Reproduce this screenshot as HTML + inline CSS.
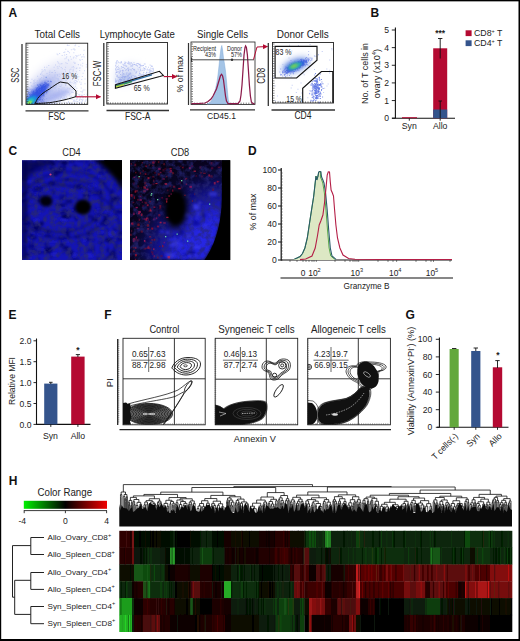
<!DOCTYPE html><html><head><meta charset="utf-8"><style>html,body{margin:0;padding:0;background:#fff;}svg{display:block;}</style></head><body>
<svg width="520" height="641" viewBox="0 0 520 641" font-family="Liberation Sans, sans-serif">
<defs>
<linearGradient id="cr" x1="0" x2="1" y1="0" y2="0"><stop offset="0" stop-color="#00f000"/><stop offset="0.5" stop-color="#000"/><stop offset="1" stop-color="#f00000"/></linearGradient>
<clipPath id="pa0"><rect x="26" y="43.5" width="62" height="61"/></clipPath>
<clipPath id="pa1"><rect x="107" y="42" width="61" height="63.5"/></clipPath>
<clipPath id="pa2"><rect x="191" y="42" width="64" height="62.5"/></clipPath>
<clipPath id="pa3"><rect x="272" y="42.5" width="62" height="62"/></clipPath>
<marker id="arr" viewBox="0 0 10 10" refX="9" refY="5" markerWidth="5" markerHeight="5" orient="auto"><path d="M0 0 L10 5 L0 10 z" fill="#b40a32"/></marker>
<filter id="b0_5" x="-50%" y="-50%" width="200%" height="200%"><feGaussianBlur stdDeviation="0.5"/></filter>
<filter id="b0_8" x="-50%" y="-50%" width="200%" height="200%"><feGaussianBlur stdDeviation="0.8"/></filter>
<filter id="b1" x="-50%" y="-50%" width="200%" height="200%"><feGaussianBlur stdDeviation="1"/></filter>
<filter id="b1_2" x="-50%" y="-50%" width="200%" height="200%"><feGaussianBlur stdDeviation="1.2"/></filter>
<filter id="b1_3" x="-50%" y="-50%" width="200%" height="200%"><feGaussianBlur stdDeviation="1.3"/></filter>
<filter id="b1_5" x="-50%" y="-50%" width="200%" height="200%"><feGaussianBlur stdDeviation="1.5"/></filter>
<filter id="b2" x="-50%" y="-50%" width="200%" height="200%"><feGaussianBlur stdDeviation="2"/></filter>
<filter id="b2_5" x="-50%" y="-50%" width="200%" height="200%"><feGaussianBlur stdDeviation="2.5"/></filter>
<filter id="b3" x="-50%" y="-50%" width="200%" height="200%"><feGaussianBlur stdDeviation="3"/></filter>
<filter id="b4" x="-50%" y="-50%" width="200%" height="200%"><feGaussianBlur stdDeviation="4"/></filter>
<filter id="b5" x="-50%" y="-50%" width="200%" height="200%"><feGaussianBlur stdDeviation="5"/></filter>
<filter id="b6" x="-50%" y="-50%" width="200%" height="200%"><feGaussianBlur stdDeviation="6"/></filter>
<filter id="b8" x="-50%" y="-50%" width="200%" height="200%"><feGaussianBlur stdDeviation="8"/></filter>
<filter id="nz" x="0" y="0" width="100%" height="100%"><feTurbulence type="fractalNoise" baseFrequency="0.18" numOctaves="3" seed="4"/><feColorMatrix type="matrix" values="0 0 0 0 0.02  0 0 0 0 0.02  0 0 0 0 0.18  3 0 0 0 -1.2"/></filter>
<filter id="nz2" x="0" y="0" width="100%" height="100%"><feTurbulence type="fractalNoise" baseFrequency="0.5" numOctaves="2" seed="9"/><feColorMatrix type="matrix" values="0 0 0 0 0.2  0 0 0 0 0.2  0 0 0 0 0.95  0 2.2 0 0 -1.15"/></filter>
</defs>
<rect x="0" y="0" width="520" height="641" fill="#fff"/>
<text x="8.5" y="17" font-size="12" text-anchor="start" font-weight="bold" fill="#111" >A</text>
<text x="57.3" y="37.5" font-size="10.2" text-anchor="middle" fill="#222" textLength="45.5" lengthAdjust="spacingAndGlyphs" >Total Cells</text>
<g clip-path="url(#pa0)"><ellipse cx="52" cy="82" rx="32" ry="16" fill="#e6e8f8" opacity="1" transform="rotate(-38 52 82)" filter="url(#b5)"/></g>
<g clip-path="url(#pa0)"><ellipse cx="44" cy="88" rx="20" ry="9" fill="#b8c0f0" opacity="1" transform="rotate(-40 44 88)" filter="url(#b4)"/></g>
<g clip-path="url(#pa0)"><ellipse cx="38" cy="93" rx="15" ry="5.5" fill="#3c5ae0" opacity="0.9" transform="rotate(-45 38 93)" filter="url(#b2)"/></g>
<g clip-path="url(#pa0)"><ellipse cx="56" cy="96" rx="17" ry="4" fill="#7888e8" opacity="0.6" transform="rotate(-22 56 96)" filter="url(#b2_5)"/></g>
<g clip-path="url(#pa0)" opacity="0.6">
<path fill="#b1bef1" d="M46.22 103.52h1v1h-1zM72.76 101.17h1v1h-1zM62.37 91.32h1v1h-1zM26.81 88.8h1v1h-1zM33.58 87.16h1v1h-1zM57.41 79.66h1v1h-1zM54.49 99.75h1v1h-1zM46.62 97.33h1v1h-1zM46.09 80.95h1v1h-1zM60.29 86.04h1v1h-1zM63.5 101.65h1v1h-1zM75.56 100.46h1v1h-1zM71.35 91.97h1v1h-1zM53.59 66.66h1v1h-1zM47.39 81.95h1v1h-1zM57.88 62.39h1v1h-1zM36.26 84.65h1v1h-1zM48.97 103.43h1v1h-1zM78.36 76.24h1v1h-1zM73.35 52.36h1v1h-1zM41.57 69.19h1v1h-1zM47.65 103.99h1v1h-1zM41.64 89.33h1v1h-1zM58.7 73.38h1v1h-1zM77.14 55.59h1v1h-1zM67.88 101.91h1v1h-1zM74.43 95.34h1v1h-1zM81.11 102.05h1v1h-1zM54.3 103.8h1v1h-1zM86.41 93.82h1v1h-1zM29.16 87.82h1v1h-1zM67.9 59.14h1v1h-1zM76.01 55.68h1v1h-1zM66.73 91.59h1v1h-1zM66.12 53.92h1v1h-1zM80.75 87.59h1v1h-1zM75.18 82.13h1v1h-1zM74.17 49.45h1v1h-1zM69.15 84.4h1v1h-1zM66.96 44.52h1v1h-1zM49.38 70.55h1v1h-1zM33.99 83.35h1v1h-1zM32.99 86.77h1v1h-1zM58.38 101.5h1v1h-1zM85.87 64.34h1v1h-1zM74.48 49.28h1v1h-1zM55.8 101.72h1v1h-1zM45.15 93.6h1v1h-1zM72 78.9h1v1h-1zM55.21 103.89h1v1h-1zM65.33 80.13h1v1h-1zM46.75 102.5h1v1h-1zM46.34 66.64h1v1h-1zM55.75 86.13h1v1h-1zM59.45 85.75h1v1h-1zM64.52 58.3h1v1h-1zM30.36 82.14h1v1h-1zM40.1 84.97h1v1h-1zM74.38 79.83h1v1h-1zM39.73 88.09h1v1h-1zM33.9 85.14h1v1h-1zM39.75 78.8h1v1h-1zM54.57 103.35h1v1h-1zM59.5 63.43h1v1h-1zM73.68 83.36h1v1h-1zM55.98 101.87h1v1h-1zM53.99 100.24h1v1h-1zM84.48 83.27h1v1h-1zM76.29 87.87h1v1h-1zM65.38 62.33h1v1h-1zM58.9 90.79h1v1h-1zM74.27 95.88h1v1h-1zM45.05 92.43h1v1h-1zM80.51 91.03h1v1h-1zM52.37 77.2h1v1h-1zM72.74 69.36h1v1h-1zM73.6 81.15h1v1h-1zM73.53 56.49h1v1h-1zM75.16 96.31h1v1h-1zM69 71.53h1v1h-1zM48.39 103.99h1v1h-1zM63.07 72.33h1v1h-1zM65.92 96.61h1v1h-1zM37.08 85.73h1v1h-1zM48.17 94.07h1v1h-1zM62.82 75.86h1v1h-1zM61.4 73.02h1v1h-1zM76.77 97.79h1v1h-1zM83.55 49.75h1v1h-1zM47.87 98.54h1v1h-1zM81.9 100.06h1v1h-1zM85.3 100.41h1v1h-1zM54.64 99.22h1v1h-1zM46.66 103.84h1v1h-1zM47.63 101.79h1v1h-1zM40.75 79.8h1v1h-1zM67.76 51.1h1v1h-1zM76.4 93.01h1v1h-1zM48.22 96.24h1v1h-1zM71.3 95.85h1v1h-1zM58.08 100.44h1v1h-1zM85.81 66.62h1v1h-1zM76.92 74.12h1v1h-1zM83.7 93.89h1v1h-1zM33.47 81.76h1v1h-1zM69.19 88.29h1v1h-1zM50.1 103.32h1v1h-1zM84.48 100.63h1v1h-1zM60.15 96.82h1v1h-1zM74.3 103.62h1v1h-1zM76.81 81.21h1v1h-1zM81.73 58.95h1v1h-1zM64.27 103.53h1v1h-1zM36.72 80.17h1v1h-1zM40.91 88.39h1v1h-1zM54.13 81.75h1v1h-1zM62.31 98.1h1v1h-1zM79.78 59.67h1v1h-1zM36.98 88.59h1v1h-1zM34.65 85.99h1v1h-1zM53.06 96.57h1v1h-1zM44.56 83.79h1v1h-1zM30.14 81.95h1v1h-1zM76.64 90.26h1v1h-1zM80.19 64.44h1v1h-1zM26.51 87.16h1v1h-1zM85.06 96.89h1v1h-1zM73.32 103.3h1v1h-1zM40.21 73.46h1v1h-1zM67.61 103.5h1v1h-1zM57.59 95.09h1v1h-1zM59.7 98.21h1v1h-1zM43.83 91.72h1v1h-1zM36.55 86.32h1v1h-1zM72.59 91.88h1v1h-1zM38.41 80.47h1v1h-1zM51.57 95.49h1v1h-1zM78.72 102.32h1v1h-1zM50.28 78.72h1v1h-1zM75.82 68.07h1v1h-1zM72.25 88.99h1v1h-1zM81.81 76.03h1v1h-1zM65.74 101.92h1v1h-1zM64.19 54.46h1v1h-1zM57.23 61.15h1v1h-1zM72.91 57.51h1v1h-1zM58.03 78.31h1v1h-1zM54.82 92.7h1v1h-1zM59.95 102.58h1v1h-1zM61.1 94.55h1v1h-1zM41.09 90.69h1v1h-1zM52.23 95.84h1v1h-1zM57.77 98.7h1v1h-1zM72.76 85.76h1v1h-1zM50.75 101.38h1v1h-1zM49.59 102.79h1v1h-1zM39.06 79.64h1v1h-1zM33.42 86.77h1v1h-1zM73.81 99.47h1v1h-1zM73.33 87.56h1v1h-1zM65.87 79.76h1v1h-1zM52.82 95.72h1v1h-1zM54.43 90.74h1v1h-1zM46.75 84.99h1v1h-1zM36.09 85.89h1v1h-1zM49.49 102.61h1v1h-1zM49.47 102.94h1v1h-1zM55.31 102.99h1v1h-1zM69.91 81.59h1v1h-1zM74.4 81.93h1v1h-1zM86.71 99.2h1v1h-1zM82.38 56.23h1v1h-1zM78.44 93.9h1v1h-1zM28.53 86.95h1v1h-1zM78.86 99.15h1v1h-1zM53.17 83.71h1v1h-1zM37.12 75.75h1v1h-1zM62.97 90.88h1v1h-1zM51.89 90.29h1v1h-1zM69.26 96.8h1v1h-1zM55.27 99.93h1v1h-1zM50.38 82h1v1h-1zM71.56 66.69h1v1h-1zM73.45 61.73h1v1h-1zM77.91 64.24h1v1h-1zM49.03 86.65h1v1h-1zM61.67 54.96h1v1h-1zM78.44 96.1h1v1h-1zM81.09 56.48h1v1h-1zM75.08 44.49h1v1h-1zM64.95 74.03h1v1h-1zM51.18 71.88h1v1h-1zM61.23 79.24h1v1h-1zM33.85 81.41h1v1h-1zM59.63 74.22h1v1h-1zM75.4 102.82h1v1h-1zM79.97 97.34h1v1h-1zM61.01 96.11h1v1h-1zM64.84 91.31h1v1h-1zM76.44 67.44h1v1h-1zM45.23 93.33h1v1h-1zM34.83 88.02h1v1h-1zM71.57 91.18h1v1h-1zM40.31 77.92h1v1h-1zM64.26 92.22h1v1h-1zM40.21 73.83h1v1h-1zM78.75 94.62h1v1h-1zM50.95 94.09h1v1h-1zM32.17 86.27h1v1h-1zM60.78 93.3h1v1h-1zM34.59 89.09h1v1h-1zM43.19 77.77h1v1h-1zM74.49 95.86h1v1h-1zM53.37 101.17h1v1h-1zM69.7 98.57h1v1h-1zM53.73 82.68h1v1h-1zM44.51 87.46h1v1h-1zM46.49 73.04h1v1h-1zM68.24 60.13h1v1h-1zM57.08 78.26h1v1h-1zM46.5 78.12h1v1h-1zM58.78 88.37h1v1h-1zM48.31 83.59h1v1h-1zM78.8 103.43h1v1h-1zM48.23 85.22h1v1h-1zM47.69 87.74h1v1h-1zM76.78 96.88h1v1h-1zM44.32 69.04h1v1h-1zM69.73 97.99h1v1h-1zM70.31 84.34h1v1h-1zM31.43 78.75h1v1h-1zM61.7 87.5h1v1h-1zM48.54 101.99h1v1h-1zM64.52 94.5h1v1h-1zM48.48 84.7h1v1h-1zM47.81 103.54h1v1h-1zM75.45 54.88h1v1h-1zM72.27 103.92h1v1h-1zM60.14 97.41h1v1h-1zM83.04 54.25h1v1h-1zM72.86 65.93h1v1h-1zM66.26 56.35h1v1h-1zM58.15 87.96h1v1h-1zM53.03 97.75h1v1h-1zM50.07 89.29h1v1h-1zM80.63 82.38h1v1h-1zM61.39 62.91h1v1h-1zM46.86 85.01h1v1h-1zM75.78 77.47h1v1h-1zM84.82 103.56h1v1h-1zM55.35 92.79h1v1h-1zM57.2 74.24h1v1h-1zM43.3 75.18h1v1h-1zM74.15 87.34h1v1h-1zM52.5 103.62h1v1h-1zM72.59 76.11h1v1h-1zM41.09 76.97h1v1h-1zM60.74 66.98h1v1h-1zM54.49 75.13h1v1h-1zM59.38 98.67h1v1h-1zM48.12 100.93h1v1h-1zM67.23 50.65h1v1h-1zM45.18 89.5h1v1h-1zM65.14 85.01h1v1h-1zM40.83 87.84h1v1h-1zM80.5 101.51h1v1h-1zM26.44 86.85h1v1h-1zM73.96 100.85h1v1h-1zM65.03 99.37h1v1h-1zM73.45 67.23h1v1h-1zM69.15 69.46h1v1h-1zM82.08 94.68h1v1h-1zM65.17 74.11h1v1h-1zM52.59 90.28h1v1h-1zM81.72 92.34h1v1h-1zM79.25 59.19h1v1h-1zM34.33 79.51h1v1h-1zM41.68 74.43h1v1h-1zM41.2 72.59h1v1h-1zM69.89 56.22h1v1h-1zM54.18 69.91h1v1h-1zM84.37 89.42h1v1h-1zM54.48 74.23h1v1h-1zM49.07 77.83h1v1h-1zM50.33 102.97h1v1h-1zM68.87 52.29h1v1h-1zM55.83 89.6h1v1h-1zM56.35 92.12h1v1h-1zM61.83 68.3h1v1h-1zM54.64 103.86h1v1h-1zM47.59 75.45h1v1h-1zM80.04 54.36h1v1h-1zM82.24 97.23h1v1h-1zM68.42 44.88h1v1h-1zM58.62 91.79h1v1h-1zM81.78 65.62h1v1h-1zM65.31 90.78h1v1h-1zM78.4 54.72h1v1h-1zM59.12 53.09h1v1h-1zM49.2 72.12h1v1h-1zM33.19 80.16h1v1h-1zM78.84 101.9h1v1h-1zM75.91 71.13h1v1h-1zM42.77 87.7h1v1h-1zM57.6 97.7h1v1h-1zM33.49 83.12h1v1h-1zM76.2 80.92h1v1h-1zM38.49 78.57h1v1h-1zM63.04 103.88h1v1h-1zM49.33 102.28h1v1h-1zM70.79 85.26h1v1h-1zM49.97 83.83h1v1h-1zM73.23 75.63h1v1h-1zM68.09 91.64h1v1h-1zM74.47 45.25h1v1h-1zM75.56 94.63h1v1h-1zM71.44 89.25h1v1h-1zM54.96 72.01h1v1h-1zM43.51 84.99h1v1h-1zM72.64 48.67h1v1h-1zM53.66 87.3h1v1h-1zM36.16 83.38h1v1h-1zM53.47 86.11h1v1h-1zM46.68 89.13h1v1h-1zM66.94 78.92h1v1h-1zM81.07 95.34h1v1h-1zM44 66.71h1v1h-1zM80.82 103.12h1v1h-1zM65.12 66.78h1v1h-1zM80.65 94.52h1v1h-1zM58.22 89.63h1v1h-1zM55.63 84.48h1v1h-1zM50.98 96.14h1v1h-1zM58.72 65.65h1v1h-1zM54.29 88.15h1v1h-1zM82.6 99.14h1v1h-1zM80.44 84.11h1v1h-1zM83.75 56.49h1v1h-1zM38.4 88.23h1v1h-1zM75.5 79.99h1v1h-1zM66.65 63.11h1v1h-1zM75.25 100.76h1v1h-1zM51.09 91.3h1v1h-1zM73.31 83.23h1v1h-1zM63.22 94.91h1v1h-1zM52.02 71.93h1v1h-1zM52.28 91.47h1v1h-1zM41.74 90.36h1v1h-1zM82.16 90.76h1v1h-1zM75.07 85.71h1v1h-1zM54.93 87.32h1v1h-1zM49.15 87.82h1v1h-1zM65.04 83.41h1v1h-1zM40.04 88.89h1v1h-1zM84.58 78.45h1v1h-1zM61.21 84.49h1v1h-1zM70.79 49.18h1v1h-1zM75.17 93.16h1v1h-1zM51.69 100.52h1v1h-1zM56.58 53.56h1v1h-1zM55.72 77.81h1v1h-1zM48.2 82.03h1v1h-1zM84.01 70.14h1v1h-1zM58.07 103.93h1v1h-1zM39.33 84.76h1v1h-1zM32.63 83.4h1v1h-1zM31.39 85.79h1v1h-1zM55.65 97.74h1v1h-1zM69.46 93.28h1v1h-1zM74.67 95.03h1v1h-1zM64.94 98.06h1v1h-1zM70.48 95.78h1v1h-1zM70.89 98.58h1v1h-1zM76.78 101.01h1v1h-1zM73.57 90.26h1v1h-1zM41.65 71.28h1v1h-1zM79.18 81.4h1v1h-1zM63.85 96.52h1v1h-1zM54.53 81.21h1v1h-1zM77.23 101.06h1v1h-1zM52.54 93.23h1v1h-1zM59.9 95.9h1v1h-1zM50.26 96.64h1v1h-1zM49.17 73.78h1v1h-1zM60.66 89.61h1v1h-1zM61.04 97.11h1v1h-1zM64.43 69.03h1v1h-1zM35.3 89.17h1v1h-1zM43.35 82.3h1v1h-1zM69.77 72.34h1v1h-1zM70.29 102.5h1v1h-1zM75.35 83.61h1v1h-1zM62.51 76.55h1v1h-1zM63.95 97.77h1v1h-1zM44.89 94.97h1v1h-1zM78.84 100.3h1v1h-1zM42.43 82.51h1v1h-1zM57.76 79.26h1v1h-1zM68.75 94.59h1v1h-1zM45.53 95.16h1v1h-1zM65.28 48.74h1v1h-1zM27.34 88.02h1v1h-1zM62.67 97.6h1v1h-1zM72.66 70.46h1v1h-1zM81.38 99h1v1h-1zM72.42 98.84h1v1h-1zM56.76 66.31h1v1h-1zM81.25 79.03h1v1h-1zM64.34 51.57h1v1h-1zM70.79 58.63h1v1h-1zM49.05 91.42h1v1h-1zM73.54 48.3h1v1h-1zM78.88 67.38h1v1h-1zM77.79 79.22h1v1h-1zM67.24 87.77h1v1h-1zM58.08 89.76h1v1h-1zM57.45 92.38h1v1h-1zM54.34 76.44h1v1h-1zM54.74 72.25h1v1h-1zM57.07 75.14h1v1h-1zM79.21 69.99h1v1h-1zM59.75 100.8h1v1h-1zM38.34 82.09h1v1h-1zM74.29 63h1v1h-1zM66.98 103.48h1v1h-1zM77.8 63.92h1v1h-1zM30.85 85.29h1v1h-1zM65.39 103.91h1v1h-1zM75.87 98.68h1v1h-1zM61.33 90.64h1v1h-1zM33.97 84.86h1v1h-1zM76.38 99.11h1v1h-1zM48.12 86.32h1v1h-1zM45.96 97.53h1v1h-1zM48.25 64.98h1v1h-1zM82.57 72.66h1v1h-1zM75.53 57.5h1v1h-1zM57.53 67.67h1v1h-1zM82.27 62.8h1v1h-1zM67.59 73.5h1v1h-1zM50.14 92.2h1v1h-1zM55.12 96.22h1v1h-1zM82.77 89.46h1v1h-1zM57.43 82.87h1v1h-1zM43.11 81.02h1v1h-1zM78.42 46.08h1v1h-1zM55.02 64.58h1v1h-1zM63.4 51.91h1v1h-1zM32.77 85.56h1v1h-1zM82.7 96.96h1v1h-1zM65.04 70.86h1v1h-1zM71.26 103.04h1v1h-1zM61.64 93.15h1v1h-1zM49.97 89.13h1v1h-1zM51.74 95.26h1v1h-1zM33.56 87.02h1v1h-1zM66.83 44.91h1v1h-1zM42.7 70.49h1v1h-1zM67.96 101.06h1v1h-1zM51.05 86.42h1v1h-1zM79.37 98.52h1v1h-1zM80.42 99.31h1v1h-1zM69.25 82.4h1v1h-1zM50.01 80.36h1v1h-1zM41.57 83.99h1v1h-1zM59.01 90.76h1v1h-1zM79.67 67.38h1v1h-1zM70.73 73.12h1v1h-1zM85.38 99.19h1v1h-1zM79.15 94.6h1v1h-1zM71.47 82.16h1v1h-1zM39.42 80.64h1v1h-1zM45.39 76.89h1v1h-1zM69.53 81.65h1v1h-1zM45.62 102.71h1v1h-1zM81.81 100.77h1v1h-1zM65.43 84.61h1v1h-1zM45.95 92.28h1v1h-1zM43.49 76.37h1v1h-1zM56.69 73.9h1v1h-1zM74.66 62.43h1v1h-1zM49.12 102.01h1v1h-1zM53.27 92.52h1v1h-1zM38.39 86.42h1v1h-1zM57.39 54.19h1v1h-1zM65.85 57.47h1v1h-1zM58.55 79.84h1v1h-1zM43.35 82.97h1v1h-1zM48.75 95.95h1v1h-1zM50.29 99.24h1v1h-1zM40.17 86.43h1v1h-1zM47.29 99.74h1v1h-1zM75.99 76.27h1v1h-1zM44.58 70.29h1v1h-1zM73.31 100.06h1v1h-1zM50.64 93.12h1v1h-1zM63.52 87.32h1v1h-1zM70.37 68.79h1v1h-1zM50.12 98.94h1v1h-1zM36.81 81.77h1v1h-1zM61.21 63.15h1v1h-1zM47.05 95.48h1v1h-1zM35.25 81.89h1v1h-1zM46.16 88.43h1v1h-1zM39.98 74.03h1v1h-1zM49.92 90.96h1v1h-1zM44.31 90.7h1v1h-1zM69.78 87.53h1v1h-1zM57.8 81.61h1v1h-1zM69.84 102.7h1v1h-1zM58.84 76.1h1v1h-1z"/>
<path fill="#8496e9" d="M42.93 103.38h1v1h-1zM39.71 94.94h1v1h-1zM36.1 90.83h1v1h-1zM34.09 89.89h1v1h-1zM39.25 91.71h1v1h-1zM44.85 103.26h1v1h-1zM41.08 93.39h1v1h-1zM43.91 103.94h1v1h-1zM45.96 101.51h1v1h-1zM43.49 96.04h1v1h-1zM43.02 93.22h1v1h-1zM43.25 101.19h1v1h-1zM42.21 101.55h1v1h-1zM42.38 97.37h1v1h-1zM43.2 95.01h1v1h-1zM32.17 89.01h1v1h-1zM43.77 101.14h1v1h-1zM37.88 91.63h1v1h-1zM45.61 102.48h1v1h-1zM27.31 89.53h1v1h-1zM45.5 101.86h1v1h-1zM27.84 90.6h1v1h-1zM41.99 103.72h1v1h-1zM26.28 89.4h1v1h-1zM27.24 89.36h1v1h-1zM26.05 90.21h1v1h-1zM29.15 89.5h1v1h-1zM43.47 99.43h1v1h-1zM42.81 100.51h1v1h-1zM43.48 96.25h1v1h-1zM44.22 100.97h1v1h-1zM29.52 88.63h1v1h-1zM42 103.51h1v1h-1zM42.93 95.06h1v1h-1zM33.86 91.2h1v1h-1zM34.33 89.39h1v1h-1zM41.75 98.73h1v1h-1zM31.92 91.27h1v1h-1zM40.33 93.36h1v1h-1zM38.67 92.37h1v1h-1zM30.73 88.76h1v1h-1zM43.12 93.96h1v1h-1zM37.27 92.29h1v1h-1zM44.25 103.39h1v1h-1zM43.96 103.07h1v1h-1zM31.99 90.61h1v1h-1zM44.17 98.65h1v1h-1zM29.54 89.5h1v1h-1zM46.07 102.14h1v1h-1zM38.21 91.03h1v1h-1zM43.97 103.71h1v1h-1zM37.91 90.48h1v1h-1zM46.2 98.31h1v1h-1zM43.88 101.47h1v1h-1zM31.14 89.93h1v1h-1zM35.07 91.76h1v1h-1zM44.27 100.86h1v1h-1zM42.81 92.88h1v1h-1zM35.06 90.68h1v1h-1zM31.83 90.5h1v1h-1zM45.39 101.83h1v1h-1zM43.47 103.96h1v1h-1zM43.08 95.37h1v1h-1z"/>
<path fill="#5c73e3" d="M37.9 101.29h1v1h-1zM41.48 102.53h1v1h-1zM42.14 99.52h1v1h-1zM39.11 99.56h1v1h-1zM38.76 102.24h1v1h-1zM39.28 102.36h1v1h-1zM29.1 91.65h1v1h-1zM36.51 94.87h1v1h-1zM39.84 103.76h1v1h-1zM40.97 100.54h1v1h-1zM39.63 97.37h1v1h-1zM38.92 103.54h1v1h-1zM35.31 94.43h1v1h-1zM37.81 103.69h1v1h-1zM27.8 91.46h1v1h-1zM37.84 93.5h1v1h-1zM40.59 94.42h1v1h-1zM38.09 96.71h1v1h-1zM30.61 91.32h1v1h-1zM40.1 99.35h1v1h-1zM31.79 92.15h1v1h-1zM37.85 100.88h1v1h-1zM37.12 93.72h1v1h-1zM42.68 101.48h1v1h-1zM31.22 91.41h1v1h-1zM35.35 92.14h1v1h-1zM39.59 99.89h1v1h-1zM40.59 100.66h1v1h-1zM38.45 103.19h1v1h-1zM33.81 95.18h1v1h-1zM40.44 98.24h1v1h-1zM32.54 92.16h1v1h-1zM41.42 101.54h1v1h-1zM42.69 98.18h1v1h-1zM34.7 92.64h1v1h-1zM28.35 91.9h1v1h-1zM32.72 94.04h1v1h-1zM32.46 91.41h1v1h-1zM42.11 98.96h1v1h-1zM39.63 100.41h1v1h-1zM32.98 94.29h1v1h-1zM39.39 102.72h1v1h-1zM41.5 96.59h1v1h-1zM39.38 98.81h1v1h-1zM37.04 94.93h1v1h-1zM42.8 101.28h1v1h-1zM37.74 103.82h1v1h-1zM35.5 95h1v1h-1zM40.62 102.69h1v1h-1zM40.36 101.34h1v1h-1zM39.4 102.27h1v1h-1zM27.48 92.79h1v1h-1zM37.53 96.92h1v1h-1zM35.63 103.86h1v1h-1zM28.43 92.88h1v1h-1zM37.14 93.11h1v1h-1zM37.38 97.15h1v1h-1zM27.89 91.76h1v1h-1zM38.37 103.9h1v1h-1zM36.88 96.72h1v1h-1zM33.23 92.24h1v1h-1zM34.99 95.09h1v1h-1zM34.57 92.16h1v1h-1zM42.26 100.21h1v1h-1zM39.73 100.01h1v1h-1zM28.59 92.55h1v1h-1zM32.02 92.89h1v1h-1zM40.86 101.05h1v1h-1zM38.43 98.32h1v1h-1zM39.85 103.39h1v1h-1zM29.87 92.87h1v1h-1z"/>
<path fill="#3955de" d="M26.77 103.49h1v1h-1zM30.46 103.66h1v1h-1zM31.93 104h1v1h-1zM34.7 99.95h1v1h-1zM28.12 97.57h1v1h-1zM37.45 101.66h1v1h-1zM36.67 99.47h1v1h-1zM36.85 103.77h1v1h-1zM34.94 103.01h1v1h-1zM33.33 103.42h1v1h-1zM31.21 103.79h1v1h-1zM35.14 103.68h1v1h-1zM36.36 101.91h1v1h-1zM28.21 103.32h1v1h-1zM29.73 95.12h1v1h-1zM32.02 103.6h1v1h-1zM29.53 103.72h1v1h-1zM34.07 103.58h1v1h-1zM35.01 99.67h1v1h-1zM30.86 94.23h1v1h-1zM33.87 101.58h1v1h-1zM31.48 102.94h1v1h-1zM33.17 104h1v1h-1zM29.52 95.53h1v1h-1zM30.22 103.36h1v1h-1zM33.86 102.41h1v1h-1zM32.08 103.74h1v1h-1zM32.03 103.09h1v1h-1zM26.69 103.35h1v1h-1zM27.07 97.79h1v1h-1zM33.75 103.05h1v1h-1zM35.24 99.86h1v1h-1zM26.98 102h1v1h-1zM30.43 96.78h1v1h-1zM27.28 95.15h1v1h-1zM34.5 95.6h1v1h-1zM35.21 102.46h1v1h-1zM34.84 103.65h1v1h-1zM34.48 95.3h1v1h-1zM34.52 104h1v1h-1zM30.14 103.77h1v1h-1zM34.88 98.11h1v1h-1zM37.54 102.52h1v1h-1zM26.79 103.88h1v1h-1zM32.12 103.64h1v1h-1zM36.96 100.7h1v1h-1zM35.16 101.44h1v1h-1zM33.85 101.87h1v1h-1zM28.38 97.23h1v1h-1zM29.47 102.57h1v1h-1zM29.15 103.95h1v1h-1zM33.27 103.8h1v1h-1zM29.42 94.03h1v1h-1zM35.79 98.25h1v1h-1zM33.3 94.81h1v1h-1zM26.64 103.81h1v1h-1zM33.54 103.24h1v1h-1zM34.27 103.6h1v1h-1zM33.17 103.62h1v1h-1zM33.04 103.04h1v1h-1zM27.05 102.23h1v1h-1zM29.72 103.9h1v1h-1zM35.28 97.77h1v1h-1zM36.18 103.08h1v1h-1zM34.33 103.18h1v1h-1zM30.66 96.09h1v1h-1zM35.26 103.3h1v1h-1zM34.31 97.81h1v1h-1zM29.26 103.33h1v1h-1zM26.14 97.37h1v1h-1zM35.39 103.37h1v1h-1zM36.42 100.88h1v1h-1zM36.96 97.7h1v1h-1zM33.05 96.4h1v1h-1zM35.35 102.05h1v1h-1zM26.93 95.55h1v1h-1zM31.4 103.45h1v1h-1zM38.18 86.34h1v1h-1zM33.9 100.75h1v1h-1zM40.71 90.09h1v1h-1zM28.64 100.92h1v1h-1zM36.99 87.47h1v1h-1zM37.05 95.04h1v1h-1zM32.49 101.3h1v1h-1zM43.34 95.13h1v1h-1zM41.36 90.6h1v1h-1zM30.54 102.91h1v1h-1zM37.07 100.11h1v1h-1zM30.73 94.16h1v1h-1zM42.55 89.77h1v1h-1zM48.3 84.81h1v1h-1zM27.04 104.01h1v1h-1zM46.83 90.38h1v1h-1zM38.56 93.37h1v1h-1zM41.44 88.45h1v1h-1zM38.64 99.96h1v1h-1zM37.58 94.41h1v1h-1zM47.76 84.97h1v1h-1zM38.83 96.76h1v1h-1zM33.38 103.61h1v1h-1zM37.13 84.54h1v1h-1zM42.04 89.66h1v1h-1zM39.11 96.22h1v1h-1zM28.78 104.47h1v1h-1zM50.12 80.68h1v1h-1zM35.94 98.19h1v1h-1zM28.81 99.68h1v1h-1zM34.53 95.53h1v1h-1zM32.05 99.77h1v1h-1zM42.95 93.61h1v1h-1zM43.77 89.12h1v1h-1zM29.55 99.25h1v1h-1zM33.24 97.63h1v1h-1zM42.78 91.61h1v1h-1zM31.32 103.34h1v1h-1zM46.04 92.26h1v1h-1zM40.13 84.91h1v1h-1zM42.39 91.36h1v1h-1zM42.12 91.53h1v1h-1zM28.65 101.43h1v1h-1zM39.41 94.96h1v1h-1zM50.65 81.14h1v1h-1zM36.1 90.5h1v1h-1zM39.77 97h1v1h-1zM36.24 95.63h1v1h-1zM43.8 89.52h1v1h-1zM34.95 94.83h1v1h-1zM44.58 87.66h1v1h-1zM50.45 81.11h1v1h-1zM34.21 97.62h1v1h-1zM32.83 92.92h1v1h-1zM34.84 97.76h1v1h-1zM46.58 84.32h1v1h-1zM43.02 84.79h1v1h-1zM35.96 93.54h1v1h-1zM29.17 96.71h1v1h-1zM35.64 88.44h1v1h-1zM50.4 86.72h1v1h-1zM38.72 98.96h1v1h-1zM39.7 94.97h1v1h-1zM30.1 95.84h1v1h-1zM35.64 89.28h1v1h-1zM45.47 83.19h1v1h-1zM36.01 94.67h1v1h-1zM29.87 103.46h1v1h-1zM34.77 98.32h1v1h-1zM38.94 88.03h1v1h-1zM40.69 91.77h1v1h-1zM44.17 90.48h1v1h-1zM36.84 92.16h1v1h-1zM41.12 89.01h1v1h-1zM42.82 94.3h1v1h-1zM35.84 95.15h1v1h-1zM37.37 96.89h1v1h-1zM41.61 86.18h1v1h-1zM31.98 102.95h1v1h-1zM32.1 101.89h1v1h-1zM40.91 87.83h1v1h-1zM31.14 95.77h1v1h-1zM32.93 90.7h1v1h-1zM35.6 94.47h1v1h-1zM42.49 92.19h1v1h-1zM42.16 89.84h1v1h-1zM31.98 96.81h1v1h-1zM35.89 99.35h1v1h-1zM31.47 94.34h1v1h-1zM36.17 91.72h1v1h-1zM43.24 92.64h1v1h-1zM35.7 96.37h1v1h-1zM39.53 90.94h1v1h-1zM39.39 90.81h1v1h-1zM33.61 98.02h1v1h-1zM27.24 99.15h1v1h-1zM43.89 91.92h1v1h-1zM26.85 102.26h1v1h-1zM30.91 99.56h1v1h-1zM37.94 99.06h1v1h-1zM37.87 89.12h1v1h-1zM39.95 90.04h1v1h-1zM43.65 89.22h1v1h-1zM40.76 92.17h1v1h-1zM43.89 86.09h1v1h-1zM34.37 93.43h1v1h-1zM36.6 91.35h1v1h-1zM39.78 88.11h1v1h-1zM26.91 97.5h1v1h-1zM35.3 96.8h1v1h-1zM30.4 96.61h1v1h-1zM35.96 88.55h1v1h-1zM29.03 96.8h1v1h-1zM44.4 82.14h1v1h-1zM44.07 90.94h1v1h-1zM31.56 97.62h1v1h-1zM36.43 96.97h1v1h-1zM36.48 91.39h1v1h-1zM47.56 86.37h1v1h-1zM44.5 86.61h1v1h-1zM36.19 96.02h1v1h-1zM47.59 85.02h1v1h-1zM39.44 96.43h1v1h-1zM33.91 101.06h1v1h-1zM36.95 90h1v1h-1zM35.9 94.27h1v1h-1zM34.33 97.25h1v1h-1zM32.77 93.65h1v1h-1zM27.87 102.77h1v1h-1zM42.91 89.82h1v1h-1zM32.7 94.58h1v1h-1zM39.66 94.64h1v1h-1zM41.66 94.7h1v1h-1zM32.68 99.19h1v1h-1zM38.66 94.94h1v1h-1zM27.29 94.74h1v1h-1zM47.7 80.79h1v1h-1zM35.06 94.7h1v1h-1zM48.18 83.39h1v1h-1zM31.93 97.07h1v1h-1zM35.8 96.18h1v1h-1zM36.66 90.7h1v1h-1zM39.26 93h1v1h-1zM43.67 84.05h1v1h-1zM36.67 92.68h1v1h-1zM28.72 100.66h1v1h-1zM37.07 92.35h1v1h-1zM39.72 95.8h1v1h-1zM47.44 83.93h1v1h-1zM33.63 97.09h1v1h-1zM27.68 103.81h1v1h-1zM39.8 98.8h1v1h-1zM43.59 90.25h1v1h-1zM39.63 95.05h1v1h-1zM28.07 98.79h1v1h-1zM45.77 87.54h1v1h-1zM30.31 101.33h1v1h-1zM33.91 94.56h1v1h-1zM32 95.3h1v1h-1zM41.73 86.71h1v1h-1zM41.67 99.61h1v1h-1zM37.9 88.66h1v1h-1zM36.15 93.93h1v1h-1zM40.29 98.78h1v1h-1zM26.42 97.46h1v1h-1zM39.53 90.14h1v1h-1zM46.32 85.36h1v1h-1zM44.91 85.17h1v1h-1zM36.42 92.63h1v1h-1z"/>
<path fill="#215bdc" d="M32.36 101.26h1v1h-1zM30.79 99.38h1v1h-1zM31.14 101.26h1v1h-1zM28.97 100.76h1v1h-1zM27.01 99.16h1v1h-1zM27.68 101.06h1v1h-1zM28.27 100.41h1v1h-1zM27.48 102.44h1v1h-1zM31.36 97.19h1v1h-1zM26.3 99.34h1v1h-1zM34.31 98.75h1v1h-1zM29.04 101.58h1v1h-1zM31.93 102.73h1v1h-1zM29.22 98.98h1v1h-1zM30.44 98.04h1v1h-1zM26.86 101.21h1v1h-1zM32.15 99.36h1v1h-1zM29.2 100.49h1v1h-1zM32.78 97.87h1v1h-1zM30.8 98.34h1v1h-1zM32.99 100.34h1v1h-1zM27.44 97.66h1v1h-1zM32.76 99.69h1v1h-1zM26.26 98.99h1v1h-1zM31.98 100.28h1v1h-1zM28.37 100.75h1v1h-1zM28.93 100.84h1v1h-1zM29.56 100.72h1v1h-1zM29.63 101.24h1v1h-1zM30.66 98.49h1v1h-1zM30.71 100.24h1v1h-1zM26.66 100.84h1v1h-1zM32.84 100.98h1v1h-1zM28.2 98.1h1v1h-1zM26.55 100.2h1v1h-1zM30.61 100.73h1v1h-1zM32.24 98.82h1v1h-1zM28.61 99.5h1v1h-1zM28.81 102.53h1v1h-1zM35.29 98.19h1v1h-1zM41.26 90.69h1v1h-1zM30.33 98.99h1v1h-1zM32.35 97.39h1v1h-1zM35.84 97.47h1v1h-1zM32.46 97.79h1v1h-1zM36.78 92.65h1v1h-1zM42.72 90.51h1v1h-1zM39.97 93.18h1v1h-1zM37.54 91.38h1v1h-1zM44.35 87.61h1v1h-1zM38.12 94.14h1v1h-1zM39.9 92.96h1v1h-1zM30.9 99.76h1v1h-1zM36.91 91.15h1v1h-1zM38.34 95.74h1v1h-1zM40.64 95.01h1v1h-1zM34.64 98.05h1v1h-1zM39.57 84.18h1v1h-1zM32.81 91.58h1v1h-1zM29.73 99.26h1v1h-1zM42.72 87.23h1v1h-1zM44.58 89.06h1v1h-1zM33.4 101.58h1v1h-1zM38.96 92.21h1v1h-1zM28.54 104.29h1v1h-1zM41.03 86.91h1v1h-1zM31.53 102.01h1v1h-1zM41.66 88.04h1v1h-1zM30.06 100.64h1v1h-1zM30.23 98.1h1v1h-1zM37.96 92.87h1v1h-1zM48.48 89.08h1v1h-1zM44.3 86.01h1v1h-1zM32.07 95.86h1v1h-1zM41.8 93.1h1v1h-1zM32.26 100.88h1v1h-1zM36.58 96.77h1v1h-1zM36.5 97.78h1v1h-1zM31.9 95.85h1v1h-1zM35.44 92.09h1v1h-1zM31.17 98.58h1v1h-1zM37.79 88.65h1v1h-1zM44.74 89.18h1v1h-1zM36.12 92.57h1v1h-1zM45.68 76.78h1v1h-1zM40.88 89.36h1v1h-1zM42.2 93.04h1v1h-1zM36.3 95.43h1v1h-1zM28.92 93.91h1v1h-1zM34.36 96.87h1v1h-1zM38.74 92.63h1v1h-1z"/>
</g>
<g clip-path="url(#pa0)"><ellipse cx="38" cy="93" rx="12" ry="3.5" fill="#3050e0" opacity="0.8" transform="rotate(-45 38 93)" filter="url(#b1_5)"/></g>
<g clip-path="url(#pa0)"><ellipse cx="31.5" cy="100.5" rx="6.5" ry="3.8" fill="#1890e0" opacity="1" transform="rotate(-35 31.5 100.5)" filter="url(#b1_2)"/></g>
<g clip-path="url(#pa0)"><ellipse cx="30" cy="101.5" rx="4.5" ry="2.6" fill="#30c8b0" opacity="1" transform="rotate(-30 30 101.5)" filter="url(#b0_8)"/></g>
<g clip-path="url(#pa0)"><ellipse cx="29.5" cy="102.5" rx="2.5" ry="1.6" fill="#90e050" opacity="1" transform="rotate(-30 29.5 102.5)" filter="url(#b0_5)"/></g>
<rect x="26" y="43.2" width="61.7" height="61.2" fill="none" stroke="#222" stroke-width="0.9" />
<line x1="22" y1="44" x2="22" y2="105.5" stroke="#333" stroke-width="1.3" />
<line x1="26.4" y1="45" x2="28.4" y2="45" stroke="#333" stroke-width="0.6" />
<line x1="26.4" y1="47.46" x2="28.4" y2="47.46" stroke="#333" stroke-width="0.6" />
<line x1="26.4" y1="49.92" x2="28.4" y2="49.92" stroke="#333" stroke-width="0.6" />
<line x1="26.4" y1="52.38" x2="28.4" y2="52.38" stroke="#333" stroke-width="0.6" />
<line x1="26.4" y1="54.83" x2="28.4" y2="54.83" stroke="#333" stroke-width="0.6" />
<line x1="26.4" y1="57.29" x2="28.4" y2="57.29" stroke="#333" stroke-width="0.6" />
<line x1="26.4" y1="59.75" x2="28.4" y2="59.75" stroke="#333" stroke-width="0.6" />
<line x1="26.4" y1="62.21" x2="28.4" y2="62.21" stroke="#333" stroke-width="0.6" />
<line x1="26.4" y1="64.67" x2="28.4" y2="64.67" stroke="#333" stroke-width="0.6" />
<line x1="26.4" y1="67.12" x2="28.4" y2="67.12" stroke="#333" stroke-width="0.6" />
<line x1="26.4" y1="69.58" x2="28.4" y2="69.58" stroke="#333" stroke-width="0.6" />
<line x1="26.4" y1="72.04" x2="28.4" y2="72.04" stroke="#333" stroke-width="0.6" />
<line x1="26.4" y1="74.5" x2="28.4" y2="74.5" stroke="#333" stroke-width="0.6" />
<line x1="26.4" y1="76.96" x2="28.4" y2="76.96" stroke="#333" stroke-width="0.6" />
<line x1="26.4" y1="79.42" x2="28.4" y2="79.42" stroke="#333" stroke-width="0.6" />
<line x1="26.4" y1="81.88" x2="28.4" y2="81.88" stroke="#333" stroke-width="0.6" />
<line x1="26.4" y1="84.33" x2="28.4" y2="84.33" stroke="#333" stroke-width="0.6" />
<line x1="26.4" y1="86.79" x2="28.4" y2="86.79" stroke="#333" stroke-width="0.6" />
<line x1="26.4" y1="89.25" x2="28.4" y2="89.25" stroke="#333" stroke-width="0.6" />
<line x1="26.4" y1="91.71" x2="28.4" y2="91.71" stroke="#333" stroke-width="0.6" />
<line x1="26.4" y1="94.17" x2="28.4" y2="94.17" stroke="#333" stroke-width="0.6" />
<line x1="26.4" y1="96.62" x2="28.4" y2="96.62" stroke="#333" stroke-width="0.6" />
<line x1="26.4" y1="99.08" x2="28.4" y2="99.08" stroke="#333" stroke-width="0.6" />
<line x1="26.4" y1="101.54" x2="28.4" y2="101.54" stroke="#333" stroke-width="0.6" />
<line x1="26.4" y1="104" x2="28.4" y2="104" stroke="#333" stroke-width="0.6" />
<line x1="25.5" y1="110.8" x2="88.5" y2="110.8" stroke="#333" stroke-width="1.3" />
<line x1="27" y1="104.3" x2="27" y2="102.7" stroke="#333" stroke-width="0.6" />
<line x1="29.5" y1="104.3" x2="29.5" y2="102.7" stroke="#333" stroke-width="0.6" />
<line x1="32" y1="104.3" x2="32" y2="102.7" stroke="#333" stroke-width="0.6" />
<line x1="34.5" y1="104.3" x2="34.5" y2="102.7" stroke="#333" stroke-width="0.6" />
<line x1="37" y1="104.3" x2="37" y2="102.7" stroke="#333" stroke-width="0.6" />
<line x1="39.5" y1="104.3" x2="39.5" y2="102.7" stroke="#333" stroke-width="0.6" />
<line x1="42" y1="104.3" x2="42" y2="102.7" stroke="#333" stroke-width="0.6" />
<line x1="44.5" y1="104.3" x2="44.5" y2="102.7" stroke="#333" stroke-width="0.6" />
<line x1="47" y1="104.3" x2="47" y2="102.7" stroke="#333" stroke-width="0.6" />
<line x1="49.5" y1="104.3" x2="49.5" y2="102.7" stroke="#333" stroke-width="0.6" />
<line x1="52" y1="104.3" x2="52" y2="102.7" stroke="#333" stroke-width="0.6" />
<line x1="54.5" y1="104.3" x2="54.5" y2="102.7" stroke="#333" stroke-width="0.6" />
<line x1="57" y1="104.3" x2="57" y2="102.7" stroke="#333" stroke-width="0.6" />
<line x1="59.5" y1="104.3" x2="59.5" y2="102.7" stroke="#333" stroke-width="0.6" />
<line x1="62" y1="104.3" x2="62" y2="102.7" stroke="#333" stroke-width="0.6" />
<line x1="64.5" y1="104.3" x2="64.5" y2="102.7" stroke="#333" stroke-width="0.6" />
<line x1="67" y1="104.3" x2="67" y2="102.7" stroke="#333" stroke-width="0.6" />
<line x1="69.5" y1="104.3" x2="69.5" y2="102.7" stroke="#333" stroke-width="0.6" />
<line x1="72" y1="104.3" x2="72" y2="102.7" stroke="#333" stroke-width="0.6" />
<line x1="74.5" y1="104.3" x2="74.5" y2="102.7" stroke="#333" stroke-width="0.6" />
<line x1="77" y1="104.3" x2="77" y2="102.7" stroke="#333" stroke-width="0.6" />
<line x1="79.5" y1="104.3" x2="79.5" y2="102.7" stroke="#333" stroke-width="0.6" />
<line x1="82" y1="104.3" x2="82" y2="102.7" stroke="#333" stroke-width="0.6" />
<line x1="84.5" y1="104.3" x2="84.5" y2="102.7" stroke="#333" stroke-width="0.6" />
<line x1="87" y1="104.3" x2="87" y2="102.7" stroke="#333" stroke-width="0.6" />
<text x="15.5" y="75.2" font-size="10" text-anchor="middle" fill="#222" textLength="15" lengthAdjust="spacingAndGlyphs" transform="rotate(-90 15.5 75.2)" dy="3.6">SSC</text>
<text x="56.7" y="120" font-size="10.2" text-anchor="middle" fill="#222" textLength="17" lengthAdjust="spacingAndGlyphs" >FSC</text>
<path d="M35.2 103.5 C37 99 38.5 97 40.5 95.3 C44 92 47 90.5 49.4 89 C53 86.5 57 83.5 60.2 82 L67.8 83.2 L76 90.9 L76 96.6 C70 98.5 66 99.5 62 100.4 C57 101.5 53 102.2 49.4 102.7 C44 103.2 39 103.4 35.2 103.5 Z" fill="none" stroke="#111" stroke-width="1" />
<text x="69.5" y="78.8" font-size="8.6" text-anchor="middle" fill="#222" textLength="15.3" lengthAdjust="spacingAndGlyphs" >16 %</text>
<line x1="76" y1="96.8" x2="100.5" y2="96.8" stroke="#b40a32" stroke-width="1.1" marker-end="url(#arr)"/>
<text x="137.3" y="37.5" font-size="10.2" text-anchor="middle" fill="#222" textLength="75" lengthAdjust="spacingAndGlyphs" >Lymphocyte Gate</text>
<g clip-path="url(#pa1)"><ellipse cx="128" cy="74" rx="13" ry="9" fill="#dae0f6" opacity="1" transform="rotate(-20 128 74)" filter="url(#b4)"/></g>
<g clip-path="url(#pa1)"><ellipse cx="125" cy="79" rx="9" ry="4.5" fill="#b8c6ee" opacity="1" transform="rotate(-20 125 79)" filter="url(#b2_5)"/></g>
<g clip-path="url(#pa1)" opacity="0.45">
<path fill="#b1bef1" d="M121.75 76.07h1v1h-1zM144.63 67.9h1v1h-1zM119.66 82.92h1v1h-1zM128.66 78.77h1v1h-1zM135.92 71.73h1v1h-1zM125.61 68.98h1v1h-1zM117.97 64.81h1v1h-1zM136.79 66.35h1v1h-1zM121.15 82.42h1v1h-1zM118.26 68.71h1v1h-1zM149.02 73.41h1v1h-1zM115.67 83.09h1v1h-1z"/>
<path fill="#8496e9" d="M148.63 74.91h1v1h-1zM131.7 65.68h1v1h-1zM134.45 70.39h1v1h-1zM116.06 84.1h1v1h-1zM140.17 77.33h1v1h-1zM143.37 71.69h1v1h-1zM135.79 76.61h1v1h-1zM116.74 60.03h1v1h-1zM123.83 81.33h1v1h-1zM145.25 65.92h1v1h-1zM124.36 77.58h1v1h-1zM141.3 77.09h1v1h-1zM116.81 68.84h1v1h-1zM130.22 73.54h1v1h-1zM137.19 65.38h1v1h-1zM127.11 68.29h1v1h-1zM122.06 77.08h1v1h-1zM135.97 63.59h1v1h-1zM144.61 63.54h1v1h-1zM121.21 79.31h1v1h-1zM148.86 72.31h1v1h-1zM141.59 64.96h1v1h-1zM130.71 79.28h1v1h-1zM122.5 70.42h1v1h-1zM130.92 62.23h1v1h-1zM130.66 69.48h1v1h-1zM137.59 63.06h1v1h-1zM115.09 80.46h1v1h-1zM152.45 72.81h1v1h-1zM137.46 68.44h1v1h-1zM140.55 74.96h1v1h-1zM115.25 68.91h1v1h-1zM120.75 60.94h1v1h-1zM133.2 69.24h1v1h-1zM137.83 74.81h1v1h-1zM115.86 84.64h1v1h-1zM117.48 82.8h1v1h-1zM151.39 68.17h1v1h-1zM141.33 75.6h1v1h-1zM122.15 75.73h1v1h-1zM127.23 67.76h1v1h-1zM149.45 72.06h1v1h-1zM115.29 64.65h1v1h-1zM145.52 66.62h1v1h-1zM121.32 83.05h1v1h-1zM148.04 74.08h1v1h-1zM133.02 69.14h1v1h-1zM124.91 69.67h1v1h-1zM124.22 67.91h1v1h-1zM142.22 74.55h1v1h-1zM130.34 79.3h1v1h-1zM142.61 74.06h1v1h-1zM141.11 75.13h1v1h-1zM119.53 76.73h1v1h-1zM115.58 69.72h1v1h-1zM120 83.26h1v1h-1zM116.86 75.27h1v1h-1zM116.38 83.01h1v1h-1zM118.28 80.37h1v1h-1zM116.91 83.66h1v1h-1zM128.17 62.61h1v1h-1zM115.95 81.09h1v1h-1zM130.41 77.4h1v1h-1zM146 74.09h1v1h-1zM120.93 62.17h1v1h-1zM139.52 77.13h1v1h-1zM122.64 79.83h1v1h-1zM128.22 67.47h1v1h-1zM119.98 73.88h1v1h-1zM135.84 77.4h1v1h-1zM150.14 67.57h1v1h-1zM124.37 63.12h1v1h-1zM116.15 81.16h1v1h-1zM127 79.79h1v1h-1zM150.28 72.89h1v1h-1zM129.87 62.52h1v1h-1zM152.57 68.83h1v1h-1zM122.77 75.68h1v1h-1zM136.63 78.39h1v1h-1zM133.91 76.32h1v1h-1zM131.95 68.11h1v1h-1zM117.65 82.33h1v1h-1zM132.79 64.28h1v1h-1zM119.98 81.18h1v1h-1zM121.04 61.65h1v1h-1zM115.6 61.9h1v1h-1zM115.13 79.78h1v1h-1zM151.25 66.04h1v1h-1zM130.6 64.98h1v1h-1zM135.94 71.76h1v1h-1zM120.27 69.7h1v1h-1zM132.31 77.83h1v1h-1zM120.63 79.71h1v1h-1zM130.37 68.89h1v1h-1zM139.99 69.51h1v1h-1zM128.42 68.93h1v1h-1zM142.11 74.79h1v1h-1zM150.78 72.99h1v1h-1zM150.97 65.65h1v1h-1zM139.71 73.65h1v1h-1zM141.21 76.16h1v1h-1zM119.42 79.38h1v1h-1zM117.33 76.57h1v1h-1zM132.59 75h1v1h-1zM126.93 79.27h1v1h-1zM115.13 69.37h1v1h-1zM124.44 61.47h1v1h-1zM144.55 68.99h1v1h-1zM138.29 63.17h1v1h-1zM141.17 74.16h1v1h-1zM143.86 69.63h1v1h-1zM146.53 69.61h1v1h-1zM115.11 73.46h1v1h-1zM119.85 79.3h1v1h-1zM152.32 73.75h1v1h-1zM149.57 64.59h1v1h-1zM123.23 72.95h1v1h-1zM126.18 73.6h1v1h-1zM115.65 83.78h1v1h-1zM116.33 70.84h1v1h-1zM120.86 66h1v1h-1zM123.45 73.64h1v1h-1zM149.28 69.74h1v1h-1zM117.77 68.81h1v1h-1zM138.85 75.59h1v1h-1zM142.9 76.01h1v1h-1zM118.75 68.36h1v1h-1zM142.38 74.75h1v1h-1zM136.4 70.79h1v1h-1zM118.79 71.83h1v1h-1zM135.08 76.31h1v1h-1zM126.41 72.37h1v1h-1zM115.29 67.9h1v1h-1zM121.74 70.13h1v1h-1zM134.23 64.06h1v1h-1zM122.41 69.51h1v1h-1zM117.85 80.56h1v1h-1zM142.53 73.78h1v1h-1zM139.05 77.43h1v1h-1zM116.29 84.11h1v1h-1zM127.88 78.68h1v1h-1zM129.67 72.28h1v1h-1zM138.82 71.17h1v1h-1zM116.65 83.71h1v1h-1zM128.74 77.57h1v1h-1zM119.62 78.22h1v1h-1zM138.63 66.97h1v1h-1zM134.4 78.26h1v1h-1zM135.2 75.73h1v1h-1zM152 65.63h1v1h-1zM128.04 70.29h1v1h-1zM115.89 67.1h1v1h-1zM126.94 80.57h1v1h-1zM116.39 60.4h1v1h-1zM121.65 66.68h1v1h-1zM116.65 83.7h1v1h-1zM130.7 65.36h1v1h-1zM118.28 66.7h1v1h-1zM123.32 81.04h1v1h-1zM151.51 73.46h1v1h-1zM128.31 62.12h1v1h-1zM121.67 74.49h1v1h-1zM139.65 76.56h1v1h-1zM150.8 73.72h1v1h-1zM123.35 78.87h1v1h-1zM128.17 61.22h1v1h-1zM145.49 73.05h1v1h-1zM140.15 73.82h1v1h-1zM126.22 65.4h1v1h-1zM132.51 79.7h1v1h-1zM122.95 64.5h1v1h-1zM120.95 76.9h1v1h-1zM123.84 76.13h1v1h-1zM119.77 62.48h1v1h-1zM135.16 64.46h1v1h-1zM120.29 62.23h1v1h-1zM152.5 67.71h1v1h-1zM143.44 74.25h1v1h-1zM124.83 64.86h1v1h-1zM131 75.64h1v1h-1zM123.57 64.67h1v1h-1zM140.13 68.61h1v1h-1zM115.54 63.34h1v1h-1zM127.65 76.22h1v1h-1zM141.94 65.34h1v1h-1zM123.41 78.83h1v1h-1zM122.95 82.42h1v1h-1zM119.77 82.81h1v1h-1zM139.98 75.7h1v1h-1zM128.22 63.56h1v1h-1zM122.42 63.75h1v1h-1zM116.64 71.86h1v1h-1zM130.15 72.99h1v1h-1zM146.8 68.57h1v1h-1zM115.35 71.86h1v1h-1zM138.87 72.76h1v1h-1zM130.36 65.64h1v1h-1zM123.97 79.2h1v1h-1zM152.6 70.66h1v1h-1zM138.52 63.92h1v1h-1zM122.1 77.49h1v1h-1zM118.63 72.79h1v1h-1zM153 69.4h1v1h-1zM118.53 62.34h1v1h-1zM140.85 65.28h1v1h-1zM131.87 78.46h1v1h-1zM142.97 72.21h1v1h-1zM120.74 78.89h1v1h-1zM129.94 73.33h1v1h-1zM115.03 78.59h1v1h-1zM140.32 75.15h1v1h-1zM130.08 78.48h1v1h-1zM148 73.71h1v1h-1zM139.03 67.36h1v1h-1zM138.55 75.09h1v1h-1zM127.14 80.51h1v1h-1zM142.65 68.53h1v1h-1zM123.26 66.75h1v1h-1zM118.96 81.55h1v1h-1zM134.38 75.52h1v1h-1zM119.52 82.67h1v1h-1zM122.57 73.44h1v1h-1zM128.85 62.48h1v1h-1zM118.94 71.56h1v1h-1zM118.16 83.23h1v1h-1zM151.26 71.15h1v1h-1zM126.48 76.2h1v1h-1zM125.24 80.08h1v1h-1zM132.41 79.75h1v1h-1zM139.39 73.78h1v1h-1zM148.82 71.56h1v1h-1zM121.98 72.29h1v1h-1zM139.7 63.68h1v1h-1zM124.3 64.51h1v1h-1zM133.16 68.81h1v1h-1zM150.1 69.79h1v1h-1zM142.83 76.53h1v1h-1zM128.58 72.94h1v1h-1zM147.54 72.34h1v1h-1zM149.3 68.81h1v1h-1zM123.14 76.05h1v1h-1zM142.12 74.46h1v1h-1zM130.99 76.68h1v1h-1zM143.85 75.14h1v1h-1zM115.18 81.89h1v1h-1zM143.08 75.47h1v1h-1zM115.7 80.25h1v1h-1zM131.49 63.34h1v1h-1zM149.08 71.17h1v1h-1zM140.31 65.42h1v1h-1zM116.37 63.32h1v1h-1zM133.46 62.3h1v1h-1zM138.45 69.49h1v1h-1zM117.97 81.44h1v1h-1zM136.8 62.91h1v1h-1zM151.89 70.75h1v1h-1zM152.73 67.94h1v1h-1zM118.44 81.85h1v1h-1zM139.8 77.19h1v1h-1zM137.18 78.15h1v1h-1zM142.36 70.11h1v1h-1zM146.84 69.43h1v1h-1zM125.39 62.11h1v1h-1zM148.55 69.79h1v1h-1zM118.31 76.96h1v1h-1zM115.02 65.48h1v1h-1zM130 80.48h1v1h-1zM126.06 69.21h1v1h-1zM150.65 65.26h1v1h-1zM122.59 76.38h1v1h-1zM147.98 66.86h1v1h-1zM143.84 63.48h1v1h-1zM122.65 66.98h1v1h-1zM134.06 77.69h1v1h-1zM116.16 61.46h1v1h-1zM117.65 66.81h1v1h-1zM148.16 69.52h1v1h-1zM149.5 74.21h1v1h-1zM116.57 79.77h1v1h-1zM146.33 71.49h1v1h-1zM120.66 67.71h1v1h-1zM116.46 74.43h1v1h-1zM119.4 69.84h1v1h-1zM152.89 70.67h1v1h-1zM143.22 67.25h1v1h-1zM128.31 79.75h1v1h-1zM117.54 69.19h1v1h-1z"/>
<path fill="#5c73e3" d="M116.64 66.01h1v1h-1zM117.61 71.26h1v1h-1zM134.07 69.36h1v1h-1zM139.59 66.51h1v1h-1zM146.68 74.23h1v1h-1zM116.4 75.78h1v1h-1zM115.17 81.1h1v1h-1zM149.74 71.35h1v1h-1zM119.34 78.94h1v1h-1zM117.51 83.05h1v1h-1zM145.39 75.01h1v1h-1zM135.41 72.54h1v1h-1zM132 64.58h1v1h-1zM145.66 75.11h1v1h-1zM124.13 80.87h1v1h-1zM119.76 71.35h1v1h-1zM140.35 70.15h1v1h-1zM144.47 74.57h1v1h-1zM127.68 78.26h1v1h-1zM120.17 81.94h1v1h-1zM127.52 74.88h1v1h-1zM136.32 65.11h1v1h-1zM142.86 64.92h1v1h-1zM118.79 83.01h1v1h-1zM135.68 77h1v1h-1zM116.06 72.04h1v1h-1zM144.13 67.91h1v1h-1zM117.7 61.58h1v1h-1zM127.3 62.75h1v1h-1zM139.96 64.79h1v1h-1zM133.87 64.08h1v1h-1zM146.71 74.58h1v1h-1zM125.6 65.87h1v1h-1zM122.37 70.29h1v1h-1zM124.17 76.38h1v1h-1zM137.87 77.09h1v1h-1zM142.89 74.77h1v1h-1zM136.62 77.21h1v1h-1zM129.5 63.7h1v1h-1zM150.63 70.15h1v1h-1zM149.08 74.55h1v1h-1zM127.81 69.86h1v1h-1zM128.59 74.09h1v1h-1zM118.51 82.47h1v1h-1zM125.09 76.23h1v1h-1zM139 64.35h1v1h-1zM120.56 79.8h1v1h-1zM139.38 72.99h1v1h-1zM128.95 77.13h1v1h-1zM124.46 62.65h1v1h-1zM145.95 72.03h1v1h-1z"/>
</g>
<path d="M115.4 85 L152 74.2 L152 75.4 L115.4 86.6 Z" fill="#2a6ea8" stroke="none" stroke-width="1" />
<path d="M115.4 85.8 L132 80.9 L132 82.3 L115.4 87.4 Z" fill="#3a9a50" stroke="none" stroke-width="1" />
<path d="M115.4 86.4 L124 83.9 L124 85.2 L115.4 87.8 Z" fill="#c8dc3c" stroke="none" stroke-width="1" />
<rect x="106.8" y="42.5" width="60.7" height="61.5" fill="none" stroke="#222" stroke-width="0.9" />
<line x1="103.8" y1="43" x2="103.8" y2="106" stroke="#333" stroke-width="1.3" />
<line x1="107.2" y1="44" x2="108.8" y2="44" stroke="#333" stroke-width="0.6" />
<line x1="107.2" y1="46.46" x2="108.8" y2="46.46" stroke="#333" stroke-width="0.6" />
<line x1="107.2" y1="48.92" x2="108.8" y2="48.92" stroke="#333" stroke-width="0.6" />
<line x1="107.2" y1="51.38" x2="108.8" y2="51.38" stroke="#333" stroke-width="0.6" />
<line x1="107.2" y1="53.83" x2="108.8" y2="53.83" stroke="#333" stroke-width="0.6" />
<line x1="107.2" y1="56.29" x2="108.8" y2="56.29" stroke="#333" stroke-width="0.6" />
<line x1="107.2" y1="58.75" x2="108.8" y2="58.75" stroke="#333" stroke-width="0.6" />
<line x1="107.2" y1="61.21" x2="108.8" y2="61.21" stroke="#333" stroke-width="0.6" />
<line x1="107.2" y1="63.67" x2="108.8" y2="63.67" stroke="#333" stroke-width="0.6" />
<line x1="107.2" y1="66.12" x2="108.8" y2="66.12" stroke="#333" stroke-width="0.6" />
<line x1="107.2" y1="68.58" x2="108.8" y2="68.58" stroke="#333" stroke-width="0.6" />
<line x1="107.2" y1="71.04" x2="108.8" y2="71.04" stroke="#333" stroke-width="0.6" />
<line x1="107.2" y1="73.5" x2="108.8" y2="73.5" stroke="#333" stroke-width="0.6" />
<line x1="107.2" y1="75.96" x2="108.8" y2="75.96" stroke="#333" stroke-width="0.6" />
<line x1="107.2" y1="78.42" x2="108.8" y2="78.42" stroke="#333" stroke-width="0.6" />
<line x1="107.2" y1="80.88" x2="108.8" y2="80.88" stroke="#333" stroke-width="0.6" />
<line x1="107.2" y1="83.33" x2="108.8" y2="83.33" stroke="#333" stroke-width="0.6" />
<line x1="107.2" y1="85.79" x2="108.8" y2="85.79" stroke="#333" stroke-width="0.6" />
<line x1="107.2" y1="88.25" x2="108.8" y2="88.25" stroke="#333" stroke-width="0.6" />
<line x1="107.2" y1="90.71" x2="108.8" y2="90.71" stroke="#333" stroke-width="0.6" />
<line x1="107.2" y1="93.17" x2="108.8" y2="93.17" stroke="#333" stroke-width="0.6" />
<line x1="107.2" y1="95.62" x2="108.8" y2="95.62" stroke="#333" stroke-width="0.6" />
<line x1="107.2" y1="98.08" x2="108.8" y2="98.08" stroke="#333" stroke-width="0.6" />
<line x1="107.2" y1="100.54" x2="108.8" y2="100.54" stroke="#333" stroke-width="0.6" />
<line x1="107.2" y1="103" x2="108.8" y2="103" stroke="#333" stroke-width="0.6" />
<line x1="106.5" y1="110.5" x2="169" y2="110.5" stroke="#333" stroke-width="1.3" />
<line x1="108" y1="104" x2="108" y2="102.4" stroke="#333" stroke-width="0.6" />
<line x1="110.46" y1="104" x2="110.46" y2="102.4" stroke="#333" stroke-width="0.6" />
<line x1="112.92" y1="104" x2="112.92" y2="102.4" stroke="#333" stroke-width="0.6" />
<line x1="115.38" y1="104" x2="115.38" y2="102.4" stroke="#333" stroke-width="0.6" />
<line x1="117.83" y1="104" x2="117.83" y2="102.4" stroke="#333" stroke-width="0.6" />
<line x1="120.29" y1="104" x2="120.29" y2="102.4" stroke="#333" stroke-width="0.6" />
<line x1="122.75" y1="104" x2="122.75" y2="102.4" stroke="#333" stroke-width="0.6" />
<line x1="125.21" y1="104" x2="125.21" y2="102.4" stroke="#333" stroke-width="0.6" />
<line x1="127.67" y1="104" x2="127.67" y2="102.4" stroke="#333" stroke-width="0.6" />
<line x1="130.12" y1="104" x2="130.12" y2="102.4" stroke="#333" stroke-width="0.6" />
<line x1="132.58" y1="104" x2="132.58" y2="102.4" stroke="#333" stroke-width="0.6" />
<line x1="135.04" y1="104" x2="135.04" y2="102.4" stroke="#333" stroke-width="0.6" />
<line x1="137.5" y1="104" x2="137.5" y2="102.4" stroke="#333" stroke-width="0.6" />
<line x1="139.96" y1="104" x2="139.96" y2="102.4" stroke="#333" stroke-width="0.6" />
<line x1="142.42" y1="104" x2="142.42" y2="102.4" stroke="#333" stroke-width="0.6" />
<line x1="144.88" y1="104" x2="144.88" y2="102.4" stroke="#333" stroke-width="0.6" />
<line x1="147.33" y1="104" x2="147.33" y2="102.4" stroke="#333" stroke-width="0.6" />
<line x1="149.79" y1="104" x2="149.79" y2="102.4" stroke="#333" stroke-width="0.6" />
<line x1="152.25" y1="104" x2="152.25" y2="102.4" stroke="#333" stroke-width="0.6" />
<line x1="154.71" y1="104" x2="154.71" y2="102.4" stroke="#333" stroke-width="0.6" />
<line x1="157.17" y1="104" x2="157.17" y2="102.4" stroke="#333" stroke-width="0.6" />
<line x1="159.62" y1="104" x2="159.62" y2="102.4" stroke="#333" stroke-width="0.6" />
<line x1="162.08" y1="104" x2="162.08" y2="102.4" stroke="#333" stroke-width="0.6" />
<line x1="164.54" y1="104" x2="164.54" y2="102.4" stroke="#333" stroke-width="0.6" />
<line x1="167" y1="104" x2="167" y2="102.4" stroke="#333" stroke-width="0.6" />
<text x="97.3" y="73.5" font-size="10" text-anchor="middle" fill="#222" textLength="25.5" lengthAdjust="spacingAndGlyphs" transform="rotate(-90 97.3 73.5)" dy="3.6">FSC-W</text>
<text x="137.7" y="119.5" font-size="10.2" text-anchor="middle" fill="#222" textLength="25.5" lengthAdjust="spacingAndGlyphs" >FSC-A</text>
<path d="M115.4 84.8 L159.4 71.3 L163.4 75.5 L159.8 76.6 L115.4 88.3 Z" fill="none" stroke="#111" stroke-width="1.05" />
<text x="141.7" y="91.1" font-size="8.6" text-anchor="middle" fill="#222" textLength="16" lengthAdjust="spacingAndGlyphs" >65 %</text>
<line x1="163.6" y1="76.6" x2="176.5" y2="76.6" stroke="#b40a32" stroke-width="1.1" marker-end="url(#arr)"/>
<text x="222.6" y="37.5" font-size="10" text-anchor="middle" fill="#222" textLength="51" lengthAdjust="spacingAndGlyphs" >Single Cells</text>
<rect x="191" y="42" width="64" height="62.5" fill="none" stroke="#222" stroke-width="0.8" />
<line x1="188.5" y1="43" x2="188.5" y2="105" stroke="#333" stroke-width="1.2" />
<line x1="191.4" y1="44" x2="193" y2="44" stroke="#333" stroke-width="0.6" />
<line x1="191.4" y1="46.5" x2="193" y2="46.5" stroke="#333" stroke-width="0.6" />
<line x1="191.4" y1="49" x2="193" y2="49" stroke="#333" stroke-width="0.6" />
<line x1="191.4" y1="51.5" x2="193" y2="51.5" stroke="#333" stroke-width="0.6" />
<line x1="191.4" y1="54" x2="193" y2="54" stroke="#333" stroke-width="0.6" />
<line x1="191.4" y1="56.5" x2="193" y2="56.5" stroke="#333" stroke-width="0.6" />
<line x1="191.4" y1="59" x2="193" y2="59" stroke="#333" stroke-width="0.6" />
<line x1="191.4" y1="61.5" x2="193" y2="61.5" stroke="#333" stroke-width="0.6" />
<line x1="191.4" y1="64" x2="193" y2="64" stroke="#333" stroke-width="0.6" />
<line x1="191.4" y1="66.5" x2="193" y2="66.5" stroke="#333" stroke-width="0.6" />
<line x1="191.4" y1="69" x2="193" y2="69" stroke="#333" stroke-width="0.6" />
<line x1="191.4" y1="71.5" x2="193" y2="71.5" stroke="#333" stroke-width="0.6" />
<line x1="191.4" y1="74" x2="193" y2="74" stroke="#333" stroke-width="0.6" />
<line x1="191.4" y1="76.5" x2="193" y2="76.5" stroke="#333" stroke-width="0.6" />
<line x1="191.4" y1="79" x2="193" y2="79" stroke="#333" stroke-width="0.6" />
<line x1="191.4" y1="81.5" x2="193" y2="81.5" stroke="#333" stroke-width="0.6" />
<line x1="191.4" y1="84" x2="193" y2="84" stroke="#333" stroke-width="0.6" />
<line x1="191.4" y1="86.5" x2="193" y2="86.5" stroke="#333" stroke-width="0.6" />
<line x1="191.4" y1="89" x2="193" y2="89" stroke="#333" stroke-width="0.6" />
<line x1="191.4" y1="91.5" x2="193" y2="91.5" stroke="#333" stroke-width="0.6" />
<line x1="191.4" y1="94" x2="193" y2="94" stroke="#333" stroke-width="0.6" />
<line x1="191.4" y1="96.5" x2="193" y2="96.5" stroke="#333" stroke-width="0.6" />
<line x1="191.4" y1="99" x2="193" y2="99" stroke="#333" stroke-width="0.6" />
<line x1="191.4" y1="101.5" x2="193" y2="101.5" stroke="#333" stroke-width="0.6" />
<line x1="191.4" y1="104" x2="193" y2="104" stroke="#333" stroke-width="0.6" />
<line x1="190" y1="109.8" x2="255" y2="109.8" stroke="#333" stroke-width="1.2" />
<line x1="192" y1="104.2" x2="192" y2="102.6" stroke="#333" stroke-width="0.6" />
<line x1="194.58" y1="104.2" x2="194.58" y2="102.6" stroke="#333" stroke-width="0.6" />
<line x1="197.17" y1="104.2" x2="197.17" y2="102.6" stroke="#333" stroke-width="0.6" />
<line x1="199.75" y1="104.2" x2="199.75" y2="102.6" stroke="#333" stroke-width="0.6" />
<line x1="202.33" y1="104.2" x2="202.33" y2="102.6" stroke="#333" stroke-width="0.6" />
<line x1="204.92" y1="104.2" x2="204.92" y2="102.6" stroke="#333" stroke-width="0.6" />
<line x1="207.5" y1="104.2" x2="207.5" y2="102.6" stroke="#333" stroke-width="0.6" />
<line x1="210.08" y1="104.2" x2="210.08" y2="102.6" stroke="#333" stroke-width="0.6" />
<line x1="212.67" y1="104.2" x2="212.67" y2="102.6" stroke="#333" stroke-width="0.6" />
<line x1="215.25" y1="104.2" x2="215.25" y2="102.6" stroke="#333" stroke-width="0.6" />
<line x1="217.83" y1="104.2" x2="217.83" y2="102.6" stroke="#333" stroke-width="0.6" />
<line x1="220.42" y1="104.2" x2="220.42" y2="102.6" stroke="#333" stroke-width="0.6" />
<line x1="223" y1="104.2" x2="223" y2="102.6" stroke="#333" stroke-width="0.6" />
<line x1="225.58" y1="104.2" x2="225.58" y2="102.6" stroke="#333" stroke-width="0.6" />
<line x1="228.17" y1="104.2" x2="228.17" y2="102.6" stroke="#333" stroke-width="0.6" />
<line x1="230.75" y1="104.2" x2="230.75" y2="102.6" stroke="#333" stroke-width="0.6" />
<line x1="233.33" y1="104.2" x2="233.33" y2="102.6" stroke="#333" stroke-width="0.6" />
<line x1="235.92" y1="104.2" x2="235.92" y2="102.6" stroke="#333" stroke-width="0.6" />
<line x1="238.5" y1="104.2" x2="238.5" y2="102.6" stroke="#333" stroke-width="0.6" />
<line x1="241.08" y1="104.2" x2="241.08" y2="102.6" stroke="#333" stroke-width="0.6" />
<line x1="243.67" y1="104.2" x2="243.67" y2="102.6" stroke="#333" stroke-width="0.6" />
<line x1="246.25" y1="104.2" x2="246.25" y2="102.6" stroke="#333" stroke-width="0.6" />
<line x1="248.83" y1="104.2" x2="248.83" y2="102.6" stroke="#333" stroke-width="0.6" />
<line x1="251.42" y1="104.2" x2="251.42" y2="102.6" stroke="#333" stroke-width="0.6" />
<line x1="254" y1="104.2" x2="254" y2="102.6" stroke="#333" stroke-width="0.6" />
<text x="179.3" y="74" font-size="9.8" text-anchor="middle" fill="#222" textLength="37" lengthAdjust="spacingAndGlyphs" transform="rotate(-90 179.3 74)" dy="3.3">% of max</text>
<text x="221.5" y="118.8" font-size="9.8" text-anchor="middle" fill="#222" textLength="29" lengthAdjust="spacingAndGlyphs" >CD45.1</text>
<path d="M207 104 L210 102.5 L212 100 L214 95 L215.5 89 L217 82 L218 75 L219 66 L220 56 L221 48.5 L221.8 45.5 L222.6 50 L223.5 58 L224.5 64 L225.5 71 L226.5 81 L227.5 92 L228.3 100 L229.5 104 Z" fill="#a4c4e6" stroke="#80aad8" stroke-width="0.5" />
<path d="M191.5 103.6 L200 103.4 L205 103 L208 101.5 L211 99 L213 96 L215 92 L216.5 89 L218 84 L219.5 79 L220.5 75.5 L221.6 74.3 L222.6 76 L223.5 80 L224.5 88 L225.5 96 L226.5 101 L228 103.5 L238 103.5 L240 101 L241 95 L242 85 L243 70 L244 55 L245 47.5 L245.6 46 L246.4 47.5 L247.4 55 L248.4 70 L249.4 85 L250.4 96 L251.4 102 L253 103.6 L254.5 103.6" fill="none" stroke="#8c1a4a" stroke-width="1.25" />
<line x1="191" y1="59.8" x2="254" y2="59.8" stroke="#333" stroke-width="0.9" />
<line x1="191.5" y1="57.5" x2="191.5" y2="62" stroke="#333" stroke-width="0.9" />
<circle cx="232" cy="59.8" r="1.2" fill="#333"/>
<text x="204.5" y="50.5" font-size="6.8" text-anchor="middle" fill="#222" textLength="23" lengthAdjust="spacingAndGlyphs" >Recipient</text>
<text x="210.5" y="57" font-size="6.8" text-anchor="middle" fill="#222" textLength="11" lengthAdjust="spacingAndGlyphs" >43%</text>
<text x="234.5" y="50.5" font-size="6.8" text-anchor="middle" fill="#222" textLength="15" lengthAdjust="spacingAndGlyphs" >Donor</text>
<text x="236.5" y="57" font-size="6.8" text-anchor="middle" fill="#222" textLength="11" lengthAdjust="spacingAndGlyphs" >57%</text>
<path d="M253.5 59.5 L257 47 L267.5 46.5" fill="none" stroke="#b40a32" stroke-width="1" marker-end="url(#arr)"/>
<text x="302.8" y="37.5" font-size="10.2" text-anchor="middle" fill="#222" textLength="52" lengthAdjust="spacingAndGlyphs" >Donor Cells</text>
<g clip-path="url(#pa3)"><ellipse cx="295.5" cy="65" rx="16" ry="8" fill="#c8d4f4" opacity="1" transform="rotate(-22 295.5 65)" filter="url(#b3)"/></g>
<g clip-path="url(#pa3)"><ellipse cx="295" cy="65.5" rx="12" ry="5" fill="#4a78dc" opacity="0.9" transform="rotate(-22 295 65.5)" filter="url(#b2)"/></g>
<g clip-path="url(#pa3)" opacity="0.8">
<path fill="#b1bef1" d="M331.42 49.24h1v1h-1zM320.58 87.12h1v1h-1zM291.68 84.76h1v1h-1zM297.46 88.8h1v1h-1zM274.69 99.94h1v1h-1zM295.84 92h1v1h-1zM301.24 92.55h1v1h-1zM290.67 76.25h1v1h-1zM273.56 72.84h1v1h-1zM276.91 95.41h1v1h-1zM313.99 68.93h1v1h-1zM332.41 100.75h1v1h-1zM331.32 48.03h1v1h-1zM315.65 87.38h1v1h-1zM309.57 43.96h1v1h-1zM329.28 69.75h1v1h-1zM308.89 92.7h1v1h-1zM289.06 44.78h1v1h-1zM329.25 59.5h1v1h-1zM274.55 51.34h1v1h-1zM333.68 88.13h1v1h-1zM285.01 51.94h1v1h-1zM327.66 83.55h1v1h-1zM308.15 51h1v1h-1zM297.63 100.74h1v1h-1zM272.2 68.57h1v1h-1zM275.54 103.86h1v1h-1zM278.47 101.18h1v1h-1zM324.15 87.63h1v1h-1zM274.62 85.42h1v1h-1zM302.56 72.97h1v1h-1zM281 74.25h1v1h-1zM321.73 51.02h1v1h-1zM326.32 68.62h1v1h-1zM288.5 57.59h1v1h-1zM300.51 82.5h1v1h-1zM307.33 97.29h1v1h-1zM303.71 74.27h1v1h-1zM333.31 56.13h1v1h-1zM273.03 63.04h1v1h-1zM291.42 50.56h1v1h-1zM297.93 45.11h1v1h-1zM329.09 72.55h1v1h-1zM326.49 85.55h1v1h-1zM317.25 89.27h1v1h-1zM290.7 87.48h1v1h-1zM284.78 76.85h1v1h-1zM308.91 90.31h1v1h-1zM282.4 63.99h1v1h-1zM323.1 92.08h1v1h-1z"/>
<path fill="#8496e9" d="M284.18 74.91h1v1h-1zM306.59 64.29h1v1h-1zM311.55 57.73h1v1h-1zM315.51 55.71h1v1h-1zM282.18 75.51h1v1h-1zM286.75 75.32h1v1h-1zM292.96 73.28h1v1h-1zM291.59 61.79h1v1h-1zM281.15 73.98h1v1h-1zM306.87 64.43h1v1h-1zM291.46 72.28h1v1h-1zM308.01 54.28h1v1h-1zM318.03 54.17h1v1h-1zM284 74.29h1v1h-1zM279.32 71.52h1v1h-1zM290.48 60.08h1v1h-1zM311.36 58.82h1v1h-1zM280.16 68.39h1v1h-1zM288.97 74.98h1v1h-1zM301.44 67.36h1v1h-1zM284.91 73.82h1v1h-1zM292.87 72.3h1v1h-1zM289.47 62.15h1v1h-1zM294.47 60.71h1v1h-1zM285.1 75.93h1v1h-1zM289.79 73.37h1v1h-1zM306.31 56.92h1v1h-1zM304.79 65.49h1v1h-1zM283.68 74.34h1v1h-1zM308.46 65.23h1v1h-1zM274.58 74.84h1v1h-1zM273.6 77.16h1v1h-1zM296.73 70.01h1v1h-1zM313.93 55.41h1v1h-1zM309.89 60.27h1v1h-1zM290.02 73.27h1v1h-1zM308.57 57.42h1v1h-1zM307.39 63.86h1v1h-1zM298.42 70.29h1v1h-1zM297.51 59.55h1v1h-1zM311.26 59.8h1v1h-1zM280.27 74.66h1v1h-1zM309.49 62.61h1v1h-1zM283.88 73.96h1v1h-1zM309.27 62.45h1v1h-1zM310.3 57.55h1v1h-1zM279.96 73.64h1v1h-1z"/>
<path fill="#5c73e3" d="M293.37 70.98h1v1h-1zM305.97 63.87h1v1h-1zM295.19 61.63h1v1h-1zM307.7 59.84h1v1h-1zM282.31 71.85h1v1h-1zM285 68.28h1v1h-1zM285.65 66.93h1v1h-1zM299.14 68.34h1v1h-1zM303.14 65.12h1v1h-1zM285.96 66.93h1v1h-1zM291.1 63.07h1v1h-1zM305.75 59.28h1v1h-1zM296.88 60.95h1v1h-1zM308.15 58.57h1v1h-1zM305.62 62.57h1v1h-1zM286.73 67h1v1h-1zM286.7 71.98h1v1h-1zM303.91 64.34h1v1h-1zM306.97 58.51h1v1h-1zM298.73 60.31h1v1h-1zM294.32 61.47h1v1h-1zM284.01 70.54h1v1h-1zM286.5 72.37h1v1h-1zM294.65 70.23h1v1h-1zM300.62 59.5h1v1h-1zM305.65 57.32h1v1h-1zM285.83 72.44h1v1h-1zM297.49 69.42h1v1h-1zM293.97 71.07h1v1h-1zM301.27 58.79h1v1h-1zM291.98 71.24h1v1h-1zM300.12 58.88h1v1h-1zM292.76 70.8h1v1h-1zM284.14 73.65h1v1h-1zM287.06 73.16h1v1h-1zM294.73 70.23h1v1h-1zM282.15 72.1h1v1h-1zM286.07 72.17h1v1h-1zM287.85 65.63h1v1h-1zM282.37 72.43h1v1h-1zM285.62 67.74h1v1h-1zM308.7 59.34h1v1h-1zM282.41 72.48h1v1h-1zM307.91 58.49h1v1h-1zM291.3 71.26h1v1h-1zM306.72 61.71h1v1h-1zM287.38 72.1h1v1h-1zM283.29 70.19h1v1h-1zM297.29 68.61h1v1h-1zM286.01 72.97h1v1h-1zM308.01 60.55h1v1h-1zM292.91 71.28h1v1h-1zM305.1 58.3h1v1h-1zM291.87 62.78h1v1h-1zM295.66 70.41h1v1h-1zM282.23 70.7h1v1h-1zM285.31 68.3h1v1h-1zM304.91 64.59h1v1h-1zM285.44 72.73h1v1h-1zM293.5 62.15h1v1h-1zM306.5 62.07h1v1h-1zM283.66 71.9h1v1h-1zM294.76 61.84h1v1h-1zM283.92 68.83h1v1h-1zM302.69 65.34h1v1h-1zM306.29 61.82h1v1h-1zM289.27 64.2h1v1h-1zM285.05 72.31h1v1h-1zM283.7 71.78h1v1h-1zM290.16 71.43h1v1h-1zM285.46 66.62h1v1h-1zM315.47 94.69h1v1h-1zM314.05 89.82h1v1h-1zM320.01 93.34h1v1h-1zM316.17 90.84h1v1h-1zM311.86 87.77h1v1h-1zM311.32 94.42h1v1h-1zM313.16 79.54h1v1h-1zM320.55 93.54h1v1h-1zM315.79 96.01h1v1h-1zM312 90.14h1v1h-1zM315.35 85.69h1v1h-1zM313.66 80.86h1v1h-1zM318.39 101.73h1v1h-1zM315.77 79.61h1v1h-1zM313.16 85.05h1v1h-1zM315.49 98.14h1v1h-1zM316.73 90.96h1v1h-1zM316.56 93.11h1v1h-1zM318.33 95.62h1v1h-1zM315.33 92.33h1v1h-1zM318.77 88.47h1v1h-1zM321.15 88.91h1v1h-1zM322.61 88.04h1v1h-1zM315.99 89.29h1v1h-1zM315.14 80.58h1v1h-1zM319.58 95.94h1v1h-1zM311.47 84.73h1v1h-1zM314.02 86.87h1v1h-1zM317.47 96.49h1v1h-1zM316.67 79.98h1v1h-1zM320.2 83h1v1h-1zM313.26 99.81h1v1h-1zM320.16 84.14h1v1h-1zM311.74 90.33h1v1h-1zM316.98 90.25h1v1h-1zM319.21 101.74h1v1h-1zM318.53 90.93h1v1h-1zM314.36 85.79h1v1h-1zM313.7 87.83h1v1h-1zM317.75 87.92h1v1h-1zM317.15 88.19h1v1h-1zM320.84 85.66h1v1h-1zM315.64 87.55h1v1h-1zM315.74 96.05h1v1h-1zM313.57 86.52h1v1h-1zM317.09 80.56h1v1h-1zM318.54 77.06h1v1h-1zM313.75 85.37h1v1h-1zM316.25 79.99h1v1h-1zM310.25 84.44h1v1h-1zM318.84 89.17h1v1h-1zM315.01 72.89h1v1h-1zM312.35 89.13h1v1h-1zM314.24 74.5h1v1h-1zM313.72 98.72h1v1h-1zM316.6 83.93h1v1h-1zM316.6 96.96h1v1h-1zM314.18 84.83h1v1h-1zM316.06 94.99h1v1h-1zM313.34 96.61h1v1h-1zM318.05 88.54h1v1h-1zM318.14 90.04h1v1h-1zM316.69 84.11h1v1h-1zM319.27 79.97h1v1h-1zM319.73 73.42h1v1h-1zM318.95 76.71h1v1h-1zM314.09 86.1h1v1h-1zM316.23 83.07h1v1h-1zM315.11 97.77h1v1h-1zM316.61 84.86h1v1h-1zM312.88 97.7h1v1h-1zM319.89 92.32h1v1h-1zM315.46 85.89h1v1h-1zM313.27 77.9h1v1h-1zM315.38 88.45h1v1h-1zM317.79 92.1h1v1h-1zM315.14 97.32h1v1h-1zM314.08 82.92h1v1h-1zM321.42 81.51h1v1h-1zM311.27 83.29h1v1h-1zM315.93 90.7h1v1h-1zM316.18 84.64h1v1h-1zM318.97 87.61h1v1h-1zM318.92 77.64h1v1h-1zM319.38 84.05h1v1h-1zM313.87 87.55h1v1h-1zM312.56 95.74h1v1h-1zM316.05 81.48h1v1h-1zM322.09 96.5h1v1h-1zM314.09 92.24h1v1h-1zM315.18 90.07h1v1h-1zM312.58 87.09h1v1h-1zM318.67 87.34h1v1h-1zM313.26 84.07h1v1h-1zM316 93.05h1v1h-1zM309.17 93.35h1v1h-1zM316.23 89.86h1v1h-1zM316.39 98.06h1v1h-1zM312.88 86.33h1v1h-1zM315.69 90.05h1v1h-1zM314.95 84.59h1v1h-1zM314.52 84.67h1v1h-1zM316.18 91.7h1v1h-1zM313.29 96.6h1v1h-1zM314.53 83.23h1v1h-1zM312.37 86.32h1v1h-1zM316.84 78.95h1v1h-1zM316.45 97h1v1h-1zM310.48 99.76h1v1h-1zM316.46 87.01h1v1h-1zM312.6 94.42h1v1h-1zM317.18 97.81h1v1h-1zM316.11 81.28h1v1h-1zM316.24 83.97h1v1h-1zM316.33 79.78h1v1h-1zM315.58 79.43h1v1h-1zM316.72 92.74h1v1h-1zM319.22 94.48h1v1h-1zM317.63 90.52h1v1h-1zM316.41 87.75h1v1h-1zM315.25 91.48h1v1h-1zM315.75 91.97h1v1h-1zM315.12 90.17h1v1h-1zM316 95.62h1v1h-1zM316.86 80.8h1v1h-1zM317.29 95.61h1v1h-1zM318.01 89.19h1v1h-1zM317.89 93.72h1v1h-1zM316.32 85.49h1v1h-1zM316.87 85.69h1v1h-1zM315.99 80.14h1v1h-1z"/>
<path fill="#3955de" d="M304.32 61.74h1v1h-1zM303.02 63.09h1v1h-1zM287.52 69.32h1v1h-1zM297.43 67.46h1v1h-1zM303.26 61.18h1v1h-1zM304.44 60h1v1h-1zM290.7 65.14h1v1h-1zM300.83 59.78h1v1h-1zM299.62 67.09h1v1h-1zM287.22 69.36h1v1h-1zM300.16 66.21h1v1h-1zM290.43 65.17h1v1h-1zM306.17 60.01h1v1h-1zM290.79 65.03h1v1h-1zM303.63 59.4h1v1h-1zM288.15 71.08h1v1h-1zM302.43 59.53h1v1h-1zM306.12 61.07h1v1h-1zM287.39 71.54h1v1h-1zM305.34 61.42h1v1h-1zM295.67 62.28h1v1h-1zM298.73 66.72h1v1h-1zM288.18 66.97h1v1h-1zM287.24 70.45h1v1h-1zM301.41 64.71h1v1h-1zM287.17 69.71h1v1h-1zM304.71 60.23h1v1h-1zM303.17 64.36h1v1h-1zM302.74 59.63h1v1h-1zM299.53 66.83h1v1h-1zM302.76 63.67h1v1h-1zM285.75 71.65h1v1h-1zM302.77 63.94h1v1h-1zM301.36 64.9h1v1h-1zM292.78 64.01h1v1h-1zM292.95 62.94h1v1h-1zM287.76 71.77h1v1h-1zM303.36 59.66h1v1h-1zM286.64 71.61h1v1h-1zM302.87 60.04h1v1h-1zM305.71 60.72h1v1h-1zM304.56 60.83h1v1h-1zM296.92 67.81h1v1h-1zM288.61 70.4h1v1h-1zM292.68 69.56h1v1h-1zM298.56 61.29h1v1h-1zM291.06 64.15h1v1h-1zM289.78 64.88h1v1h-1zM304.14 61.32h1v1h-1zM293.12 69.34h1v1h-1zM288.67 71.53h1v1h-1zM305.67 61.91h1v1h-1zM288.46 66.62h1v1h-1zM289.38 71.18h1v1h-1zM289.65 66.04h1v1h-1zM294.28 69.34h1v1h-1zM295.2 69.12h1v1h-1zM301.33 64.68h1v1h-1zM294.37 63.05h1v1h-1zM287.44 68.53h1v1h-1zM289.75 65.66h1v1h-1zM302.05 65.31h1v1h-1zM291.6 63.88h1v1h-1zM306.22 60.28h1v1h-1zM293.06 63.84h1v1h-1zM298.66 67.45h1v1h-1zM285.69 69.79h1v1h-1zM293.04 63.63h1v1h-1zM300.77 60.69h1v1h-1zM293.62 63.37h1v1h-1zM286.91 67.82h1v1h-1zM294.33 63.3h1v1h-1zM298.53 61.58h1v1h-1zM287.35 68.58h1v1h-1zM303.06 61.08h1v1h-1zM291.25 65.02h1v1h-1zM287.81 70.89h1v1h-1zM287.03 67.79h1v1h-1zM285.15 71.1h1v1h-1zM297.82 67.59h1v1h-1zM297.16 67.5h1v1h-1zM298.05 61.23h1v1h-1zM287.19 67.21h1v1h-1zM288.97 70.19h1v1h-1zM304.03 63.53h1v1h-1zM291.82 69.64h1v1h-1zM300.56 60.97h1v1h-1zM292.04 64.15h1v1h-1zM286.24 70h1v1h-1zM294.24 69.22h1v1h-1zM289.81 65.23h1v1h-1zM300.98 60.94h1v1h-1zM296.68 68.5h1v1h-1zM291.3 64.11h1v1h-1zM289.77 70.82h1v1h-1zM288.11 70.28h1v1h-1zM294.64 69.07h1v1h-1zM290.97 70.48h1v1h-1zM300.08 65.71h1v1h-1zM314.8 80.76h1v1h-1zM315.37 92.43h1v1h-1zM321.45 86.55h1v1h-1zM317.88 86.44h1v1h-1zM314.66 85.47h1v1h-1zM313.76 90.56h1v1h-1zM322.39 83.31h1v1h-1zM318.91 87.7h1v1h-1zM316.25 97.54h1v1h-1zM320.56 83.87h1v1h-1zM315.05 93.14h1v1h-1zM318.76 78.65h1v1h-1zM317.34 83.77h1v1h-1zM316.05 92.77h1v1h-1zM310.55 100.59h1v1h-1zM314.85 77.75h1v1h-1zM317.88 91.13h1v1h-1zM319.4 84.5h1v1h-1zM318.79 93.13h1v1h-1zM316.04 96.8h1v1h-1zM312.79 100.23h1v1h-1zM311.65 91.45h1v1h-1zM313.34 88.72h1v1h-1zM311.66 93.83h1v1h-1zM313.4 88.31h1v1h-1zM311.62 93.14h1v1h-1zM315 89.52h1v1h-1zM311.73 81.15h1v1h-1zM316.04 86.23h1v1h-1zM314.94 83.98h1v1h-1zM318.88 84.12h1v1h-1zM316.16 86.59h1v1h-1zM320.34 85.15h1v1h-1zM311.82 84.4h1v1h-1zM317.43 86.65h1v1h-1zM313.38 92.4h1v1h-1zM317.48 91.68h1v1h-1zM314.84 86.57h1v1h-1zM314.56 87.85h1v1h-1zM316.78 84.34h1v1h-1zM316.46 78.06h1v1h-1zM314.4 79.95h1v1h-1zM314.65 87.17h1v1h-1zM317.49 85.23h1v1h-1zM315.38 85.38h1v1h-1zM316.23 98.21h1v1h-1zM316.69 81.02h1v1h-1zM315.03 92.21h1v1h-1zM318.64 93.78h1v1h-1zM310.38 90.54h1v1h-1zM318.65 85.05h1v1h-1zM319.76 98.02h1v1h-1zM317.87 83.7h1v1h-1zM320.98 89.76h1v1h-1zM317.54 97.83h1v1h-1zM320.83 79.11h1v1h-1zM314.61 89.75h1v1h-1zM313.43 96.35h1v1h-1zM319.53 91.48h1v1h-1zM311.74 96.88h1v1h-1zM315.32 88.12h1v1h-1zM317.15 82.16h1v1h-1zM318.56 102.57h1v1h-1zM315.05 91.62h1v1h-1zM318.81 88.51h1v1h-1zM315.59 82.69h1v1h-1zM311.71 83.28h1v1h-1zM318.01 88.02h1v1h-1zM312.58 86.29h1v1h-1zM317.98 91.04h1v1h-1zM314.58 86.33h1v1h-1zM315.32 99.95h1v1h-1zM315.1 97.44h1v1h-1zM314.15 86.33h1v1h-1zM316.46 87.24h1v1h-1zM315.84 88.89h1v1h-1zM314.92 94.67h1v1h-1zM315.61 82.75h1v1h-1zM315.33 90.73h1v1h-1zM315.08 86.34h1v1h-1zM316.52 87.01h1v1h-1zM316.24 95.16h1v1h-1zM314.2 93.5h1v1h-1zM317.67 87.59h1v1h-1zM316.27 81.49h1v1h-1zM314.63 92.97h1v1h-1zM312.23 100.55h1v1h-1zM317 94.93h1v1h-1zM319.74 95.58h1v1h-1z"/>
<path fill="#215bdc" d="M291.94 65.07h1v1h-1zM297.57 62.81h1v1h-1zM300.16 62.7h1v1h-1zM301.17 61.08h1v1h-1zM296.2 63.39h1v1h-1zM289.18 67.17h1v1h-1zM293.61 68.65h1v1h-1zM301.31 61.59h1v1h-1zM302.5 62.19h1v1h-1zM290 67.06h1v1h-1zM300.01 64h1v1h-1zM298.88 65.59h1v1h-1zM291.28 66.63h1v1h-1zM302.15 63.65h1v1h-1zM301.65 62.62h1v1h-1zM300.13 63.79h1v1h-1zM289.44 67.7h1v1h-1zM302.73 62.07h1v1h-1zM290.54 68.35h1v1h-1zM296.62 63.18h1v1h-1zM298.63 62.57h1v1h-1zM289.98 69.19h1v1h-1zM296.82 63.19h1v1h-1zM300.43 64.64h1v1h-1zM289.69 68.82h1v1h-1zM292.39 68.84h1v1h-1zM293.01 64.15h1v1h-1zM295.51 68h1v1h-1zM291.88 68.65h1v1h-1zM293.87 64.58h1v1h-1zM290.86 67.48h1v1h-1zM298.53 62.34h1v1h-1zM301.65 62.99h1v1h-1zM289.07 68.32h1v1h-1zM291.72 66.07h1v1h-1zM288.24 68.34h1v1h-1zM290.18 67.23h1v1h-1zM288.81 68.01h1v1h-1zM292.54 69.16h1v1h-1zM295.99 67.99h1v1h-1zM290.94 69h1v1h-1zM295.82 63.66h1v1h-1zM298.01 62.78h1v1h-1zM288.71 68.4h1v1h-1zM288.24 69.39h1v1h-1zM300.14 61.84h1v1h-1zM291.05 68.01h1v1h-1zM297.62 62.24h1v1h-1zM288.51 69.24h1v1h-1zM291.58 65.98h1v1h-1zM302.25 63.12h1v1h-1zM292.84 65.42h1v1h-1zM291.67 65.68h1v1h-1zM300.27 62.6h1v1h-1zM298.4 65.55h1v1h-1zM291.62 69.48h1v1h-1zM301.56 63.9h1v1h-1zM289.24 67.26h1v1h-1zM289.5 69.87h1v1h-1zM289.77 67.69h1v1h-1zM290.69 69.2h1v1h-1zM302.28 62.12h1v1h-1zM289.6 67.41h1v1h-1zM290.6 69.69h1v1h-1zM302.19 62.19h1v1h-1zM288.35 69.21h1v1h-1zM300.2 63.94h1v1h-1zM290.79 67.67h1v1h-1zM294.5 64.07h1v1h-1zM289.5 67.77h1v1h-1zM298.71 65.84h1v1h-1zM291.4 66.36h1v1h-1zM289.5 69.97h1v1h-1zM295.68 63.46h1v1h-1zM299.18 62.74h1v1h-1zM301.27 61.83h1v1h-1zM301.58 63.44h1v1h-1zM297.79 66.35h1v1h-1zM303.11 62.28h1v1h-1zM298.05 62.52h1v1h-1zM295.79 63.58h1v1h-1zM298.87 62.49h1v1h-1zM294.25 63.62h1v1h-1zM295.47 67.25h1v1h-1zM302.26 62.11h1v1h-1zM291.87 68.31h1v1h-1zM292.62 64.5h1v1h-1zM299.63 64.98h1v1h-1zM295.75 68.05h1v1h-1zM297.47 62.65h1v1h-1zM300.06 63.2h1v1h-1zM300.58 65h1v1h-1zM288.48 67.67h1v1h-1zM290.93 66.91h1v1h-1zM297.67 62.52h1v1h-1zM295.63 63.65h1v1h-1zM290.14 67.77h1v1h-1zM300.31 63.53h1v1h-1zM290.12 69.02h1v1h-1zM288.07 68.26h1v1h-1zM297.52 67.01h1v1h-1zM301.83 61.34h1v1h-1zM298.78 65.75h1v1h-1zM302.81 62.95h1v1h-1zM293.6 64.44h1v1h-1zM298 62.42h1v1h-1zM289.79 67.48h1v1h-1zM302.48 62.2h1v1h-1zM290.53 68.2h1v1h-1zM301.76 62.56h1v1h-1zM302.53 63.41h1v1h-1zM299.39 62.74h1v1h-1zM288.34 68.04h1v1h-1zM302.1 63.16h1v1h-1zM298.95 65.01h1v1h-1zM299.77 61.43h1v1h-1zM294.55 67.75h1v1h-1zM302.66 61.76h1v1h-1z"/>
<path fill="#1587dc" d="M295.91 64h1v1h-1zM297.15 64.43h1v1h-1zM296.4 66.39h1v1h-1zM297.46 63.55h1v1h-1zM292.72 67.9h1v1h-1zM296.81 66.17h1v1h-1zM292.36 65.96h1v1h-1zM292.02 66.83h1v1h-1zM295.08 64.78h1v1h-1zM294.32 67.39h1v1h-1zM293.72 64.99h1v1h-1zM294.71 67.21h1v1h-1zM297.1 66.06h1v1h-1zM297.87 64.63h1v1h-1zM296.2 66.09h1v1h-1zM294.95 67.18h1v1h-1zM291.38 67.8h1v1h-1zM298.76 64.56h1v1h-1zM293.36 67.36h1v1h-1zM291.31 67.07h1v1h-1zM294.32 65.03h1v1h-1zM295.97 66.34h1v1h-1zM291.51 67.71h1v1h-1zM291.58 67.3h1v1h-1zM291.81 67.11h1v1h-1zM297.13 63.68h1v1h-1zM294.12 66.8h1v1h-1zM295.36 64.33h1v1h-1zM297.55 64.7h1v1h-1zM293.86 64.77h1v1h-1zM294.72 66.69h1v1h-1zM294.11 66.55h1v1h-1zM293.27 67.43h1v1h-1zM296.53 66.44h1v1h-1zM294.37 66.57h1v1h-1zM293.87 66.64h1v1h-1zM297.05 63.75h1v1h-1zM297.75 65.21h1v1h-1zM299.82 63.6h1v1h-1zM294.38 66.98h1v1h-1zM291.69 67.89h1v1h-1zM293.68 65.15h1v1h-1zM292.72 65.6h1v1h-1zM292.13 66.42h1v1h-1zM294.06 65.1h1v1h-1zM294.31 65.55h1v1h-1zM298.59 62.97h1v1h-1zM297.79 64.98h1v1h-1zM293.4 65.44h1v1h-1zM298.53 63.22h1v1h-1zM291.61 66.83h1v1h-1zM293.4 65.41h1v1h-1zM291.57 66.99h1v1h-1zM292.03 67.81h1v1h-1zM295.8 66.05h1v1h-1zM294.69 64.47h1v1h-1zM297.33 64.18h1v1h-1zM295.03 66.75h1v1h-1zM294.94 66.79h1v1h-1zM295.49 64.28h1v1h-1zM293.4 67.4h1v1h-1zM297.75 63.83h1v1h-1zM293.06 67.6h1v1h-1zM291.96 68.08h1v1h-1zM292.11 67.51h1v1h-1zM294.33 67.16h1v1h-1zM294.16 67.47h1v1h-1zM293.75 66.53h1v1h-1zM295.3 64.7h1v1h-1zM298.76 63.64h1v1h-1zM299.42 64.08h1v1h-1zM295.51 66.52h1v1h-1zM291.8 66.83h1v1h-1zM296.97 64.25h1v1h-1zM295.89 64.2h1v1h-1zM297.3 65.32h1v1h-1z"/>
<path fill="#23b990" d="M296.34 65.3h1v1h-1zM295.47 65.36h1v1h-1zM294.72 65.67h1v1h-1zM296.04 65.16h1v1h-1zM294.91 65.82h1v1h-1zM294.62 66.11h1v1h-1zM295.53 65.65h1v1h-1zM295.5 65.82h1v1h-1zM296.66 64.98h1v1h-1z"/>
</g>
<g clip-path="url(#pa3)"><ellipse cx="294.5" cy="66" rx="7" ry="3" fill="#30b0a8" opacity="1" transform="rotate(-22 294.5 66)" filter="url(#b1_3)"/></g>
<g clip-path="url(#pa3)"><ellipse cx="294" cy="66" rx="3.5" ry="1.6" fill="#80d048" opacity="1" transform="rotate(-22 294 66)" filter="url(#b0_8)"/></g>
<rect x="272.5" y="42.5" width="61" height="60.5" fill="none" stroke="#222" stroke-width="0.9" />
<line x1="268.3" y1="43" x2="268.3" y2="106" stroke="#333" stroke-width="1.3" />
<line x1="272.9" y1="44" x2="274.5" y2="44" stroke="#333" stroke-width="0.6" />
<line x1="272.9" y1="46.46" x2="274.5" y2="46.46" stroke="#333" stroke-width="0.6" />
<line x1="272.9" y1="48.92" x2="274.5" y2="48.92" stroke="#333" stroke-width="0.6" />
<line x1="272.9" y1="51.38" x2="274.5" y2="51.38" stroke="#333" stroke-width="0.6" />
<line x1="272.9" y1="53.83" x2="274.5" y2="53.83" stroke="#333" stroke-width="0.6" />
<line x1="272.9" y1="56.29" x2="274.5" y2="56.29" stroke="#333" stroke-width="0.6" />
<line x1="272.9" y1="58.75" x2="274.5" y2="58.75" stroke="#333" stroke-width="0.6" />
<line x1="272.9" y1="61.21" x2="274.5" y2="61.21" stroke="#333" stroke-width="0.6" />
<line x1="272.9" y1="63.67" x2="274.5" y2="63.67" stroke="#333" stroke-width="0.6" />
<line x1="272.9" y1="66.12" x2="274.5" y2="66.12" stroke="#333" stroke-width="0.6" />
<line x1="272.9" y1="68.58" x2="274.5" y2="68.58" stroke="#333" stroke-width="0.6" />
<line x1="272.9" y1="71.04" x2="274.5" y2="71.04" stroke="#333" stroke-width="0.6" />
<line x1="272.9" y1="73.5" x2="274.5" y2="73.5" stroke="#333" stroke-width="0.6" />
<line x1="272.9" y1="75.96" x2="274.5" y2="75.96" stroke="#333" stroke-width="0.6" />
<line x1="272.9" y1="78.42" x2="274.5" y2="78.42" stroke="#333" stroke-width="0.6" />
<line x1="272.9" y1="80.88" x2="274.5" y2="80.88" stroke="#333" stroke-width="0.6" />
<line x1="272.9" y1="83.33" x2="274.5" y2="83.33" stroke="#333" stroke-width="0.6" />
<line x1="272.9" y1="85.79" x2="274.5" y2="85.79" stroke="#333" stroke-width="0.6" />
<line x1="272.9" y1="88.25" x2="274.5" y2="88.25" stroke="#333" stroke-width="0.6" />
<line x1="272.9" y1="90.71" x2="274.5" y2="90.71" stroke="#333" stroke-width="0.6" />
<line x1="272.9" y1="93.17" x2="274.5" y2="93.17" stroke="#333" stroke-width="0.6" />
<line x1="272.9" y1="95.62" x2="274.5" y2="95.62" stroke="#333" stroke-width="0.6" />
<line x1="272.9" y1="98.08" x2="274.5" y2="98.08" stroke="#333" stroke-width="0.6" />
<line x1="272.9" y1="100.54" x2="274.5" y2="100.54" stroke="#333" stroke-width="0.6" />
<line x1="272.9" y1="103" x2="274.5" y2="103" stroke="#333" stroke-width="0.6" />
<line x1="271.5" y1="110" x2="335" y2="110" stroke="#333" stroke-width="1.3" />
<line x1="273" y1="103" x2="273" y2="101.4" stroke="#333" stroke-width="0.6" />
<line x1="275.5" y1="103" x2="275.5" y2="101.4" stroke="#333" stroke-width="0.6" />
<line x1="278" y1="103" x2="278" y2="101.4" stroke="#333" stroke-width="0.6" />
<line x1="280.5" y1="103" x2="280.5" y2="101.4" stroke="#333" stroke-width="0.6" />
<line x1="283" y1="103" x2="283" y2="101.4" stroke="#333" stroke-width="0.6" />
<line x1="285.5" y1="103" x2="285.5" y2="101.4" stroke="#333" stroke-width="0.6" />
<line x1="288" y1="103" x2="288" y2="101.4" stroke="#333" stroke-width="0.6" />
<line x1="290.5" y1="103" x2="290.5" y2="101.4" stroke="#333" stroke-width="0.6" />
<line x1="293" y1="103" x2="293" y2="101.4" stroke="#333" stroke-width="0.6" />
<line x1="295.5" y1="103" x2="295.5" y2="101.4" stroke="#333" stroke-width="0.6" />
<line x1="298" y1="103" x2="298" y2="101.4" stroke="#333" stroke-width="0.6" />
<line x1="300.5" y1="103" x2="300.5" y2="101.4" stroke="#333" stroke-width="0.6" />
<line x1="303" y1="103" x2="303" y2="101.4" stroke="#333" stroke-width="0.6" />
<line x1="305.5" y1="103" x2="305.5" y2="101.4" stroke="#333" stroke-width="0.6" />
<line x1="308" y1="103" x2="308" y2="101.4" stroke="#333" stroke-width="0.6" />
<line x1="310.5" y1="103" x2="310.5" y2="101.4" stroke="#333" stroke-width="0.6" />
<line x1="313" y1="103" x2="313" y2="101.4" stroke="#333" stroke-width="0.6" />
<line x1="315.5" y1="103" x2="315.5" y2="101.4" stroke="#333" stroke-width="0.6" />
<line x1="318" y1="103" x2="318" y2="101.4" stroke="#333" stroke-width="0.6" />
<line x1="320.5" y1="103" x2="320.5" y2="101.4" stroke="#333" stroke-width="0.6" />
<line x1="323" y1="103" x2="323" y2="101.4" stroke="#333" stroke-width="0.6" />
<line x1="325.5" y1="103" x2="325.5" y2="101.4" stroke="#333" stroke-width="0.6" />
<line x1="328" y1="103" x2="328" y2="101.4" stroke="#333" stroke-width="0.6" />
<line x1="330.5" y1="103" x2="330.5" y2="101.4" stroke="#333" stroke-width="0.6" />
<line x1="333" y1="103" x2="333" y2="101.4" stroke="#333" stroke-width="0.6" />
<text x="261" y="75.8" font-size="10" text-anchor="middle" fill="#222" textLength="16" lengthAdjust="spacingAndGlyphs" transform="rotate(-90 261 75.8)" dy="3.6">CD8</text>
<text x="302.9" y="119.2" font-size="10.2" text-anchor="middle" fill="#222" textLength="17" lengthAdjust="spacingAndGlyphs" >CD4</text>
<path d="M275.1 46.3 L317 46.3 L317 60.3 L296.6 78 L275.1 78 Z" fill="none" stroke="#111" stroke-width="1.15" />
<path d="M302.7 102.8 L302.7 88.2 L321.4 71.5 L332.8 71.5 L332.8 102.8" fill="none" stroke="#111" stroke-width="1.15" />
<text x="283.6" y="54.5" font-size="8.6" text-anchor="middle" fill="#222" textLength="16" lengthAdjust="spacingAndGlyphs" >83 %</text>
<text x="294.1" y="102.2" font-size="8.6" text-anchor="middle" fill="#222" textLength="15.5" lengthAdjust="spacingAndGlyphs" >15 %</text>
<text x="370.5" y="17" font-size="12" text-anchor="start" font-weight="bold" fill="#111" >B</text>
<line x1="395.4" y1="27.5" x2="395.4" y2="118.2" stroke="#111" stroke-width="1.1" />
<line x1="392" y1="118.2" x2="455" y2="118.2" stroke="#111" stroke-width="1.1" />
<line x1="391.8" y1="118.2" x2="395.4" y2="118.2" stroke="#111" stroke-width="0.9" />
<text x="389" y="121.3" font-size="8.6" text-anchor="end" fill="#222" >0</text>
<line x1="391.8" y1="100.56" x2="395.4" y2="100.56" stroke="#111" stroke-width="0.9" />
<text x="389" y="103.66" font-size="8.6" text-anchor="end" fill="#222" >1</text>
<line x1="391.8" y1="82.92" x2="395.4" y2="82.92" stroke="#111" stroke-width="0.9" />
<text x="389" y="86.02" font-size="8.6" text-anchor="end" fill="#222" >2</text>
<line x1="391.8" y1="65.28" x2="395.4" y2="65.28" stroke="#111" stroke-width="0.9" />
<text x="389" y="68.38" font-size="8.6" text-anchor="end" fill="#222" >3</text>
<line x1="391.8" y1="47.64" x2="395.4" y2="47.64" stroke="#111" stroke-width="0.9" />
<text x="389" y="50.74" font-size="8.6" text-anchor="end" fill="#222" >4</text>
<line x1="391.8" y1="30" x2="395.4" y2="30" stroke="#111" stroke-width="0.9" />
<text x="389" y="33.1" font-size="8.6" text-anchor="end" fill="#222" >5</text>
<line x1="409.3" y1="118.2" x2="409.3" y2="120.7" stroke="#111" stroke-width="0.9" />
<line x1="440.2" y1="118.2" x2="440.2" y2="120.7" stroke="#111" stroke-width="0.9" />
<rect x="402" y="117.2" width="15" height="1" fill="#b40a32" />
<rect x="433.2" y="48.3" width="14" height="69.9" fill="#b40a32" />
<rect x="433.2" y="109.5" width="14" height="8.7" fill="#34548c" />
<line x1="440.2" y1="38.5" x2="440.2" y2="58.5" stroke="#111" stroke-width="0.9" />
<line x1="438" y1="38.5" x2="442.4" y2="38.5" stroke="#111" stroke-width="0.9" />
<line x1="440.2" y1="101" x2="440.2" y2="118" stroke="#111" stroke-width="0.9" />
<line x1="438.5" y1="101" x2="442" y2="101" stroke="#111" stroke-width="0.9" />
<text x="440.2" y="35.5" font-size="8.5" text-anchor="middle" font-weight="bold" fill="#222" >***</text>
<text x="409.3" y="129.3" font-size="9" text-anchor="middle" fill="#222" textLength="15" lengthAdjust="spacingAndGlyphs" >Syn</text>
<text x="440.2" y="129.3" font-size="9" text-anchor="middle" fill="#222" textLength="14.5" lengthAdjust="spacingAndGlyphs" >Allo</text>
<text x="364.6" y="73.5" font-size="9.2" text-anchor="middle" fill="#222" textLength="61" lengthAdjust="spacingAndGlyphs" transform="rotate(-90 364.6 73.5)" dy="3.3">No. of T cells in</text>
<text x="376.5" y="73.5" font-size="9.2" text-anchor="middle" fill="#222" transform="rotate(-90 376.5 73.5)" dy="3.3">ovary (x10<tspan font-size="6" dy="-3.5">4</tspan><tspan dy="3.5">)</tspan></text>
<rect x="465.6" y="30.3" width="6" height="5.8" fill="#b40a32" />
<rect x="465.6" y="40.3" width="6" height="5.8" fill="#34548c" />
<text x="474" y="36.2" font-size="8.8" text-anchor="start" fill="#222" >CD8<tspan font-size="5.5" dy="-3">+</tspan><tspan dy="3"> T</tspan></text>
<text x="474" y="46.2" font-size="8.8" text-anchor="start" fill="#222" >CD4<tspan font-size="5.5" dy="-3">+</tspan><tspan dy="3"> T</tspan></text>
<text x="8.5" y="154.5" font-size="12" text-anchor="start" font-weight="bold" fill="#111" >C</text>
<text x="71.5" y="155.8" font-size="10" text-anchor="middle" fill="#222" textLength="18.5" lengthAdjust="spacingAndGlyphs" >CD4</text>
<text x="180" y="155.8" font-size="10" text-anchor="middle" fill="#222" textLength="18.5" lengthAdjust="spacingAndGlyphs" >CD8</text>
<clipPath id="c4"><rect x="22" y="160.2" width="100" height="99.8"/></clipPath>
<clipPath id="c8"><rect x="130" y="160.2" width="100.3" height="99.8"/></clipPath>
<g clip-path="url(#c4)">
<rect x="22" y="160" width="100" height="100" fill="#1414b4" />
<g filter="url(#b1)">
<ellipse cx="67.24" cy="215.98" rx="4.43" ry="1.73" fill="#04043c" opacity="0.65"/>
<ellipse cx="40.99" cy="240.39" rx="2.87" ry="2.03" fill="#0a0a78" opacity="0.38"/>
<ellipse cx="52.34" cy="169.07" rx="4.03" ry="2.19" fill="#06065a" opacity="0.56"/>
<ellipse cx="61.62" cy="205.3" rx="3.79" ry="2.1" fill="#04043c" opacity="0.36"/>
<ellipse cx="74.84" cy="165.96" rx="1.87" ry="1.28" fill="#06065a" opacity="0.62"/>
<ellipse cx="54.63" cy="219.1" rx="1.88" ry="1.27" fill="#2020d0" opacity="0.52"/>
<ellipse cx="88.24" cy="205.73" rx="2.17" ry="2.8" fill="#050548" opacity="0.38"/>
<ellipse cx="47.4" cy="235.8" rx="3" ry="0.86" fill="#04043c" opacity="0.62"/>
<ellipse cx="62.04" cy="244.66" rx="2.55" ry="2.72" fill="#050548" opacity="0.59"/>
<ellipse cx="43.35" cy="252.7" rx="1.38" ry="1.55" fill="#08086a" opacity="0.49"/>
<ellipse cx="29.3" cy="222.95" rx="3.92" ry="1.34" fill="#06065a" opacity="0.46"/>
<ellipse cx="23.51" cy="201.01" rx="4.43" ry="1.07" fill="#08086a" opacity="0.39"/>
<ellipse cx="27.99" cy="239.7" rx="1.82" ry="1.92" fill="#1818c4" opacity="0.53"/>
<ellipse cx="120.53" cy="236.95" rx="2.67" ry="1.57" fill="#1818c4" opacity="0.5"/>
<ellipse cx="43.29" cy="186.98" rx="4.6" ry="2.41" fill="#2020d0" opacity="0.7"/>
<ellipse cx="23.96" cy="178.73" rx="4.69" ry="2" fill="#04043c" opacity="0.39"/>
<ellipse cx="120.93" cy="181.32" rx="2.1" ry="2.35" fill="#2020d0" opacity="0.64"/>
<ellipse cx="60.62" cy="167.43" rx="1.93" ry="2.07" fill="#06065a" opacity="0.56"/>
<ellipse cx="59.17" cy="205.32" rx="4.56" ry="1.77" fill="#04043c" opacity="0.4"/>
<ellipse cx="60.61" cy="222.72" rx="2.29" ry="1.26" fill="#04043c" opacity="0.44"/>
<ellipse cx="40.98" cy="233.94" rx="4.49" ry="1.19" fill="#1818c4" opacity="0.66"/>
<ellipse cx="82.35" cy="202.15" rx="1.56" ry="0.88" fill="#2020d0" opacity="0.43"/>
<ellipse cx="92.46" cy="185.7" rx="4.08" ry="1.99" fill="#2020d0" opacity="0.53"/>
<ellipse cx="114.92" cy="257.72" rx="1.64" ry="1.76" fill="#08086a" opacity="0.65"/>
<ellipse cx="83.43" cy="188.02" rx="4.41" ry="1.21" fill="#06065a" opacity="0.37"/>
<ellipse cx="63.14" cy="184.91" rx="1.36" ry="1.36" fill="#04043c" opacity="0.55"/>
<ellipse cx="35.16" cy="196.21" rx="4.32" ry="2.76" fill="#08086a" opacity="0.61"/>
<ellipse cx="74.19" cy="254.69" rx="3.26" ry="2.65" fill="#1818c4" opacity="0.67"/>
<ellipse cx="92.1" cy="256.28" rx="1.27" ry="2.07" fill="#1818c4" opacity="0.37"/>
<ellipse cx="53.11" cy="173.66" rx="1.45" ry="1.71" fill="#2020d0" opacity="0.61"/>
<ellipse cx="112.02" cy="233.71" rx="3.66" ry="2.39" fill="#2020d0" opacity="0.47"/>
<ellipse cx="90.51" cy="250.08" rx="4.25" ry="1.63" fill="#050548" opacity="0.36"/>
<ellipse cx="71.99" cy="161.45" rx="3.52" ry="1.56" fill="#06065a" opacity="0.56"/>
<ellipse cx="30.02" cy="223.94" rx="4.68" ry="2.56" fill="#08086a" opacity="0.47"/>
<ellipse cx="115.43" cy="229.42" rx="2.8" ry="1.73" fill="#04043c" opacity="0.38"/>
<ellipse cx="97.02" cy="162.98" rx="3.3" ry="1.76" fill="#0a0a78" opacity="0.69"/>
<ellipse cx="33.29" cy="237.99" rx="3.51" ry="1.77" fill="#06065a" opacity="0.48"/>
<ellipse cx="36.32" cy="221.18" rx="3.01" ry="2.31" fill="#2020d0" opacity="0.58"/>
<ellipse cx="66.19" cy="249.17" rx="2.34" ry="2.13" fill="#0a0a78" opacity="0.57"/>
<ellipse cx="102.37" cy="235.46" rx="1.9" ry="1.23" fill="#0a0a78" opacity="0.55"/>
<ellipse cx="53.65" cy="173.62" rx="2.94" ry="2.47" fill="#050548" opacity="0.36"/>
<ellipse cx="28.41" cy="258.04" rx="4.08" ry="1.03" fill="#1818c4" opacity="0.45"/>
<ellipse cx="43.41" cy="201.4" rx="3.39" ry="1.79" fill="#2020d0" opacity="0.6"/>
<ellipse cx="106.19" cy="222.48" rx="2.32" ry="2.46" fill="#2020d0" opacity="0.66"/>
<ellipse cx="26.15" cy="230.86" rx="3.2" ry="1.42" fill="#050548" opacity="0.55"/>
<ellipse cx="86.1" cy="200.52" rx="1.86" ry="2.34" fill="#2020d0" opacity="0.43"/>
<ellipse cx="36.09" cy="164.69" rx="3.4" ry="1.69" fill="#08086a" opacity="0.54"/>
<ellipse cx="85.99" cy="196.87" rx="1.47" ry="1.2" fill="#050548" opacity="0.52"/>
<ellipse cx="39.87" cy="161.08" rx="2.85" ry="2.23" fill="#0a0a78" opacity="0.43"/>
<ellipse cx="99.86" cy="213.97" rx="4.51" ry="1.8" fill="#050548" opacity="0.41"/>
<ellipse cx="106.88" cy="229.98" rx="1.98" ry="1.62" fill="#08086a" opacity="0.49"/>
<ellipse cx="67.05" cy="179.69" rx="4.31" ry="0.81" fill="#04043c" opacity="0.55"/>
<ellipse cx="109.93" cy="239.68" rx="4.5" ry="1.73" fill="#08086a" opacity="0.69"/>
<ellipse cx="31.9" cy="246.62" rx="3.99" ry="2.65" fill="#06065a" opacity="0.42"/>
<ellipse cx="112" cy="258.05" rx="4.62" ry="1.87" fill="#050548" opacity="0.68"/>
<ellipse cx="48.19" cy="231.83" rx="1.25" ry="1.81" fill="#06065a" opacity="0.5"/>
<ellipse cx="77.03" cy="236.82" rx="2.91" ry="0.86" fill="#050548" opacity="0.65"/>
<ellipse cx="64.89" cy="163.51" rx="3.07" ry="2.17" fill="#0a0a78" opacity="0.51"/>
<ellipse cx="121.98" cy="250.06" rx="3.01" ry="2.16" fill="#1818c4" opacity="0.68"/>
<ellipse cx="71.26" cy="254.92" rx="1.5" ry="1.24" fill="#04043c" opacity="0.55"/>
<ellipse cx="105.12" cy="216.15" rx="1.78" ry="1.83" fill="#04043c" opacity="0.44"/>
<ellipse cx="89.13" cy="255.48" rx="4.25" ry="2.02" fill="#2020d0" opacity="0.65"/>
<ellipse cx="118.84" cy="212.42" rx="3.21" ry="1.2" fill="#04043c" opacity="0.39"/>
<ellipse cx="22.49" cy="197.7" rx="3.08" ry="0.89" fill="#1818c4" opacity="0.54"/>
<ellipse cx="120.94" cy="172.19" rx="1.53" ry="1.13" fill="#04043c" opacity="0.51"/>
<ellipse cx="114.08" cy="240.04" rx="2.61" ry="1.29" fill="#1818c4" opacity="0.39"/>
<ellipse cx="65.37" cy="241.57" rx="4.35" ry="1.75" fill="#2020d0" opacity="0.39"/>
<ellipse cx="63.95" cy="162.94" rx="2.11" ry="2.2" fill="#06065a" opacity="0.36"/>
<ellipse cx="37.55" cy="161.18" rx="2.19" ry="2.25" fill="#0a0a78" opacity="0.57"/>
<ellipse cx="32.49" cy="233.09" rx="1.63" ry="1.82" fill="#2020d0" opacity="0.6"/>
<ellipse cx="92.14" cy="247.87" rx="1.28" ry="2.07" fill="#050548" opacity="0.54"/>
<ellipse cx="37.97" cy="180.43" rx="3.41" ry="2.08" fill="#04043c" opacity="0.43"/>
<ellipse cx="76.29" cy="218.66" rx="1.68" ry="2.63" fill="#08086a" opacity="0.63"/>
<ellipse cx="112.27" cy="191.59" rx="2.3" ry="2.65" fill="#0a0a78" opacity="0.62"/>
<ellipse cx="41.45" cy="169.69" rx="4.31" ry="1.07" fill="#06065a" opacity="0.44"/>
<ellipse cx="31.7" cy="243.22" rx="2.68" ry="2.38" fill="#0a0a78" opacity="0.42"/>
<ellipse cx="84.8" cy="239.89" rx="1.54" ry="1.94" fill="#2020d0" opacity="0.67"/>
<ellipse cx="118.84" cy="171.54" rx="2.97" ry="2.32" fill="#04043c" opacity="0.7"/>
<ellipse cx="105.29" cy="240.28" rx="2.89" ry="0.85" fill="#050548" opacity="0.54"/>
<ellipse cx="73.48" cy="216.87" rx="1.71" ry="1.17" fill="#0a0a78" opacity="0.41"/>
<ellipse cx="37.8" cy="188.31" rx="3.56" ry="1.96" fill="#0a0a78" opacity="0.68"/>
<ellipse cx="68.21" cy="236.47" rx="2.34" ry="1.73" fill="#04043c" opacity="0.47"/>
<ellipse cx="43.01" cy="197.32" rx="3.42" ry="0.88" fill="#0a0a78" opacity="0.41"/>
<ellipse cx="67.4" cy="233.93" rx="2.62" ry="1.19" fill="#0a0a78" opacity="0.38"/>
<ellipse cx="101.23" cy="192.37" rx="1.5" ry="2.48" fill="#050548" opacity="0.67"/>
<ellipse cx="115.96" cy="216.97" rx="1.87" ry="1.97" fill="#2020d0" opacity="0.63"/>
<ellipse cx="47.83" cy="251.13" rx="3.81" ry="2.36" fill="#050548" opacity="0.68"/>
<ellipse cx="35.32" cy="192.99" rx="3.09" ry="1.54" fill="#1818c4" opacity="0.62"/>
<ellipse cx="62.57" cy="232.26" rx="1.45" ry="1.48" fill="#1818c4" opacity="0.39"/>
<ellipse cx="110.8" cy="259.06" rx="4.36" ry="0.9" fill="#2020d0" opacity="0.68"/>
<ellipse cx="88.61" cy="193.78" rx="3.51" ry="1.94" fill="#04043c" opacity="0.38"/>
<ellipse cx="73.47" cy="209.76" rx="1.95" ry="1.04" fill="#1818c4" opacity="0.69"/>
<ellipse cx="24.28" cy="221.54" rx="3.79" ry="1.31" fill="#1818c4" opacity="0.53"/>
<ellipse cx="98.13" cy="224.8" rx="1.24" ry="1.32" fill="#2020d0" opacity="0.67"/>
<ellipse cx="77.01" cy="210.78" rx="4.58" ry="1.94" fill="#06065a" opacity="0.57"/>
<ellipse cx="102.95" cy="167.62" rx="3.29" ry="2.32" fill="#06065a" opacity="0.49"/>
<ellipse cx="115.86" cy="198.59" rx="4.6" ry="2.51" fill="#04043c" opacity="0.56"/>
<ellipse cx="27.85" cy="254.53" rx="2.67" ry="1.85" fill="#04043c" opacity="0.46"/>
<ellipse cx="75.04" cy="208.32" rx="2.14" ry="2.66" fill="#08086a" opacity="0.6"/>
<ellipse cx="51.6" cy="161.4" rx="2.06" ry="0.89" fill="#0a0a78" opacity="0.49"/>
<ellipse cx="90.43" cy="165.28" rx="2.3" ry="1.6" fill="#04043c" opacity="0.7"/>
<ellipse cx="116.45" cy="167.35" rx="4.37" ry="1.66" fill="#1818c4" opacity="0.44"/>
<ellipse cx="97.55" cy="164.54" rx="1.54" ry="2.42" fill="#1818c4" opacity="0.4"/>
<ellipse cx="118" cy="184.52" rx="3.67" ry="0.9" fill="#1818c4" opacity="0.51"/>
<ellipse cx="42.37" cy="165.21" rx="3.05" ry="1.05" fill="#1818c4" opacity="0.4"/>
<ellipse cx="63.7" cy="220.11" rx="3.44" ry="2.16" fill="#2020d0" opacity="0.62"/>
<ellipse cx="75.08" cy="259.76" rx="4.53" ry="2.27" fill="#0a0a78" opacity="0.52"/>
<ellipse cx="72.29" cy="190.86" rx="2.98" ry="2.49" fill="#2020d0" opacity="0.45"/>
<ellipse cx="90.5" cy="216.49" rx="3.27" ry="2.07" fill="#050548" opacity="0.43"/>
<ellipse cx="117.19" cy="210.21" rx="3.49" ry="1.19" fill="#08086a" opacity="0.36"/>
<ellipse cx="28.08" cy="187.09" rx="2.69" ry="2.05" fill="#06065a" opacity="0.43"/>
<ellipse cx="49.83" cy="235.58" rx="4.4" ry="1.12" fill="#0a0a78" opacity="0.57"/>
<ellipse cx="59.32" cy="207.86" rx="1.94" ry="1.49" fill="#08086a" opacity="0.4"/>
<ellipse cx="108.96" cy="240.23" rx="2.77" ry="2.44" fill="#050548" opacity="0.62"/>
<ellipse cx="43.32" cy="202.44" rx="2.1" ry="2.42" fill="#2020d0" opacity="0.4"/>
<ellipse cx="105.63" cy="219.67" rx="2.22" ry="2.32" fill="#050548" opacity="0.67"/>
<ellipse cx="64.77" cy="196.93" rx="1.54" ry="2.55" fill="#06065a" opacity="0.54"/>
<ellipse cx="65.2" cy="216.8" rx="4.05" ry="1.73" fill="#050548" opacity="0.62"/>
<ellipse cx="29.61" cy="181.33" rx="3.52" ry="0.96" fill="#2020d0" opacity="0.52"/>
<ellipse cx="98.41" cy="192.79" rx="4.29" ry="1.24" fill="#08086a" opacity="0.6"/>
<ellipse cx="58.64" cy="171.74" rx="3.68" ry="1.94" fill="#08086a" opacity="0.67"/>
<ellipse cx="65.8" cy="240.3" rx="2.27" ry="1.44" fill="#1818c4" opacity="0.69"/>
<ellipse cx="94.98" cy="211.62" rx="1.5" ry="2.46" fill="#06065a" opacity="0.48"/>
<ellipse cx="61.56" cy="198.76" rx="1.88" ry="1.93" fill="#050548" opacity="0.49"/>
<ellipse cx="37.48" cy="219.11" rx="1.82" ry="0.98" fill="#1818c4" opacity="0.66"/>
<ellipse cx="50.15" cy="162.22" rx="3" ry="1.89" fill="#04043c" opacity="0.45"/>
<ellipse cx="24.23" cy="244.17" rx="2.68" ry="1.96" fill="#2020d0" opacity="0.63"/>
<ellipse cx="30.4" cy="168.17" rx="3.78" ry="2.6" fill="#06065a" opacity="0.36"/>
<ellipse cx="87.35" cy="169.74" rx="4.06" ry="1.64" fill="#08086a" opacity="0.43"/>
<ellipse cx="98.54" cy="212.16" rx="3.88" ry="1.59" fill="#2020d0" opacity="0.63"/>
<ellipse cx="55.3" cy="173.67" rx="2.91" ry="2.41" fill="#06065a" opacity="0.6"/>
<ellipse cx="113.5" cy="201.06" rx="4.09" ry="2.13" fill="#050548" opacity="0.35"/>
<ellipse cx="59.8" cy="168.93" rx="2.83" ry="1.88" fill="#06065a" opacity="0.53"/>
<ellipse cx="93.01" cy="240.23" rx="2.68" ry="1.64" fill="#0a0a78" opacity="0.44"/>
<ellipse cx="38.23" cy="223.52" rx="3.59" ry="1.44" fill="#1818c4" opacity="0.5"/>
<ellipse cx="51.2" cy="256.98" rx="1.41" ry="1.42" fill="#06065a" opacity="0.46"/>
<ellipse cx="37.55" cy="251.97" rx="4.39" ry="2.31" fill="#06065a" opacity="0.55"/>
<ellipse cx="112.93" cy="163.64" rx="1.58" ry="1.17" fill="#0a0a78" opacity="0.56"/>
<ellipse cx="82" cy="207.19" rx="2.98" ry="1.68" fill="#2020d0" opacity="0.49"/>
<ellipse cx="113.07" cy="253.74" rx="3.39" ry="2.68" fill="#04043c" opacity="0.52"/>
<ellipse cx="48.05" cy="248.74" rx="4.4" ry="1.48" fill="#04043c" opacity="0.62"/>
<ellipse cx="31.24" cy="246.26" rx="2.6" ry="1.23" fill="#0a0a78" opacity="0.63"/>
<ellipse cx="60.5" cy="212.76" rx="3.01" ry="1.35" fill="#06065a" opacity="0.58"/>
<ellipse cx="45.76" cy="161.09" rx="2.85" ry="1.54" fill="#050548" opacity="0.44"/>
<ellipse cx="64.14" cy="247.48" rx="2.66" ry="2.34" fill="#0a0a78" opacity="0.44"/>
<ellipse cx="108.92" cy="211.61" rx="3.43" ry="2.79" fill="#2020d0" opacity="0.53"/>
<ellipse cx="27.29" cy="217.19" rx="1.82" ry="1.21" fill="#050548" opacity="0.4"/>
<ellipse cx="34.84" cy="195.17" rx="3.35" ry="1.86" fill="#1818c4" opacity="0.59"/>
<ellipse cx="30.29" cy="234.86" rx="3.1" ry="1.81" fill="#06065a" opacity="0.63"/>
<ellipse cx="63.7" cy="251.68" rx="1.52" ry="2.45" fill="#0a0a78" opacity="0.36"/>
<ellipse cx="63.31" cy="209.42" rx="4.51" ry="2.73" fill="#2020d0" opacity="0.46"/>
<ellipse cx="29.6" cy="190.57" rx="2.84" ry="2.23" fill="#2020d0" opacity="0.38"/>
<ellipse cx="36.06" cy="226.77" rx="3.57" ry="2.29" fill="#050548" opacity="0.64"/>
<ellipse cx="87.39" cy="161.23" rx="2.52" ry="2.22" fill="#0a0a78" opacity="0.45"/>
<ellipse cx="33.33" cy="237.18" rx="4.2" ry="2.49" fill="#08086a" opacity="0.42"/>
<ellipse cx="83.61" cy="189.04" rx="2.52" ry="1.88" fill="#2020d0" opacity="0.68"/>
<ellipse cx="97.49" cy="215.56" rx="1.5" ry="1.18" fill="#1818c4" opacity="0.61"/>
<ellipse cx="54.94" cy="254.5" rx="3.17" ry="2.25" fill="#2020d0" opacity="0.51"/>
<ellipse cx="60.24" cy="170.19" rx="3.38" ry="1.06" fill="#08086a" opacity="0.6"/>
<ellipse cx="39.99" cy="200.23" rx="4.13" ry="1.99" fill="#06065a" opacity="0.39"/>
<ellipse cx="25.24" cy="258.74" rx="2.72" ry="2.34" fill="#2020d0" opacity="0.67"/>
<ellipse cx="64.7" cy="211.16" rx="3.47" ry="2.33" fill="#050548" opacity="0.59"/>
<ellipse cx="70.27" cy="252.13" rx="3.38" ry="2.25" fill="#04043c" opacity="0.59"/>
<ellipse cx="120.2" cy="238.97" rx="3.51" ry="2.02" fill="#06065a" opacity="0.44"/>
<ellipse cx="40.88" cy="190.68" rx="2.74" ry="1.91" fill="#0a0a78" opacity="0.53"/>
<ellipse cx="100.86" cy="242.52" rx="3.34" ry="1.12" fill="#050548" opacity="0.54"/>
<ellipse cx="51.85" cy="183.39" rx="3.34" ry="1.83" fill="#04043c" opacity="0.6"/>
<ellipse cx="120.68" cy="211.6" rx="3.7" ry="2.47" fill="#0a0a78" opacity="0.55"/>
<ellipse cx="24.67" cy="225.94" rx="3.92" ry="1.07" fill="#1818c4" opacity="0.55"/>
<ellipse cx="91.71" cy="192.92" rx="4.45" ry="1.52" fill="#1818c4" opacity="0.66"/>
<ellipse cx="67.23" cy="232.98" rx="2.04" ry="1.94" fill="#04043c" opacity="0.55"/>
<ellipse cx="78.03" cy="186.44" rx="4.38" ry="2.78" fill="#050548" opacity="0.47"/>
<ellipse cx="36.56" cy="253.4" rx="1.21" ry="2.17" fill="#2020d0" opacity="0.43"/>
<ellipse cx="79.36" cy="243.08" rx="1.85" ry="1.9" fill="#06065a" opacity="0.51"/>
<ellipse cx="62.34" cy="238.27" rx="4.45" ry="2.8" fill="#0a0a78" opacity="0.46"/>
<ellipse cx="89.12" cy="233.77" rx="2.54" ry="1.98" fill="#050548" opacity="0.62"/>
<ellipse cx="37.85" cy="201.2" rx="1.32" ry="1.86" fill="#06065a" opacity="0.55"/>
<ellipse cx="39.37" cy="211.98" rx="2.12" ry="1.94" fill="#2020d0" opacity="0.37"/>
<ellipse cx="100.4" cy="232.16" rx="3.96" ry="1.61" fill="#1818c4" opacity="0.56"/>
<ellipse cx="68.99" cy="201.14" rx="3.38" ry="2.18" fill="#050548" opacity="0.49"/>
<ellipse cx="50.16" cy="248.92" rx="2.82" ry="2.61" fill="#08086a" opacity="0.49"/>
<ellipse cx="65.4" cy="216.6" rx="4.37" ry="1.85" fill="#04043c" opacity="0.53"/>
<ellipse cx="64.04" cy="162.42" rx="4.38" ry="1.39" fill="#04043c" opacity="0.67"/>
<ellipse cx="95.2" cy="219.75" rx="3.83" ry="1.41" fill="#04043c" opacity="0.66"/>
<ellipse cx="46.43" cy="244.44" rx="2.05" ry="2.55" fill="#06065a" opacity="0.52"/>
<ellipse cx="32.54" cy="250.99" rx="3.11" ry="2.11" fill="#0a0a78" opacity="0.66"/>
<ellipse cx="121.93" cy="233.08" rx="4.25" ry="1.54" fill="#04043c" opacity="0.5"/>
<ellipse cx="102.53" cy="182.18" rx="3.81" ry="1.93" fill="#06065a" opacity="0.38"/>
<ellipse cx="101.24" cy="172.38" rx="3.08" ry="2.7" fill="#06065a" opacity="0.45"/>
<ellipse cx="94.82" cy="162.39" rx="1.8" ry="1.68" fill="#1818c4" opacity="0.64"/>
<ellipse cx="61.73" cy="195.65" rx="3.25" ry="0.89" fill="#06065a" opacity="0.51"/>
<ellipse cx="53.38" cy="192.44" rx="1.7" ry="2.35" fill="#050548" opacity="0.52"/>
<ellipse cx="42.65" cy="189.53" rx="4.43" ry="2.59" fill="#0a0a78" opacity="0.46"/>
<ellipse cx="107.92" cy="249.93" rx="1.26" ry="2.07" fill="#08086a" opacity="0.7"/>
<ellipse cx="42.2" cy="223.24" rx="1.87" ry="2.56" fill="#06065a" opacity="0.58"/>
<ellipse cx="52.61" cy="241.77" rx="4.56" ry="1.35" fill="#1818c4" opacity="0.6"/>
<ellipse cx="35.49" cy="229.6" rx="4.48" ry="1.69" fill="#06065a" opacity="0.41"/>
<ellipse cx="108.15" cy="172.07" rx="3.62" ry="1.34" fill="#08086a" opacity="0.43"/>
<ellipse cx="88.46" cy="239.05" rx="2.5" ry="2.12" fill="#06065a" opacity="0.56"/>
<ellipse cx="44.9" cy="190.09" rx="4.44" ry="2.13" fill="#2020d0" opacity="0.4"/>
<ellipse cx="88.78" cy="206.27" rx="1.47" ry="2.63" fill="#06065a" opacity="0.54"/>
<ellipse cx="26.53" cy="219.97" rx="2.2" ry="1.3" fill="#050548" opacity="0.55"/>
<ellipse cx="38.45" cy="258.83" rx="1.86" ry="1.16" fill="#08086a" opacity="0.54"/>
<ellipse cx="40.64" cy="249.7" rx="4.66" ry="0.87" fill="#1818c4" opacity="0.67"/>
<ellipse cx="80.49" cy="160.27" rx="4.32" ry="0.92" fill="#06065a" opacity="0.54"/>
<ellipse cx="86.5" cy="195.96" rx="3.5" ry="2.37" fill="#04043c" opacity="0.45"/>
<ellipse cx="104.71" cy="223.47" rx="4.64" ry="2.29" fill="#04043c" opacity="0.41"/>
<ellipse cx="99.97" cy="176.52" rx="3.33" ry="1.27" fill="#1818c4" opacity="0.54"/>
<ellipse cx="47.62" cy="231.61" rx="3.73" ry="1.32" fill="#04043c" opacity="0.43"/>
<ellipse cx="80.01" cy="209.9" rx="1.32" ry="1.99" fill="#08086a" opacity="0.37"/>
<ellipse cx="66.84" cy="248.06" rx="2.34" ry="2.02" fill="#04043c" opacity="0.52"/>
<ellipse cx="65.46" cy="204.17" rx="2.12" ry="2.4" fill="#06065a" opacity="0.39"/>
<ellipse cx="39.82" cy="223.99" rx="3.23" ry="2.24" fill="#04043c" opacity="0.4"/>
<ellipse cx="53.1" cy="164.23" rx="2.3" ry="2.04" fill="#04043c" opacity="0.62"/>
<ellipse cx="98.53" cy="209.83" rx="3.48" ry="1.82" fill="#1818c4" opacity="0.44"/>
<ellipse cx="37.98" cy="229.07" rx="4.11" ry="2.37" fill="#06065a" opacity="0.46"/>
<ellipse cx="68.68" cy="229.87" rx="3.66" ry="2.71" fill="#0a0a78" opacity="0.52"/>
<ellipse cx="98.13" cy="258.62" rx="1.71" ry="1.71" fill="#08086a" opacity="0.69"/>
<ellipse cx="22.33" cy="200.99" rx="3.04" ry="0.98" fill="#04043c" opacity="0.45"/>
<ellipse cx="64.44" cy="167.65" rx="1.32" ry="2.79" fill="#050548" opacity="0.69"/>
<circle cx="45" cy="245" r="35" fill="none" stroke="#08086a" stroke-width="1.3" opacity="0.35" stroke-dasharray="9 4"/>
<circle cx="45" cy="245" r="42" fill="none" stroke="#08086a" stroke-width="1.3" opacity="0.35" stroke-dasharray="9 6"/>
<circle cx="45" cy="245" r="49" fill="none" stroke="#08086a" stroke-width="1.3" opacity="0.35" stroke-dasharray="9 8"/>
<circle cx="45" cy="245" r="56" fill="none" stroke="#08086a" stroke-width="1.3" opacity="0.35" stroke-dasharray="9 5"/>
<circle cx="45" cy="245" r="63" fill="none" stroke="#08086a" stroke-width="1.3" opacity="0.35" stroke-dasharray="9 7"/>
<circle cx="45" cy="245" r="70" fill="none" stroke="#08086a" stroke-width="1.3" opacity="0.35" stroke-dasharray="9 4"/>
<circle cx="45" cy="245" r="77" fill="none" stroke="#08086a" stroke-width="1.3" opacity="0.35" stroke-dasharray="9 6"/>
<circle cx="45" cy="245" r="84" fill="none" stroke="#08086a" stroke-width="1.3" opacity="0.35" stroke-dasharray="9 8"/>
<circle cx="45" cy="245" r="91" fill="none" stroke="#08086a" stroke-width="1.3" opacity="0.35" stroke-dasharray="9 5"/>
<circle cx="45" cy="245" r="98" fill="none" stroke="#08086a" stroke-width="1.3" opacity="0.35" stroke-dasharray="9 7"/>
</g>
<rect x="22" y="160" width="100" height="100" fill="#000" filter="url(#nz)" opacity="0.85"/>
<ellipse cx="66" cy="205" rx="46" ry="33" fill="none" stroke="#06064a" stroke-width="2.2" opacity="0.3" transform="rotate(-8 66 205)" filter="url(#b1)"/>
<ellipse cx="64" cy="206" rx="38" ry="26" fill="none" stroke="#06064a" stroke-width="2.2" opacity="0.3" transform="rotate(-8 64 206)" filter="url(#b1)"/>
<ellipse cx="60" cy="230" rx="60" ry="45" fill="none" stroke="#06064a" stroke-width="2.2" opacity="0.3" transform="rotate(0 60 230)" filter="url(#b1)"/>
<path d="M92 158 L124 158 L124 192 A97 97 0 0 0 92 158 Z" fill="#000" filter="url(#b2)"/>
<path d="M101 158 L124 158 L124 183 A97 97 0 0 0 101 158 Z" fill="#000"/>
<path d="M22 160 L66 160 A 90 90 0 0 0 22 182 Z" fill="#06064a" opacity="0.7" filter="url(#b2)"/>
<rect x="22" y="160" width="5" height="100" fill="#04043a" opacity="0.6" filter="url(#b1_5)"/>
<ellipse cx="46" cy="201" rx="6.5" ry="5.5" fill="#020010" filter="url(#b1_5)"/>
<ellipse cx="83" cy="207" rx="8" ry="7.5" fill="#000" filter="url(#b1_5)"/>
<circle cx="50.5" cy="174.5" r="1.1" fill="#d04080" filter="url(#b0_5)"/>
</g>
<g clip-path="url(#c8)">
<rect x="130" y="160" width="100.3" height="100" fill="#000" />
<radialGradient id="g8" cx="200" cy="236" r="78" gradientUnits="userSpaceOnUse"><stop offset="0" stop-color="#2828e8"/><stop offset="0.4" stop-color="#2020d0"/><stop offset="0.62" stop-color="#14149c"/><stop offset="0.78" stop-color="#0c0a58"/><stop offset="0.9" stop-color="#0a0634"/><stop offset="1" stop-color="#080424"/></radialGradient><linearGradient id="g8b" gradientUnits="userSpaceOnUse" x1="140" y1="165" x2="205" y2="228"><stop offset="0" stop-color="#040210" stop-opacity="0.95"/><stop offset="0.45" stop-color="#060318" stop-opacity="0.8"/><stop offset="0.75" stop-color="#06041a" stop-opacity="0.25"/><stop offset="1" stop-color="#000" stop-opacity="0"/></linearGradient>
<path d="M130 160 L222 160 L222 198 Q221 238 204 260 L130 260 Z" fill="url(#g8)" filter="url(#b1)"/>
<rect x="130" y="160" width="100" height="100" fill="url(#g8b)"/>
<rect x="130" y="160" width="100" height="100" fill="#000" filter="url(#nz)" opacity="0.7"/>
<g filter="url(#b1)">
<ellipse cx="195.93" cy="207.18" rx="1.86" ry="2.71" fill="#4040f8" opacity="0.5"/>
<ellipse cx="184.62" cy="254.93" rx="2.59" ry="1.67" fill="#0c0c90" opacity="0.5"/>
<ellipse cx="175.74" cy="237.1" rx="4.09" ry="2.18" fill="#0c0c90" opacity="0.5"/>
<ellipse cx="184.69" cy="214.47" rx="4.03" ry="1.76" fill="#3030f0" opacity="0.5"/>
<ellipse cx="166.15" cy="211.06" rx="2.05" ry="2.1" fill="#0c0c90" opacity="0.5"/>
<ellipse cx="186.01" cy="215.02" rx="3.28" ry="2.52" fill="#4040f8" opacity="0.5"/>
<ellipse cx="183.53" cy="259.5" rx="3.54" ry="2.73" fill="#0c0c90" opacity="0.5"/>
<ellipse cx="190.52" cy="216.44" rx="1.64" ry="1.55" fill="#2828e8" opacity="0.5"/>
<ellipse cx="196.57" cy="223.92" rx="3.72" ry="2.02" fill="#0c0c90" opacity="0.5"/>
<ellipse cx="170.15" cy="212.08" rx="1.96" ry="2.87" fill="#2828e8" opacity="0.5"/>
<ellipse cx="212.95" cy="193.94" rx="4.49" ry="2.68" fill="#4040f8" opacity="0.5"/>
<ellipse cx="174.39" cy="242.8" rx="3.06" ry="1.11" fill="#4040f8" opacity="0.5"/>
<ellipse cx="195.59" cy="221.63" rx="2.06" ry="2.03" fill="#0c0c90" opacity="0.5"/>
<ellipse cx="181.8" cy="225.8" rx="1.91" ry="2.41" fill="#2828e8" opacity="0.5"/>
<ellipse cx="173.54" cy="218.88" rx="2.63" ry="2.76" fill="#2828e8" opacity="0.5"/>
<ellipse cx="190.12" cy="218.7" rx="1.91" ry="2.03" fill="#2828e8" opacity="0.5"/>
<ellipse cx="166.95" cy="206.91" rx="2.53" ry="1.43" fill="#3030f0" opacity="0.5"/>
<ellipse cx="213.62" cy="241.03" rx="2.95" ry="1.02" fill="#2828e8" opacity="0.5"/>
<ellipse cx="213.97" cy="226.86" rx="2.56" ry="1.24" fill="#2828e8" opacity="0.5"/>
<ellipse cx="167.6" cy="232.44" rx="1.77" ry="1.86" fill="#4040f8" opacity="0.5"/>
<ellipse cx="186.97" cy="221.74" rx="4.29" ry="1.57" fill="#2828e8" opacity="0.5"/>
<ellipse cx="166.62" cy="254.41" rx="2.11" ry="2.54" fill="#2828e8" opacity="0.5"/>
<ellipse cx="199.89" cy="202.99" rx="1.78" ry="1.68" fill="#4040f8" opacity="0.5"/>
<ellipse cx="210.31" cy="220.87" rx="2.27" ry="2.71" fill="#2828e8" opacity="0.5"/>
<ellipse cx="179.35" cy="212.32" rx="1.69" ry="1.81" fill="#3030f0" opacity="0.5"/>
<ellipse cx="178.29" cy="248.51" rx="2.4" ry="2.44" fill="#2828e8" opacity="0.5"/>
<ellipse cx="174.27" cy="213" rx="2.39" ry="2.63" fill="#0c0c90" opacity="0.5"/>
<ellipse cx="198.17" cy="213.83" rx="2.52" ry="2.8" fill="#3030f0" opacity="0.5"/>
<ellipse cx="193.21" cy="255.68" rx="3.81" ry="2.25" fill="#4040f8" opacity="0.5"/>
<ellipse cx="183.72" cy="257.47" rx="2.65" ry="2.61" fill="#2828e8" opacity="0.5"/>
<ellipse cx="173.15" cy="212.03" rx="4.43" ry="1.3" fill="#0c0c90" opacity="0.5"/>
<ellipse cx="170.23" cy="204.36" rx="2.16" ry="2.04" fill="#4040f8" opacity="0.5"/>
<ellipse cx="213.67" cy="242.4" rx="1.74" ry="2.65" fill="#2828e8" opacity="0.5"/>
<ellipse cx="165.6" cy="214.72" rx="1.97" ry="1.38" fill="#0c0c90" opacity="0.5"/>
<ellipse cx="161.96" cy="231.62" rx="2.97" ry="2.13" fill="#2828e8" opacity="0.5"/>
<ellipse cx="181.11" cy="212.51" rx="3.5" ry="2" fill="#0c0c90" opacity="0.5"/>
<ellipse cx="177.17" cy="237.96" rx="4.25" ry="2.48" fill="#3030f0" opacity="0.5"/>
<ellipse cx="224.19" cy="246.34" rx="4.16" ry="1.62" fill="#4040f8" opacity="0.5"/>
<ellipse cx="188.43" cy="235.94" rx="1.62" ry="2.24" fill="#4040f8" opacity="0.5"/>
<ellipse cx="169.04" cy="223.06" rx="3.89" ry="1.78" fill="#2828e8" opacity="0.5"/>
<ellipse cx="177.58" cy="236.21" rx="2.05" ry="2.71" fill="#0c0c90" opacity="0.5"/>
<ellipse cx="213.2" cy="247.14" rx="3.2" ry="1.84" fill="#0c0c90" opacity="0.5"/>
<ellipse cx="196.72" cy="247.33" rx="3.9" ry="1.25" fill="#4040f8" opacity="0.5"/>
<ellipse cx="196.59" cy="206.9" rx="3.46" ry="2.95" fill="#4040f8" opacity="0.5"/>
<ellipse cx="193.91" cy="255.58" rx="4.41" ry="1.27" fill="#2828e8" opacity="0.5"/>
<ellipse cx="181.45" cy="232.36" rx="2.69" ry="2.87" fill="#0c0c90" opacity="0.5"/>
<ellipse cx="171.45" cy="239.84" rx="4.48" ry="1.24" fill="#2828e8" opacity="0.5"/>
<ellipse cx="217.85" cy="247.46" rx="4.07" ry="1.34" fill="#3030f0" opacity="0.5"/>
<ellipse cx="173.19" cy="245.04" rx="4.02" ry="1.57" fill="#4040f8" opacity="0.5"/>
<ellipse cx="204.14" cy="215.61" rx="1.93" ry="2.15" fill="#0c0c90" opacity="0.5"/>
<ellipse cx="190.95" cy="245.01" rx="1.94" ry="1.35" fill="#3030f0" opacity="0.5"/>
<ellipse cx="191.71" cy="252.25" rx="4.14" ry="1.87" fill="#0c0c90" opacity="0.5"/>
<ellipse cx="192.44" cy="195.77" rx="3.38" ry="1.55" fill="#0c0c90" opacity="0.5"/>
<ellipse cx="191.36" cy="226.92" rx="1.95" ry="1.01" fill="#2828e8" opacity="0.5"/>
<ellipse cx="209.18" cy="259.37" rx="2.73" ry="1.06" fill="#2828e8" opacity="0.5"/>
<ellipse cx="210.53" cy="214.7" rx="1.67" ry="2.1" fill="#2828e8" opacity="0.5"/>
<ellipse cx="170.78" cy="255.42" rx="4.09" ry="2.99" fill="#4040f8" opacity="0.5"/>
<ellipse cx="192.84" cy="255.56" rx="1.64" ry="2.71" fill="#0c0c90" opacity="0.5"/>
<ellipse cx="190.43" cy="235.61" rx="2.31" ry="1.05" fill="#2828e8" opacity="0.5"/>
<ellipse cx="177.34" cy="242.51" rx="2.29" ry="1.49" fill="#4040f8" opacity="0.5"/>
<ellipse cx="179.95" cy="245.23" rx="3.98" ry="2.54" fill="#3030f0" opacity="0.5"/>
<ellipse cx="220.21" cy="221.16" rx="4.02" ry="1.82" fill="#3030f0" opacity="0.5"/>
<ellipse cx="174.27" cy="239.32" rx="3.02" ry="1.55" fill="#2828e8" opacity="0.5"/>
<ellipse cx="197.02" cy="218.73" rx="2.44" ry="1.13" fill="#2828e8" opacity="0.5"/>
<ellipse cx="194.57" cy="204.85" rx="2.14" ry="1.36" fill="#3030f0" opacity="0.5"/>
<ellipse cx="205.74" cy="225.97" rx="3.54" ry="1.35" fill="#3030f0" opacity="0.5"/>
<ellipse cx="161.67" cy="212.96" rx="2.05" ry="1.04" fill="#4040f8" opacity="0.5"/>
</g>
<ellipse cx="175.5" cy="208" rx="12" ry="20" fill="#000" filter="url(#b3)"/>
<ellipse cx="175.5" cy="208" rx="8" ry="15" fill="#000" filter="url(#b1_5)"/>
<g filter="url(#b0_5)">
<rect x="165.98" y="200.34" width="1.38" height="2.33" fill="#c01830" opacity="0.71"/>
<rect x="134.9" y="258.75" width="1.31" height="2.01" fill="#d02040" opacity="0.4"/>
<rect x="213.75" y="181.96" width="1.89" height="2.51" fill="#d02040" opacity="0.57"/>
<rect x="185.97" y="177.78" width="1.24" height="1.51" fill="#801020" opacity="0.65"/>
<rect x="139.71" y="195.72" width="1.55" height="1.31" fill="#b01860" opacity="0.45"/>
<rect x="137.35" y="223.47" width="2.29" height="2.57" fill="#801020" opacity="0.76"/>
<rect x="179.65" y="181.23" width="1.39" height="2.17" fill="#601030" opacity="0.47"/>
<rect x="166.19" y="216.77" width="2.28" height="1.28" fill="#d02040" opacity="0.72"/>
<rect x="155.41" y="183" width="2.14" height="1.07" fill="#d02040" opacity="0.71"/>
<rect x="131.01" y="222.73" width="2.05" height="1.75" fill="#b01860" opacity="0.64"/>
<rect x="210.26" y="175.19" width="2.46" height="2.49" fill="#601030" opacity="0.64"/>
<rect x="203.15" y="172.67" width="2.56" height="1.26" fill="#c01830" opacity="0.47"/>
<rect x="164.91" y="183.41" width="2.39" height="1.5" fill="#d02040" opacity="0.43"/>
<rect x="132.51" y="247.01" width="2.24" height="1.42" fill="#601030" opacity="0.67"/>
<rect x="144.57" y="240.72" width="1.2" height="2.16" fill="#601030" opacity="0.38"/>
<rect x="146.79" y="224.37" width="2.23" height="2.26" fill="#801020" opacity="0.74"/>
<rect x="143.9" y="240" width="1.42" height="1.79" fill="#b01860" opacity="0.77"/>
<rect x="195.5" y="175.18" width="1.62" height="1.57" fill="#a01028" opacity="0.36"/>
<rect x="134.43" y="163.68" width="1.8" height="2.57" fill="#a01028" opacity="0.45"/>
<rect x="139.59" y="198.86" width="2.24" height="2.11" fill="#b01860" opacity="0.58"/>
<rect x="216.61" y="180.67" width="1.75" height="2.11" fill="#d02040" opacity="0.36"/>
<rect x="130.39" y="193.96" width="2.1" height="2.51" fill="#d02040" opacity="0.5"/>
<rect x="178.24" y="187.85" width="2.46" height="1.46" fill="#c01830" opacity="0.78"/>
<rect x="184.82" y="178.07" width="1.48" height="1.74" fill="#b01860" opacity="0.38"/>
<rect x="135.35" y="254.1" width="1.45" height="1.84" fill="#c01830" opacity="0.57"/>
<rect x="153.11" y="179.62" width="1.15" height="2.13" fill="#c01830" opacity="0.37"/>
<rect x="149.22" y="200.83" width="1.84" height="1.46" fill="#601030" opacity="0.77"/>
<rect x="185.72" y="183.51" width="1.39" height="1.52" fill="#d02040" opacity="0.38"/>
<rect x="147.2" y="247.26" width="2.53" height="1.47" fill="#c01830" opacity="0.74"/>
<rect x="132.48" y="201.91" width="1.85" height="1.34" fill="#601030" opacity="0.76"/>
<rect x="160.35" y="255.45" width="2.47" height="1.13" fill="#801020" opacity="0.54"/>
<rect x="157.75" y="173.22" width="2.1" height="2.22" fill="#801020" opacity="0.6"/>
<rect x="144.64" y="202.06" width="2.48" height="1.8" fill="#601030" opacity="0.78"/>
<rect x="170.06" y="169.94" width="1.87" height="2.6" fill="#b01860" opacity="0.59"/>
<rect x="133.76" y="196.36" width="1.29" height="2.58" fill="#a01028" opacity="0.63"/>
<rect x="153.46" y="206.48" width="1.88" height="1.44" fill="#a01028" opacity="0.67"/>
<rect x="217.73" y="166.66" width="2.5" height="1.43" fill="#601030" opacity="0.71"/>
<rect x="156.85" y="225.61" width="2.13" height="1.73" fill="#c01830" opacity="0.54"/>
<rect x="216.83" y="180.94" width="2.52" height="1.31" fill="#c01830" opacity="0.46"/>
<rect x="137.02" y="199.46" width="1.88" height="1" fill="#c01830" opacity="0.56"/>
<rect x="133.49" y="176.69" width="1.7" height="1.2" fill="#b01860" opacity="0.54"/>
<rect x="135.57" y="206.87" width="2.26" height="1.39" fill="#b01860" opacity="0.72"/>
<rect x="130.7" y="195.11" width="2.09" height="1.99" fill="#a01028" opacity="0.37"/>
<rect x="168.9" y="171.12" width="1.9" height="1.39" fill="#601030" opacity="0.61"/>
<rect x="148.52" y="210.73" width="1.03" height="1.12" fill="#801020" opacity="0.53"/>
<rect x="172.17" y="172.97" width="1.99" height="1.33" fill="#801020" opacity="0.46"/>
<rect x="166.88" y="189.4" width="1.78" height="1.94" fill="#601030" opacity="0.49"/>
<rect x="144.27" y="201.39" width="1.19" height="1.49" fill="#601030" opacity="0.45"/>
<rect x="142.12" y="205.17" width="1.81" height="1.66" fill="#601030" opacity="0.53"/>
<rect x="162.01" y="245.07" width="1.41" height="2.27" fill="#a01028" opacity="0.67"/>
<rect x="201.25" y="175.48" width="1.33" height="2.06" fill="#801020" opacity="0.44"/>
<rect x="157.91" y="161.07" width="1.5" height="2" fill="#801020" opacity="0.54"/>
<rect x="137.9" y="213.11" width="2" height="1.14" fill="#d02040" opacity="0.68"/>
<rect x="135.01" y="190.08" width="2.41" height="1.73" fill="#601030" opacity="0.52"/>
<rect x="158.15" y="167.84" width="2.56" height="2.26" fill="#b01860" opacity="0.53"/>
<rect x="135.1" y="251.88" width="1.12" height="1.36" fill="#601030" opacity="0.45"/>
<rect x="189.43" y="185.83" width="2.52" height="2.05" fill="#b01860" opacity="0.65"/>
<rect x="159.31" y="207.69" width="1.34" height="1.48" fill="#801020" opacity="0.62"/>
<rect x="159.42" y="205.08" width="1.86" height="2.57" fill="#c01830" opacity="0.5"/>
<rect x="199.68" y="166.17" width="1.63" height="2.34" fill="#601030" opacity="0.51"/>
<rect x="142.49" y="169.92" width="1.42" height="1.98" fill="#801020" opacity="0.45"/>
<rect x="149.55" y="208.4" width="1.48" height="2.53" fill="#801020" opacity="0.69"/>
<rect x="157.32" y="256.63" width="1.1" height="1.93" fill="#801020" opacity="0.72"/>
<rect x="148.49" y="220.92" width="1.63" height="1.94" fill="#601030" opacity="0.67"/>
<rect x="149.61" y="209.76" width="2.19" height="1.93" fill="#d02040" opacity="0.46"/>
<rect x="190.94" y="165.3" width="2.09" height="1.65" fill="#601030" opacity="0.42"/>
<rect x="144.66" y="187.01" width="1.22" height="2.25" fill="#c01830" opacity="0.5"/>
<rect x="158.98" y="246.01" width="1.81" height="1.03" fill="#601030" opacity="0.69"/>
<rect x="147.27" y="227.99" width="1.85" height="1.79" fill="#d02040" opacity="0.43"/>
<rect x="149.79" y="241.94" width="2.27" height="1.79" fill="#601030" opacity="0.57"/>
<rect x="179.49" y="165.67" width="2.08" height="1.16" fill="#801020" opacity="0.37"/>
<rect x="131.7" y="222.47" width="1.85" height="2.59" fill="#801020" opacity="0.61"/>
<rect x="130.1" y="233.69" width="1.56" height="2.21" fill="#d02040" opacity="0.38"/>
<rect x="133.03" y="238.14" width="1.87" height="1.27" fill="#d02040" opacity="0.51"/>
<rect x="159.99" y="171.8" width="1.61" height="1.44" fill="#a01028" opacity="0.51"/>
<rect x="188.94" y="167.15" width="1.82" height="1.86" fill="#b01860" opacity="0.53"/>
<rect x="135.18" y="171.84" width="1.24" height="1.5" fill="#801020" opacity="0.74"/>
<rect x="141.65" y="201.48" width="1.4" height="1.28" fill="#b01860" opacity="0.4"/>
<rect x="200.07" y="172.34" width="2.02" height="1.04" fill="#c01830" opacity="0.44"/>
<rect x="163.2" y="163.14" width="1.78" height="2.11" fill="#c01830" opacity="0.36"/>
<rect x="193.56" y="170.52" width="2.38" height="1.34" fill="#d02040" opacity="0.67"/>
<rect x="138.56" y="218.58" width="1.51" height="2.3" fill="#601030" opacity="0.76"/>
<rect x="152.17" y="176.39" width="2.12" height="1.04" fill="#801020" opacity="0.76"/>
<rect x="155.75" y="217.43" width="1.45" height="1.81" fill="#b01860" opacity="0.51"/>
<rect x="153.17" y="218.38" width="1.36" height="1.99" fill="#b01860" opacity="0.42"/>
<rect x="143.29" y="186.13" width="2.26" height="2.42" fill="#d02040" opacity="0.43"/>
<rect x="172.86" y="185.71" width="2.46" height="2.08" fill="#a01028" opacity="0.43"/>
<rect x="159.62" y="221.76" width="1.97" height="1.56" fill="#d02040" opacity="0.7"/>
<rect x="164.52" y="183.13" width="2.4" height="1.36" fill="#d02040" opacity="0.51"/>
<rect x="134.54" y="190.65" width="1.79" height="2.07" fill="#a01028" opacity="0.73"/>
<rect x="131.13" y="229.85" width="1.1" height="2.35" fill="#601030" opacity="0.59"/>
<rect x="170.6" y="193.3" width="1.04" height="1.52" fill="#b01860" opacity="0.62"/>
<rect x="134.28" y="238.41" width="1.96" height="2.38" fill="#801020" opacity="0.38"/>
<rect x="140.81" y="213.5" width="1.67" height="2.45" fill="#c01830" opacity="0.63"/>
<rect x="135.64" y="236.49" width="1.44" height="2.07" fill="#b01860" opacity="0.66"/>
<rect x="153.66" y="255.1" width="1.09" height="2.25" fill="#d02040" opacity="0.45"/>
<rect x="147.67" y="245.76" width="1.57" height="1.58" fill="#c01830" opacity="0.46"/>
<rect x="145.64" y="184.92" width="1.48" height="1.02" fill="#d02040" opacity="0.51"/>
<rect x="169.23" y="185.36" width="1.95" height="1.43" fill="#801020" opacity="0.4"/>
<rect x="144.73" y="173.16" width="1.75" height="1.82" fill="#c01830" opacity="0.49"/>
<rect x="146.24" y="188.5" width="2.28" height="1.71" fill="#b01860" opacity="0.67"/>
<rect x="145.26" y="165.43" width="1.66" height="1.62" fill="#a01028" opacity="0.58"/>
<rect x="153.54" y="238.73" width="1.71" height="1.92" fill="#801020" opacity="0.8"/>
<rect x="161.42" y="197.05" width="1.46" height="1.47" fill="#a01028" opacity="0.53"/>
<rect x="152.38" y="183.22" width="2.27" height="1.99" fill="#601030" opacity="0.48"/>
<rect x="135.01" y="254.05" width="1.59" height="2.48" fill="#a01028" opacity="0.6"/>
<rect x="132.87" y="250.17" width="2.11" height="2.19" fill="#801020" opacity="0.55"/>
<rect x="171.94" y="171.97" width="1.8" height="1.36" fill="#801020" opacity="0.61"/>
<rect x="149.14" y="247.21" width="2.47" height="2.34" fill="#601030" opacity="0.38"/>
<rect x="181.92" y="166.79" width="1.85" height="1.54" fill="#a01028" opacity="0.54"/>
<rect x="133.15" y="212.7" width="1.5" height="2.38" fill="#b01860" opacity="0.58"/>
<rect x="168.24" y="195.42" width="1.85" height="1.18" fill="#c01830" opacity="0.74"/>
<rect x="140.68" y="230.51" width="2.14" height="2.2" fill="#801020" opacity="0.55"/>
<rect x="164.43" y="167.87" width="1.95" height="1.87" fill="#801020" opacity="0.38"/>
<rect x="136.51" y="190.02" width="1.28" height="1.74" fill="#601030" opacity="0.76"/>
<rect x="210.63" y="162.02" width="1.8" height="2.5" fill="#601030" opacity="0.64"/>
<rect x="167.54" y="255.95" width="2.58" height="2.47" fill="#d02040" opacity="0.63"/>
<rect x="135.09" y="246.9" width="1.35" height="2.05" fill="#c01830" opacity="0.45"/>
<rect x="130.69" y="163.2" width="1.39" height="1.5" fill="#c01830" opacity="0.43"/>
<rect x="132.67" y="239.42" width="1.84" height="2.56" fill="#b01860" opacity="0.43"/>
<rect x="152.21" y="161.5" width="2.3" height="2.16" fill="#a01028" opacity="0.69"/>
<rect x="145.45" y="218.56" width="1.55" height="2.16" fill="#c01830" opacity="0.67"/>
<rect x="151.27" y="227.49" width="2.01" height="2.18" fill="#a01028" opacity="0.75"/>
<rect x="143.35" y="248.19" width="2.53" height="1.51" fill="#601030" opacity="0.47"/>
<rect x="137.47" y="185.34" width="1.3" height="2.02" fill="#601030" opacity="0.63"/>
<rect x="194.1" y="193.29" width="1.07" height="1.9" fill="#601030" opacity="0.52"/>
<rect x="180.7" y="186.02" width="1.4" height="2.14" fill="#601030" opacity="0.43"/>
<rect x="144.89" y="247.7" width="2.05" height="1.06" fill="#801020" opacity="0.62"/>
<rect x="143.19" y="190.15" width="2.47" height="2.08" fill="#d02040" opacity="0.38"/>
<rect x="169.51" y="167.86" width="2.11" height="1.61" fill="#a01028" opacity="0.77"/>
<rect x="144.1" y="181.78" width="2.12" height="2.57" fill="#601030" opacity="0.65"/>
<rect x="136.55" y="238.96" width="2.11" height="2.5" fill="#601030" opacity="0.49"/>
<rect x="151.49" y="239.04" width="1.09" height="1.79" fill="#c01830" opacity="0.52"/>
<rect x="147.37" y="219.33" width="1.41" height="1.19" fill="#b01860" opacity="0.51"/>
<rect x="163.51" y="241.83" width="1.59" height="1.53" fill="#b01860" opacity="0.42"/>
<rect x="165.64" y="198.04" width="2.03" height="1.97" fill="#b01860" opacity="0.44"/>
<rect x="208.35" y="174.35" width="1.8" height="2.23" fill="#c01830" opacity="0.6"/>
<rect x="151.81" y="253.07" width="1.72" height="1.78" fill="#a01028" opacity="0.37"/>
<rect x="136.56" y="227.82" width="2.38" height="1.05" fill="#b01860" opacity="0.44"/>
<rect x="154.36" y="172.01" width="1.36" height="1.7" fill="#801020" opacity="0.52"/>
<rect x="211.07" y="167.17" width="2.22" height="2.16" fill="#a01028" opacity="0.37"/>
<rect x="152.27" y="164.92" width="1.24" height="1.26" fill="#c01830" opacity="0.37"/>
<rect x="139.66" y="172.28" width="1.39" height="2.04" fill="#c01830" opacity="0.42"/>
<rect x="133.38" y="182.29" width="1.07" height="2.35" fill="#601030" opacity="0.62"/>
<rect x="149.15" y="236.07" width="1.95" height="1.37" fill="#c01830" opacity="0.43"/>
<rect x="166.09" y="176.03" width="1.18" height="1.32" fill="#801020" opacity="0.64"/>
<rect x="172.22" y="189.44" width="1.11" height="2.32" fill="#a01028" opacity="0.71"/>
<rect x="191.88" y="200.05" width="1.24" height="1.91" fill="#801020" opacity="0.58"/>
<rect x="138.31" y="177.3" width="1.01" height="1.49" fill="#801020" opacity="0.79"/>
<rect x="141.69" y="161.96" width="1.31" height="1.54" fill="#c01830" opacity="0.35"/>
<rect x="162.53" y="178.26" width="2.36" height="1.46" fill="#b01860" opacity="0.48"/>
<rect x="148.74" y="164.15" width="1.21" height="1.61" fill="#601030" opacity="0.67"/>
<rect x="163.24" y="222.39" width="2.48" height="1.17" fill="#d02040" opacity="0.64"/>
<rect x="153.03" y="248.39" width="1.46" height="1.47" fill="#d02040" opacity="0.69"/>
<rect x="158.22" y="214.01" width="2.12" height="2.48" fill="#c01830" opacity="0.43"/>
<rect x="151.02" y="251.37" width="2.38" height="1.55" fill="#801020" opacity="0.46"/>
<rect x="138.3" y="210.89" width="2.57" height="2.18" fill="#b01860" opacity="0.74"/>
<rect x="147.5" y="177.1" width="1.94" height="2.08" fill="#d02040" opacity="0.61"/>
<rect x="143.4" y="218.36" width="2.42" height="1.44" fill="#b01860" opacity="0.46"/>
<rect x="212.04" y="188.4" width="2.05" height="2.54" fill="#801020" opacity="0.41"/>
<rect x="184.05" y="194.71" width="1.79" height="1.14" fill="#801020" opacity="0.7"/>
<rect x="154.92" y="160.16" width="1.1" height="2.01" fill="#601030" opacity="0.48"/>
<rect x="145.97" y="217.42" width="2.53" height="1.62" fill="#d02040" opacity="0.47"/>
<rect x="162.27" y="168.99" width="2.37" height="2.58" fill="#601030" opacity="0.47"/>
<rect x="146.83" y="204.27" width="1.81" height="1.97" fill="#d02040" opacity="0.59"/>
</g>
<rect x="138.5" y="176" width="1.3" height="1.3" fill="#70e0a0" opacity="0.9"/>
<rect x="151" y="193" width="1.3" height="1.3" fill="#70e0a0" opacity="0.9"/>
<rect x="150.5" y="194.5" width="1.3" height="1.3" fill="#70e0a0" opacity="0.9"/>
<rect x="176.5" y="233.5" width="1.3" height="1.3" fill="#70e0a0" opacity="0.9"/>
<rect x="187" y="240.5" width="1.3" height="1.3" fill="#70e0a0" opacity="0.9"/>
<rect x="209" y="203.5" width="1.3" height="1.3" fill="#70e0a0" opacity="0.9"/>
<rect x="181" y="180" width="1.3" height="1.3" fill="#70e0a0" opacity="0.9"/>
<rect x="165" y="236" width="1.3" height="1.3" fill="#70e0a0" opacity="0.9"/>
<rect x="157" y="199" width="1.3" height="1.3" fill="#70e0a0" opacity="0.9"/>
<path d="M222 158 L232 158 L232 262 L203 262 Q221 238 222 198 Z" fill="#000"/>
</g>
<text x="248" y="154.5" font-size="12" text-anchor="start" font-weight="bold" fill="#111" >D</text>
<line x1="281.2" y1="168" x2="281.2" y2="260.5" stroke="#111" stroke-width="1.2" />
<line x1="278" y1="260" x2="281.2" y2="260" stroke="#111" stroke-width="1" />
<text x="276.8" y="263.1" font-size="8.6" text-anchor="end" fill="#222" >0</text>
<line x1="278" y1="242" x2="281.2" y2="242" stroke="#111" stroke-width="1" />
<text x="276.8" y="245.1" font-size="8.6" text-anchor="end" fill="#222" >20</text>
<line x1="278" y1="224" x2="281.2" y2="224" stroke="#111" stroke-width="1" />
<text x="276.8" y="227.1" font-size="8.6" text-anchor="end" fill="#222" >40</text>
<line x1="278" y1="206" x2="281.2" y2="206" stroke="#111" stroke-width="1" />
<text x="276.8" y="209.1" font-size="8.6" text-anchor="end" fill="#222" >60</text>
<line x1="278" y1="188" x2="281.2" y2="188" stroke="#111" stroke-width="1" />
<text x="276.8" y="191.1" font-size="8.6" text-anchor="end" fill="#222" >80</text>
<line x1="278" y1="170" x2="281.2" y2="170" stroke="#111" stroke-width="1" />
<text x="276.8" y="173.1" font-size="8.6" text-anchor="end" fill="#222" >100</text>
<line x1="281.2" y1="260" x2="282.8" y2="260" stroke="#333" stroke-width="0.5" />
<line x1="281.2" y1="257" x2="282.8" y2="257" stroke="#333" stroke-width="0.5" />
<line x1="281.2" y1="254" x2="282.8" y2="254" stroke="#333" stroke-width="0.5" />
<line x1="281.2" y1="251" x2="282.8" y2="251" stroke="#333" stroke-width="0.5" />
<line x1="281.2" y1="248" x2="282.8" y2="248" stroke="#333" stroke-width="0.5" />
<line x1="281.2" y1="245" x2="282.8" y2="245" stroke="#333" stroke-width="0.5" />
<line x1="281.2" y1="242" x2="282.8" y2="242" stroke="#333" stroke-width="0.5" />
<line x1="281.2" y1="239" x2="282.8" y2="239" stroke="#333" stroke-width="0.5" />
<line x1="281.2" y1="236" x2="282.8" y2="236" stroke="#333" stroke-width="0.5" />
<line x1="281.2" y1="233" x2="282.8" y2="233" stroke="#333" stroke-width="0.5" />
<line x1="281.2" y1="230" x2="282.8" y2="230" stroke="#333" stroke-width="0.5" />
<line x1="281.2" y1="227" x2="282.8" y2="227" stroke="#333" stroke-width="0.5" />
<line x1="281.2" y1="224" x2="282.8" y2="224" stroke="#333" stroke-width="0.5" />
<line x1="281.2" y1="221" x2="282.8" y2="221" stroke="#333" stroke-width="0.5" />
<line x1="281.2" y1="218" x2="282.8" y2="218" stroke="#333" stroke-width="0.5" />
<line x1="281.2" y1="215" x2="282.8" y2="215" stroke="#333" stroke-width="0.5" />
<line x1="281.2" y1="212" x2="282.8" y2="212" stroke="#333" stroke-width="0.5" />
<line x1="281.2" y1="209" x2="282.8" y2="209" stroke="#333" stroke-width="0.5" />
<line x1="281.2" y1="206" x2="282.8" y2="206" stroke="#333" stroke-width="0.5" />
<line x1="281.2" y1="203" x2="282.8" y2="203" stroke="#333" stroke-width="0.5" />
<line x1="281.2" y1="200" x2="282.8" y2="200" stroke="#333" stroke-width="0.5" />
<line x1="281.2" y1="197" x2="282.8" y2="197" stroke="#333" stroke-width="0.5" />
<line x1="281.2" y1="194" x2="282.8" y2="194" stroke="#333" stroke-width="0.5" />
<line x1="281.2" y1="191" x2="282.8" y2="191" stroke="#333" stroke-width="0.5" />
<line x1="281.2" y1="188" x2="282.8" y2="188" stroke="#333" stroke-width="0.5" />
<line x1="281.2" y1="185" x2="282.8" y2="185" stroke="#333" stroke-width="0.5" />
<line x1="281.2" y1="182" x2="282.8" y2="182" stroke="#333" stroke-width="0.5" />
<line x1="281.2" y1="179" x2="282.8" y2="179" stroke="#333" stroke-width="0.5" />
<line x1="281.2" y1="176" x2="282.8" y2="176" stroke="#333" stroke-width="0.5" />
<line x1="281.2" y1="173" x2="282.8" y2="173" stroke="#333" stroke-width="0.5" />
<line x1="281" y1="260" x2="452" y2="260" stroke="#111" stroke-width="1.2" />
<line x1="290" y1="260" x2="290" y2="262" stroke="#333" stroke-width="0.6" />
<line x1="297" y1="260" x2="297" y2="262" stroke="#333" stroke-width="0.6" />
<line x1="303" y1="260" x2="303" y2="262" stroke="#333" stroke-width="0.6" />
<line x1="306" y1="260" x2="306" y2="262" stroke="#333" stroke-width="0.6" />
<line x1="309" y1="260" x2="309" y2="262" stroke="#333" stroke-width="0.6" />
<line x1="312" y1="260" x2="312" y2="262" stroke="#333" stroke-width="0.6" />
<line x1="314" y1="260" x2="314" y2="262" stroke="#333" stroke-width="0.6" />
<line x1="316.3" y1="260" x2="316.3" y2="262" stroke="#333" stroke-width="0.6" />
<line x1="335" y1="260" x2="335" y2="262" stroke="#333" stroke-width="0.6" />
<line x1="345" y1="260" x2="345" y2="262" stroke="#333" stroke-width="0.6" />
<line x1="350" y1="260" x2="350" y2="262" stroke="#333" stroke-width="0.6" />
<line x1="353" y1="260" x2="353" y2="262" stroke="#333" stroke-width="0.6" />
<line x1="355" y1="260" x2="355" y2="262" stroke="#333" stroke-width="0.6" />
<line x1="357" y1="260" x2="357" y2="262" stroke="#333" stroke-width="0.6" />
<line x1="358.7" y1="260" x2="358.7" y2="262" stroke="#333" stroke-width="0.6" />
<line x1="378" y1="260" x2="378" y2="262" stroke="#333" stroke-width="0.6" />
<line x1="388" y1="260" x2="388" y2="262" stroke="#333" stroke-width="0.6" />
<line x1="393" y1="260" x2="393" y2="262" stroke="#333" stroke-width="0.6" />
<line x1="396.6" y1="260" x2="396.6" y2="262" stroke="#333" stroke-width="0.6" />
<line x1="416" y1="260" x2="416" y2="262" stroke="#333" stroke-width="0.6" />
<line x1="426" y1="260" x2="426" y2="262" stroke="#333" stroke-width="0.6" />
<line x1="431" y1="260" x2="431" y2="262" stroke="#333" stroke-width="0.6" />
<line x1="433.5" y1="260" x2="433.5" y2="262" stroke="#333" stroke-width="0.6" />
<line x1="450" y1="260" x2="450" y2="262" stroke="#333" stroke-width="0.6" />
<line x1="280.5" y1="278" x2="453" y2="278" stroke="#111" stroke-width="1.2" />
<text x="303" y="275.5" font-size="8.4" text-anchor="middle" fill="#222" >0</text>
<text x="314.5" y="275.5" font-size="8.4" text-anchor="middle" fill="#222" >10<tspan font-size="5.6" dy="-3.4">2</tspan></text>
<text x="356.8" y="275.5" font-size="8.4" text-anchor="middle" fill="#222" >10<tspan font-size="5.6" dy="-3.4">3</tspan></text>
<text x="395.2" y="275.5" font-size="8.4" text-anchor="middle" fill="#222" >10<tspan font-size="5.6" dy="-3.4">4</tspan></text>
<text x="432" y="275.5" font-size="8.4" text-anchor="middle" fill="#222" >10<tspan font-size="5.6" dy="-3.4">5</tspan></text>
<text x="366.5" y="289.2" font-size="9" text-anchor="middle" fill="#222" textLength="46" lengthAdjust="spacingAndGlyphs" >Granzyme B</text>
<text x="252.7" y="212" font-size="9.8" text-anchor="middle" fill="#222" textLength="37" lengthAdjust="spacingAndGlyphs" transform="rotate(-90 252.7 212)" dy="3.5">% of max</text>
<path d="M294.5 259 L297 258 L300.1 256.5 L302.5 253.5 L304.9 248 L307.3 238 L309.7 222 L312 207 L313.6 197 L314.4 190 L315.5 180 L316 176 L316.8 180 L318 176 L318.7 172 L319.5 171.5 L320.8 171.8 L320.4 177 L321.7 180 L322.8 183 L324.4 193 L326 210 L327.5 230 L329.1 248 L330.8 256 L334.8 259.3 L336 260 L294 260 Z" fill="#dde8c4" stroke="none" stroke-width="1" />
<path d="M294.5 259 L297 258 L300.1 256.5 L302.5 253.5 L304.9 248 L307.3 238 L309.7 222 L312 207 L313.6 197 L314.4 190 L315.5 180 L316 176 L316.8 180 L318 176 L318.7 172 L319.5 171.5 L320.8 171.8 L320.4 177 L321.7 180 L322.8 183 L324.4 193 L326 210 L327.5 230 L329.1 248 L330.8 256 L334.8 259.3" fill="none" stroke="#58a848" stroke-width="1" />
<path d="M294.5 259 L297 258 L300.1 256.5 L302.5 253.5 L304.9 248 L307.3 238 L309.7 222 L312 207 L313.6 197 L314.4 190 L315.5 180 L316 176 L316.8 180 L318 176 L318.7 172 L319.5 171.5 L320.8 171.8 L321.6 177 L322.9 180 L324 183 L325.6 193 L327.2 210 L328.7 230 L330.3 248 L332 256 L336 259.3" fill="none" stroke="#2a5a6a" stroke-width="1.1" />
<path d="M300 259.6 L305.7 259 L312 256 L315.2 248 L317.6 235 L319.2 225 L320.8 221 L322.9 215 L324.5 203 L326 188 L327.2 175 L328.3 171.8 L329.5 172 L330.3 182 L331.1 190 L332.4 193 L333.5 196 L334.6 210 L335.9 225 L337.5 238 L339.9 248 L343 255 L348.6 258.5 L355 259.3 L380 259.5 L452 259.5" fill="none" stroke="#b41e46" stroke-width="1.1" />
<text x="8.5" y="318.5" font-size="12" text-anchor="start" font-weight="bold" fill="#111" >E</text>
<line x1="36.5" y1="338.5" x2="36.5" y2="424.4" stroke="#111" stroke-width="1.1" />
<line x1="36" y1="424.4" x2="90.5" y2="424.4" stroke="#111" stroke-width="1.1" />
<line x1="33.5" y1="424.4" x2="36.5" y2="424.4" stroke="#111" stroke-width="0.9" />
<text x="31.5" y="427.5" font-size="8.6" text-anchor="end" fill="#222" >0.0</text>
<line x1="33.5" y1="403.5" x2="36.5" y2="403.5" stroke="#111" stroke-width="0.9" />
<text x="31.5" y="406.6" font-size="8.6" text-anchor="end" fill="#222" >0.5</text>
<line x1="33.5" y1="382.6" x2="36.5" y2="382.6" stroke="#111" stroke-width="0.9" />
<text x="31.5" y="385.7" font-size="8.6" text-anchor="end" fill="#222" >1.0</text>
<line x1="33.5" y1="361.7" x2="36.5" y2="361.7" stroke="#111" stroke-width="0.9" />
<text x="31.5" y="364.8" font-size="8.6" text-anchor="end" fill="#222" >1.5</text>
<line x1="33.5" y1="340.8" x2="36.5" y2="340.8" stroke="#111" stroke-width="0.9" />
<text x="31.5" y="343.9" font-size="8.6" text-anchor="end" fill="#222" >2.0</text>
<rect x="44.2" y="383.6" width="13.2" height="40.8" fill="#34548c" />
<rect x="71.2" y="356.6" width="13.4" height="67.8" fill="#b40a32" />
<line x1="50.8" y1="382.3" x2="50.8" y2="384" stroke="#111" stroke-width="0.9" />
<line x1="49" y1="382.3" x2="52.6" y2="382.3" stroke="#111" stroke-width="0.9" />
<line x1="77.9" y1="354.6" x2="77.9" y2="357" stroke="#111" stroke-width="0.9" />
<line x1="75.8" y1="354.6" x2="80" y2="354.6" stroke="#111" stroke-width="0.9" />
<text x="77.9" y="352.5" font-size="8.5" text-anchor="middle" font-weight="bold" fill="#222" >*</text>
<line x1="50.8" y1="424.4" x2="50.8" y2="426.9" stroke="#111" stroke-width="0.9" />
<line x1="77.9" y1="424.4" x2="77.9" y2="426.9" stroke="#111" stroke-width="0.9" />
<text x="50.4" y="439.3" font-size="9" text-anchor="middle" fill="#222" textLength="15" lengthAdjust="spacingAndGlyphs" >Syn</text>
<text x="77.9" y="439.3" font-size="9" text-anchor="middle" fill="#222" textLength="14.5" lengthAdjust="spacingAndGlyphs" >Allo</text>
<text x="11.8" y="381" font-size="9.2" text-anchor="middle" fill="#222" textLength="48" lengthAdjust="spacingAndGlyphs" transform="rotate(-90 11.8 381)" dy="3.3">Relative MFI</text>
<text x="104.3" y="318.5" font-size="12" text-anchor="start" font-weight="bold" fill="#111" >F</text>
<line x1="117.7" y1="339" x2="117.7" y2="425" stroke="#222" stroke-width="1.3" />
<line x1="117.7" y1="340" x2="119.3" y2="340" stroke="#444" stroke-width="0.5" />
<line x1="117.7" y1="342.1" x2="119.3" y2="342.1" stroke="#444" stroke-width="0.5" />
<line x1="117.7" y1="344.2" x2="119.3" y2="344.2" stroke="#444" stroke-width="0.5" />
<line x1="117.7" y1="346.3" x2="119.3" y2="346.3" stroke="#444" stroke-width="0.5" />
<line x1="117.7" y1="348.4" x2="119.3" y2="348.4" stroke="#444" stroke-width="0.5" />
<line x1="117.7" y1="350.5" x2="119.3" y2="350.5" stroke="#444" stroke-width="0.5" />
<line x1="117.7" y1="352.6" x2="119.3" y2="352.6" stroke="#444" stroke-width="0.5" />
<line x1="117.7" y1="354.7" x2="119.3" y2="354.7" stroke="#444" stroke-width="0.5" />
<line x1="117.7" y1="356.8" x2="119.3" y2="356.8" stroke="#444" stroke-width="0.5" />
<line x1="117.7" y1="358.9" x2="119.3" y2="358.9" stroke="#444" stroke-width="0.5" />
<line x1="117.7" y1="361" x2="119.3" y2="361" stroke="#444" stroke-width="0.5" />
<line x1="117.7" y1="363.1" x2="119.3" y2="363.1" stroke="#444" stroke-width="0.5" />
<line x1="117.7" y1="365.2" x2="119.3" y2="365.2" stroke="#444" stroke-width="0.5" />
<line x1="117.7" y1="367.3" x2="119.3" y2="367.3" stroke="#444" stroke-width="0.5" />
<line x1="117.7" y1="369.4" x2="119.3" y2="369.4" stroke="#444" stroke-width="0.5" />
<line x1="117.7" y1="371.5" x2="119.3" y2="371.5" stroke="#444" stroke-width="0.5" />
<line x1="117.7" y1="373.6" x2="119.3" y2="373.6" stroke="#444" stroke-width="0.5" />
<line x1="117.7" y1="375.7" x2="119.3" y2="375.7" stroke="#444" stroke-width="0.5" />
<line x1="117.7" y1="377.8" x2="119.3" y2="377.8" stroke="#444" stroke-width="0.5" />
<line x1="117.7" y1="379.9" x2="119.3" y2="379.9" stroke="#444" stroke-width="0.5" />
<line x1="117.7" y1="382" x2="119.3" y2="382" stroke="#444" stroke-width="0.5" />
<line x1="117.7" y1="384.1" x2="119.3" y2="384.1" stroke="#444" stroke-width="0.5" />
<line x1="117.7" y1="386.2" x2="119.3" y2="386.2" stroke="#444" stroke-width="0.5" />
<line x1="117.7" y1="388.3" x2="119.3" y2="388.3" stroke="#444" stroke-width="0.5" />
<line x1="117.7" y1="390.4" x2="119.3" y2="390.4" stroke="#444" stroke-width="0.5" />
<line x1="117.7" y1="392.5" x2="119.3" y2="392.5" stroke="#444" stroke-width="0.5" />
<line x1="117.7" y1="394.6" x2="119.3" y2="394.6" stroke="#444" stroke-width="0.5" />
<line x1="117.7" y1="396.7" x2="119.3" y2="396.7" stroke="#444" stroke-width="0.5" />
<line x1="117.7" y1="398.8" x2="119.3" y2="398.8" stroke="#444" stroke-width="0.5" />
<line x1="117.7" y1="400.9" x2="119.3" y2="400.9" stroke="#444" stroke-width="0.5" />
<line x1="117.7" y1="403" x2="119.3" y2="403" stroke="#444" stroke-width="0.5" />
<line x1="117.7" y1="405.1" x2="119.3" y2="405.1" stroke="#444" stroke-width="0.5" />
<line x1="117.7" y1="407.2" x2="119.3" y2="407.2" stroke="#444" stroke-width="0.5" />
<line x1="117.7" y1="409.3" x2="119.3" y2="409.3" stroke="#444" stroke-width="0.5" />
<line x1="117.7" y1="411.4" x2="119.3" y2="411.4" stroke="#444" stroke-width="0.5" />
<line x1="117.7" y1="413.5" x2="119.3" y2="413.5" stroke="#444" stroke-width="0.5" />
<line x1="117.7" y1="415.6" x2="119.3" y2="415.6" stroke="#444" stroke-width="0.5" />
<line x1="117.7" y1="417.7" x2="119.3" y2="417.7" stroke="#444" stroke-width="0.5" />
<line x1="117.7" y1="419.8" x2="119.3" y2="419.8" stroke="#444" stroke-width="0.5" />
<line x1="117.7" y1="421.9" x2="119.3" y2="421.9" stroke="#444" stroke-width="0.5" />
<line x1="119.5" y1="429.6" x2="391" y2="429.6" stroke="#222" stroke-width="1.3" />
<text x="109.5" y="382.7" font-size="9.5" text-anchor="middle" fill="#222" transform="rotate(-90 109.5 382.7)" dy="3.4">PI</text>
<text x="254.8" y="441.6" font-size="9.2" text-anchor="middle" fill="#222" textLength="42" lengthAdjust="spacingAndGlyphs" >Annexin V</text>
<text x="164.4" y="332.6" font-size="10.2" text-anchor="middle" fill="#222" textLength="30" lengthAdjust="spacingAndGlyphs" >Control</text>
<rect x="123" y="338.3" width="82.2" height="86.5" fill="none" stroke="#222" stroke-width="0.9" />
<line x1="174.4" y1="338.3" x2="174.4" y2="424.8" stroke="#222" stroke-width="0.9" />
<line x1="123" y1="378.8" x2="205.2" y2="378.8" stroke="#222" stroke-width="0.9" />
<line x1="124" y1="424.8" x2="124" y2="423.3" stroke="#444" stroke-width="0.5" />
<line x1="126.2" y1="424.8" x2="126.2" y2="423.3" stroke="#444" stroke-width="0.5" />
<line x1="128.4" y1="424.8" x2="128.4" y2="423.3" stroke="#444" stroke-width="0.5" />
<line x1="130.6" y1="424.8" x2="130.6" y2="423.3" stroke="#444" stroke-width="0.5" />
<line x1="132.8" y1="424.8" x2="132.8" y2="423.3" stroke="#444" stroke-width="0.5" />
<line x1="135" y1="424.8" x2="135" y2="423.3" stroke="#444" stroke-width="0.5" />
<line x1="137.2" y1="424.8" x2="137.2" y2="423.3" stroke="#444" stroke-width="0.5" />
<line x1="139.4" y1="424.8" x2="139.4" y2="423.3" stroke="#444" stroke-width="0.5" />
<line x1="141.6" y1="424.8" x2="141.6" y2="423.3" stroke="#444" stroke-width="0.5" />
<line x1="143.8" y1="424.8" x2="143.8" y2="423.3" stroke="#444" stroke-width="0.5" />
<line x1="146" y1="424.8" x2="146" y2="423.3" stroke="#444" stroke-width="0.5" />
<line x1="148.2" y1="424.8" x2="148.2" y2="423.3" stroke="#444" stroke-width="0.5" />
<line x1="150.4" y1="424.8" x2="150.4" y2="423.3" stroke="#444" stroke-width="0.5" />
<line x1="152.6" y1="424.8" x2="152.6" y2="423.3" stroke="#444" stroke-width="0.5" />
<line x1="154.8" y1="424.8" x2="154.8" y2="423.3" stroke="#444" stroke-width="0.5" />
<line x1="157" y1="424.8" x2="157" y2="423.3" stroke="#444" stroke-width="0.5" />
<line x1="159.2" y1="424.8" x2="159.2" y2="423.3" stroke="#444" stroke-width="0.5" />
<line x1="161.4" y1="424.8" x2="161.4" y2="423.3" stroke="#444" stroke-width="0.5" />
<line x1="163.6" y1="424.8" x2="163.6" y2="423.3" stroke="#444" stroke-width="0.5" />
<line x1="165.8" y1="424.8" x2="165.8" y2="423.3" stroke="#444" stroke-width="0.5" />
<line x1="168" y1="424.8" x2="168" y2="423.3" stroke="#444" stroke-width="0.5" />
<line x1="170.2" y1="424.8" x2="170.2" y2="423.3" stroke="#444" stroke-width="0.5" />
<line x1="172.4" y1="424.8" x2="172.4" y2="423.3" stroke="#444" stroke-width="0.5" />
<line x1="174.6" y1="424.8" x2="174.6" y2="423.3" stroke="#444" stroke-width="0.5" />
<line x1="176.8" y1="424.8" x2="176.8" y2="423.3" stroke="#444" stroke-width="0.5" />
<line x1="179" y1="424.8" x2="179" y2="423.3" stroke="#444" stroke-width="0.5" />
<line x1="181.2" y1="424.8" x2="181.2" y2="423.3" stroke="#444" stroke-width="0.5" />
<line x1="183.4" y1="424.8" x2="183.4" y2="423.3" stroke="#444" stroke-width="0.5" />
<line x1="185.6" y1="424.8" x2="185.6" y2="423.3" stroke="#444" stroke-width="0.5" />
<line x1="187.8" y1="424.8" x2="187.8" y2="423.3" stroke="#444" stroke-width="0.5" />
<line x1="190" y1="424.8" x2="190" y2="423.3" stroke="#444" stroke-width="0.5" />
<line x1="192.2" y1="424.8" x2="192.2" y2="423.3" stroke="#444" stroke-width="0.5" />
<line x1="194.4" y1="424.8" x2="194.4" y2="423.3" stroke="#444" stroke-width="0.5" />
<line x1="196.6" y1="424.8" x2="196.6" y2="423.3" stroke="#444" stroke-width="0.5" />
<line x1="198.8" y1="424.8" x2="198.8" y2="423.3" stroke="#444" stroke-width="0.5" />
<line x1="201" y1="424.8" x2="201" y2="423.3" stroke="#444" stroke-width="0.5" />
<line x1="203.2" y1="424.8" x2="203.2" y2="423.3" stroke="#444" stroke-width="0.5" />
<line x1="148.7" y1="347" x2="148.7" y2="372" stroke="#444" stroke-width="0.8" />
<line x1="131.2" y1="360.2" x2="166.2" y2="360.2" stroke="#444" stroke-width="0.8" />
<text x="147.9" y="357" font-size="8.2" text-anchor="end" fill="#222" >0.65</text>
<text x="149.5" y="357" font-size="8.2" text-anchor="start" fill="#222" >7.63</text>
<text x="147.9" y="368.4" font-size="8.2" text-anchor="end" fill="#222" >88.7</text>
<text x="149.5" y="368.4" font-size="8.2" text-anchor="start" fill="#222" >2.98</text>
<text x="256.4" y="332.6" font-size="10.2" text-anchor="middle" fill="#222" textLength="76.3" lengthAdjust="spacingAndGlyphs" >Syngeneic T cells</text>
<rect x="215.2" y="338.3" width="82.5" height="86.5" fill="none" stroke="#222" stroke-width="0.9" />
<line x1="266.3" y1="338.3" x2="266.3" y2="424.8" stroke="#222" stroke-width="0.9" />
<line x1="215.2" y1="379.2" x2="297.7" y2="379.2" stroke="#222" stroke-width="0.9" />
<line x1="216.2" y1="424.8" x2="216.2" y2="423.3" stroke="#444" stroke-width="0.5" />
<line x1="218.4" y1="424.8" x2="218.4" y2="423.3" stroke="#444" stroke-width="0.5" />
<line x1="220.6" y1="424.8" x2="220.6" y2="423.3" stroke="#444" stroke-width="0.5" />
<line x1="222.8" y1="424.8" x2="222.8" y2="423.3" stroke="#444" stroke-width="0.5" />
<line x1="225" y1="424.8" x2="225" y2="423.3" stroke="#444" stroke-width="0.5" />
<line x1="227.2" y1="424.8" x2="227.2" y2="423.3" stroke="#444" stroke-width="0.5" />
<line x1="229.4" y1="424.8" x2="229.4" y2="423.3" stroke="#444" stroke-width="0.5" />
<line x1="231.6" y1="424.8" x2="231.6" y2="423.3" stroke="#444" stroke-width="0.5" />
<line x1="233.8" y1="424.8" x2="233.8" y2="423.3" stroke="#444" stroke-width="0.5" />
<line x1="236" y1="424.8" x2="236" y2="423.3" stroke="#444" stroke-width="0.5" />
<line x1="238.2" y1="424.8" x2="238.2" y2="423.3" stroke="#444" stroke-width="0.5" />
<line x1="240.4" y1="424.8" x2="240.4" y2="423.3" stroke="#444" stroke-width="0.5" />
<line x1="242.6" y1="424.8" x2="242.6" y2="423.3" stroke="#444" stroke-width="0.5" />
<line x1="244.8" y1="424.8" x2="244.8" y2="423.3" stroke="#444" stroke-width="0.5" />
<line x1="247" y1="424.8" x2="247" y2="423.3" stroke="#444" stroke-width="0.5" />
<line x1="249.2" y1="424.8" x2="249.2" y2="423.3" stroke="#444" stroke-width="0.5" />
<line x1="251.4" y1="424.8" x2="251.4" y2="423.3" stroke="#444" stroke-width="0.5" />
<line x1="253.6" y1="424.8" x2="253.6" y2="423.3" stroke="#444" stroke-width="0.5" />
<line x1="255.8" y1="424.8" x2="255.8" y2="423.3" stroke="#444" stroke-width="0.5" />
<line x1="258" y1="424.8" x2="258" y2="423.3" stroke="#444" stroke-width="0.5" />
<line x1="260.2" y1="424.8" x2="260.2" y2="423.3" stroke="#444" stroke-width="0.5" />
<line x1="262.4" y1="424.8" x2="262.4" y2="423.3" stroke="#444" stroke-width="0.5" />
<line x1="264.6" y1="424.8" x2="264.6" y2="423.3" stroke="#444" stroke-width="0.5" />
<line x1="266.8" y1="424.8" x2="266.8" y2="423.3" stroke="#444" stroke-width="0.5" />
<line x1="269" y1="424.8" x2="269" y2="423.3" stroke="#444" stroke-width="0.5" />
<line x1="271.2" y1="424.8" x2="271.2" y2="423.3" stroke="#444" stroke-width="0.5" />
<line x1="273.4" y1="424.8" x2="273.4" y2="423.3" stroke="#444" stroke-width="0.5" />
<line x1="275.6" y1="424.8" x2="275.6" y2="423.3" stroke="#444" stroke-width="0.5" />
<line x1="277.8" y1="424.8" x2="277.8" y2="423.3" stroke="#444" stroke-width="0.5" />
<line x1="280" y1="424.8" x2="280" y2="423.3" stroke="#444" stroke-width="0.5" />
<line x1="282.2" y1="424.8" x2="282.2" y2="423.3" stroke="#444" stroke-width="0.5" />
<line x1="284.4" y1="424.8" x2="284.4" y2="423.3" stroke="#444" stroke-width="0.5" />
<line x1="286.6" y1="424.8" x2="286.6" y2="423.3" stroke="#444" stroke-width="0.5" />
<line x1="288.8" y1="424.8" x2="288.8" y2="423.3" stroke="#444" stroke-width="0.5" />
<line x1="291" y1="424.8" x2="291" y2="423.3" stroke="#444" stroke-width="0.5" />
<line x1="293.2" y1="424.8" x2="293.2" y2="423.3" stroke="#444" stroke-width="0.5" />
<line x1="295.4" y1="424.8" x2="295.4" y2="423.3" stroke="#444" stroke-width="0.5" />
<line x1="240.4" y1="347" x2="240.4" y2="372" stroke="#444" stroke-width="0.8" />
<line x1="222.9" y1="360.2" x2="257.9" y2="360.2" stroke="#444" stroke-width="0.8" />
<text x="239.6" y="357" font-size="8.2" text-anchor="end" fill="#222" >0.46</text>
<text x="241.2" y="357" font-size="8.2" text-anchor="start" fill="#222" >9.13</text>
<text x="239.6" y="368.4" font-size="8.2" text-anchor="end" fill="#222" >87.7</text>
<text x="241.2" y="368.4" font-size="8.2" text-anchor="start" fill="#222" >2.74</text>
<line x1="214.6" y1="340" x2="216.2" y2="340" stroke="#444" stroke-width="0.5" />
<line x1="214.6" y1="342.1" x2="216.2" y2="342.1" stroke="#444" stroke-width="0.5" />
<line x1="214.6" y1="344.2" x2="216.2" y2="344.2" stroke="#444" stroke-width="0.5" />
<line x1="214.6" y1="346.3" x2="216.2" y2="346.3" stroke="#444" stroke-width="0.5" />
<line x1="214.6" y1="348.4" x2="216.2" y2="348.4" stroke="#444" stroke-width="0.5" />
<line x1="214.6" y1="350.5" x2="216.2" y2="350.5" stroke="#444" stroke-width="0.5" />
<line x1="214.6" y1="352.6" x2="216.2" y2="352.6" stroke="#444" stroke-width="0.5" />
<line x1="214.6" y1="354.7" x2="216.2" y2="354.7" stroke="#444" stroke-width="0.5" />
<line x1="214.6" y1="356.8" x2="216.2" y2="356.8" stroke="#444" stroke-width="0.5" />
<line x1="214.6" y1="358.9" x2="216.2" y2="358.9" stroke="#444" stroke-width="0.5" />
<line x1="214.6" y1="361" x2="216.2" y2="361" stroke="#444" stroke-width="0.5" />
<line x1="214.6" y1="363.1" x2="216.2" y2="363.1" stroke="#444" stroke-width="0.5" />
<line x1="214.6" y1="365.2" x2="216.2" y2="365.2" stroke="#444" stroke-width="0.5" />
<line x1="214.6" y1="367.3" x2="216.2" y2="367.3" stroke="#444" stroke-width="0.5" />
<line x1="214.6" y1="369.4" x2="216.2" y2="369.4" stroke="#444" stroke-width="0.5" />
<line x1="214.6" y1="371.5" x2="216.2" y2="371.5" stroke="#444" stroke-width="0.5" />
<line x1="214.6" y1="373.6" x2="216.2" y2="373.6" stroke="#444" stroke-width="0.5" />
<line x1="214.6" y1="375.7" x2="216.2" y2="375.7" stroke="#444" stroke-width="0.5" />
<line x1="214.6" y1="377.8" x2="216.2" y2="377.8" stroke="#444" stroke-width="0.5" />
<line x1="214.6" y1="379.9" x2="216.2" y2="379.9" stroke="#444" stroke-width="0.5" />
<line x1="214.6" y1="382" x2="216.2" y2="382" stroke="#444" stroke-width="0.5" />
<line x1="214.6" y1="384.1" x2="216.2" y2="384.1" stroke="#444" stroke-width="0.5" />
<line x1="214.6" y1="386.2" x2="216.2" y2="386.2" stroke="#444" stroke-width="0.5" />
<line x1="214.6" y1="388.3" x2="216.2" y2="388.3" stroke="#444" stroke-width="0.5" />
<line x1="214.6" y1="390.4" x2="216.2" y2="390.4" stroke="#444" stroke-width="0.5" />
<line x1="214.6" y1="392.5" x2="216.2" y2="392.5" stroke="#444" stroke-width="0.5" />
<line x1="214.6" y1="394.6" x2="216.2" y2="394.6" stroke="#444" stroke-width="0.5" />
<line x1="214.6" y1="396.7" x2="216.2" y2="396.7" stroke="#444" stroke-width="0.5" />
<line x1="214.6" y1="398.8" x2="216.2" y2="398.8" stroke="#444" stroke-width="0.5" />
<line x1="214.6" y1="400.9" x2="216.2" y2="400.9" stroke="#444" stroke-width="0.5" />
<line x1="214.6" y1="403" x2="216.2" y2="403" stroke="#444" stroke-width="0.5" />
<line x1="214.6" y1="405.1" x2="216.2" y2="405.1" stroke="#444" stroke-width="0.5" />
<line x1="214.6" y1="407.2" x2="216.2" y2="407.2" stroke="#444" stroke-width="0.5" />
<line x1="214.6" y1="409.3" x2="216.2" y2="409.3" stroke="#444" stroke-width="0.5" />
<line x1="214.6" y1="411.4" x2="216.2" y2="411.4" stroke="#444" stroke-width="0.5" />
<line x1="214.6" y1="413.5" x2="216.2" y2="413.5" stroke="#444" stroke-width="0.5" />
<line x1="214.6" y1="415.6" x2="216.2" y2="415.6" stroke="#444" stroke-width="0.5" />
<line x1="214.6" y1="417.7" x2="216.2" y2="417.7" stroke="#444" stroke-width="0.5" />
<line x1="214.6" y1="419.8" x2="216.2" y2="419.8" stroke="#444" stroke-width="0.5" />
<line x1="214.6" y1="421.9" x2="216.2" y2="421.9" stroke="#444" stroke-width="0.5" />
<text x="348.4" y="332.6" font-size="10.2" text-anchor="middle" fill="#222" textLength="74.8" lengthAdjust="spacingAndGlyphs" >Allogeneic T cells</text>
<rect x="307.7" y="338.3" width="82.7" height="86.5" fill="none" stroke="#222" stroke-width="0.9" />
<line x1="358.3" y1="338.3" x2="358.3" y2="424.8" stroke="#222" stroke-width="0.9" />
<line x1="307.7" y1="378.8" x2="390.4" y2="378.8" stroke="#222" stroke-width="0.9" />
<line x1="308.7" y1="424.8" x2="308.7" y2="423.3" stroke="#444" stroke-width="0.5" />
<line x1="310.9" y1="424.8" x2="310.9" y2="423.3" stroke="#444" stroke-width="0.5" />
<line x1="313.1" y1="424.8" x2="313.1" y2="423.3" stroke="#444" stroke-width="0.5" />
<line x1="315.3" y1="424.8" x2="315.3" y2="423.3" stroke="#444" stroke-width="0.5" />
<line x1="317.5" y1="424.8" x2="317.5" y2="423.3" stroke="#444" stroke-width="0.5" />
<line x1="319.7" y1="424.8" x2="319.7" y2="423.3" stroke="#444" stroke-width="0.5" />
<line x1="321.9" y1="424.8" x2="321.9" y2="423.3" stroke="#444" stroke-width="0.5" />
<line x1="324.1" y1="424.8" x2="324.1" y2="423.3" stroke="#444" stroke-width="0.5" />
<line x1="326.3" y1="424.8" x2="326.3" y2="423.3" stroke="#444" stroke-width="0.5" />
<line x1="328.5" y1="424.8" x2="328.5" y2="423.3" stroke="#444" stroke-width="0.5" />
<line x1="330.7" y1="424.8" x2="330.7" y2="423.3" stroke="#444" stroke-width="0.5" />
<line x1="332.9" y1="424.8" x2="332.9" y2="423.3" stroke="#444" stroke-width="0.5" />
<line x1="335.1" y1="424.8" x2="335.1" y2="423.3" stroke="#444" stroke-width="0.5" />
<line x1="337.3" y1="424.8" x2="337.3" y2="423.3" stroke="#444" stroke-width="0.5" />
<line x1="339.5" y1="424.8" x2="339.5" y2="423.3" stroke="#444" stroke-width="0.5" />
<line x1="341.7" y1="424.8" x2="341.7" y2="423.3" stroke="#444" stroke-width="0.5" />
<line x1="343.9" y1="424.8" x2="343.9" y2="423.3" stroke="#444" stroke-width="0.5" />
<line x1="346.1" y1="424.8" x2="346.1" y2="423.3" stroke="#444" stroke-width="0.5" />
<line x1="348.3" y1="424.8" x2="348.3" y2="423.3" stroke="#444" stroke-width="0.5" />
<line x1="350.5" y1="424.8" x2="350.5" y2="423.3" stroke="#444" stroke-width="0.5" />
<line x1="352.7" y1="424.8" x2="352.7" y2="423.3" stroke="#444" stroke-width="0.5" />
<line x1="354.9" y1="424.8" x2="354.9" y2="423.3" stroke="#444" stroke-width="0.5" />
<line x1="357.1" y1="424.8" x2="357.1" y2="423.3" stroke="#444" stroke-width="0.5" />
<line x1="359.3" y1="424.8" x2="359.3" y2="423.3" stroke="#444" stroke-width="0.5" />
<line x1="361.5" y1="424.8" x2="361.5" y2="423.3" stroke="#444" stroke-width="0.5" />
<line x1="363.7" y1="424.8" x2="363.7" y2="423.3" stroke="#444" stroke-width="0.5" />
<line x1="365.9" y1="424.8" x2="365.9" y2="423.3" stroke="#444" stroke-width="0.5" />
<line x1="368.1" y1="424.8" x2="368.1" y2="423.3" stroke="#444" stroke-width="0.5" />
<line x1="370.3" y1="424.8" x2="370.3" y2="423.3" stroke="#444" stroke-width="0.5" />
<line x1="372.5" y1="424.8" x2="372.5" y2="423.3" stroke="#444" stroke-width="0.5" />
<line x1="374.7" y1="424.8" x2="374.7" y2="423.3" stroke="#444" stroke-width="0.5" />
<line x1="376.9" y1="424.8" x2="376.9" y2="423.3" stroke="#444" stroke-width="0.5" />
<line x1="379.1" y1="424.8" x2="379.1" y2="423.3" stroke="#444" stroke-width="0.5" />
<line x1="381.3" y1="424.8" x2="381.3" y2="423.3" stroke="#444" stroke-width="0.5" />
<line x1="383.5" y1="424.8" x2="383.5" y2="423.3" stroke="#444" stroke-width="0.5" />
<line x1="385.7" y1="424.8" x2="385.7" y2="423.3" stroke="#444" stroke-width="0.5" />
<line x1="387.9" y1="424.8" x2="387.9" y2="423.3" stroke="#444" stroke-width="0.5" />
<line x1="331" y1="347" x2="331" y2="372" stroke="#444" stroke-width="0.8" />
<line x1="313.5" y1="360.2" x2="348.5" y2="360.2" stroke="#444" stroke-width="0.8" />
<text x="330.2" y="357" font-size="8.2" text-anchor="end" fill="#222" >4.23</text>
<text x="331.8" y="357" font-size="8.2" text-anchor="start" fill="#222" >19.7</text>
<text x="330.2" y="368.4" font-size="8.2" text-anchor="end" fill="#222" >66.9</text>
<text x="331.8" y="368.4" font-size="8.2" text-anchor="start" fill="#222" >9.15</text>
<line x1="307.1" y1="340" x2="308.7" y2="340" stroke="#444" stroke-width="0.5" />
<line x1="307.1" y1="342.1" x2="308.7" y2="342.1" stroke="#444" stroke-width="0.5" />
<line x1="307.1" y1="344.2" x2="308.7" y2="344.2" stroke="#444" stroke-width="0.5" />
<line x1="307.1" y1="346.3" x2="308.7" y2="346.3" stroke="#444" stroke-width="0.5" />
<line x1="307.1" y1="348.4" x2="308.7" y2="348.4" stroke="#444" stroke-width="0.5" />
<line x1="307.1" y1="350.5" x2="308.7" y2="350.5" stroke="#444" stroke-width="0.5" />
<line x1="307.1" y1="352.6" x2="308.7" y2="352.6" stroke="#444" stroke-width="0.5" />
<line x1="307.1" y1="354.7" x2="308.7" y2="354.7" stroke="#444" stroke-width="0.5" />
<line x1="307.1" y1="356.8" x2="308.7" y2="356.8" stroke="#444" stroke-width="0.5" />
<line x1="307.1" y1="358.9" x2="308.7" y2="358.9" stroke="#444" stroke-width="0.5" />
<line x1="307.1" y1="361" x2="308.7" y2="361" stroke="#444" stroke-width="0.5" />
<line x1="307.1" y1="363.1" x2="308.7" y2="363.1" stroke="#444" stroke-width="0.5" />
<line x1="307.1" y1="365.2" x2="308.7" y2="365.2" stroke="#444" stroke-width="0.5" />
<line x1="307.1" y1="367.3" x2="308.7" y2="367.3" stroke="#444" stroke-width="0.5" />
<line x1="307.1" y1="369.4" x2="308.7" y2="369.4" stroke="#444" stroke-width="0.5" />
<line x1="307.1" y1="371.5" x2="308.7" y2="371.5" stroke="#444" stroke-width="0.5" />
<line x1="307.1" y1="373.6" x2="308.7" y2="373.6" stroke="#444" stroke-width="0.5" />
<line x1="307.1" y1="375.7" x2="308.7" y2="375.7" stroke="#444" stroke-width="0.5" />
<line x1="307.1" y1="377.8" x2="308.7" y2="377.8" stroke="#444" stroke-width="0.5" />
<line x1="307.1" y1="379.9" x2="308.7" y2="379.9" stroke="#444" stroke-width="0.5" />
<line x1="307.1" y1="382" x2="308.7" y2="382" stroke="#444" stroke-width="0.5" />
<line x1="307.1" y1="384.1" x2="308.7" y2="384.1" stroke="#444" stroke-width="0.5" />
<line x1="307.1" y1="386.2" x2="308.7" y2="386.2" stroke="#444" stroke-width="0.5" />
<line x1="307.1" y1="388.3" x2="308.7" y2="388.3" stroke="#444" stroke-width="0.5" />
<line x1="307.1" y1="390.4" x2="308.7" y2="390.4" stroke="#444" stroke-width="0.5" />
<line x1="307.1" y1="392.5" x2="308.7" y2="392.5" stroke="#444" stroke-width="0.5" />
<line x1="307.1" y1="394.6" x2="308.7" y2="394.6" stroke="#444" stroke-width="0.5" />
<line x1="307.1" y1="396.7" x2="308.7" y2="396.7" stroke="#444" stroke-width="0.5" />
<line x1="307.1" y1="398.8" x2="308.7" y2="398.8" stroke="#444" stroke-width="0.5" />
<line x1="307.1" y1="400.9" x2="308.7" y2="400.9" stroke="#444" stroke-width="0.5" />
<line x1="307.1" y1="403" x2="308.7" y2="403" stroke="#444" stroke-width="0.5" />
<line x1="307.1" y1="405.1" x2="308.7" y2="405.1" stroke="#444" stroke-width="0.5" />
<line x1="307.1" y1="407.2" x2="308.7" y2="407.2" stroke="#444" stroke-width="0.5" />
<line x1="307.1" y1="409.3" x2="308.7" y2="409.3" stroke="#444" stroke-width="0.5" />
<line x1="307.1" y1="411.4" x2="308.7" y2="411.4" stroke="#444" stroke-width="0.5" />
<line x1="307.1" y1="413.5" x2="308.7" y2="413.5" stroke="#444" stroke-width="0.5" />
<line x1="307.1" y1="415.6" x2="308.7" y2="415.6" stroke="#444" stroke-width="0.5" />
<line x1="307.1" y1="417.7" x2="308.7" y2="417.7" stroke="#444" stroke-width="0.5" />
<line x1="307.1" y1="419.8" x2="308.7" y2="419.8" stroke="#444" stroke-width="0.5" />
<line x1="307.1" y1="421.9" x2="308.7" y2="421.9" stroke="#444" stroke-width="0.5" />
<clipPath id="f1"><rect x="123" y="338.3" width="82.2" height="86.5"/></clipPath>
<clipPath id="f2"><rect x="215.2" y="338.3" width="82.5" height="86.5"/></clipPath>
<clipPath id="f3"><rect x="307.7" y="338.3" width="82.7" height="86.5"/></clipPath>
<g clip-path="url(#f1)">
<ellipse cx="149" cy="414" rx="23.5" ry="10.6" fill="#8a8a8a"/>
<ellipse cx="149" cy="414" rx="23.5" ry="10.6" fill="none" stroke="#111" stroke-width="0.8"/>
<ellipse cx="149" cy="414" rx="21.95" ry="9.9" fill="none" stroke="#111" stroke-width="0.8"/>
<ellipse cx="149" cy="414" rx="20.4" ry="9.2" fill="none" stroke="#111" stroke-width="0.8"/>
<ellipse cx="149" cy="414" rx="18.85" ry="8.5" fill="none" stroke="#111" stroke-width="0.8"/>
<ellipse cx="149" cy="414" rx="17.3" ry="7.8" fill="none" stroke="#111" stroke-width="0.8"/>
<ellipse cx="149" cy="414" rx="15.75" ry="7.1" fill="none" stroke="#111" stroke-width="0.8"/>
<ellipse cx="149" cy="414" rx="14.2" ry="6.4" fill="none" stroke="#111" stroke-width="0.8"/>
<ellipse cx="149" cy="414" rx="12.65" ry="5.7" fill="none" stroke="#111" stroke-width="0.8"/>
<ellipse cx="149" cy="414" rx="11.1" ry="5" fill="none" stroke="#111" stroke-width="0.8"/>
<ellipse cx="149" cy="414" rx="9.55" ry="4.3" fill="none" stroke="#111" stroke-width="0.8"/>
<ellipse cx="149" cy="414" rx="8" ry="3.6" fill="none" stroke="#111" stroke-width="0.8"/>
<ellipse cx="149" cy="414" rx="6.45" ry="2.9" fill="none" stroke="#111" stroke-width="0.8"/>
<ellipse cx="149" cy="414" rx="4.9" ry="2.2" fill="none" stroke="#111" stroke-width="0.8"/>
<ellipse cx="149" cy="414" rx="3.35" ry="1.5" fill="none" stroke="#111" stroke-width="0.8"/>
<path d="M123 403 L126 402.5 L128 404 L130 403.5 L131 407 L130 412 L131.5 417 L130 421 L131 424.8 L123 424.8 Z" fill="#111"/>
<line x1="143" y1="414" x2="147" y2="414" stroke="#fff" stroke-width="1.2"/><line x1="149.5" y1="414" x2="155" y2="414" stroke="#fff" stroke-width="1.2"/>
<path d="M128 404 C 145 399, 165 396, 178 390 C 184 386, 188 382, 190.5 381 C 192.5 380.5, 192 383, 190 386 C 186 391, 182 396, 178 403 C 174 410, 168 418, 163 424.8" fill="none" stroke="#111" stroke-width="0.75" />
<path d="M131 405.5 C 150 401, 165 399.5, 175 396.5 C 180 394, 183 392, 184.5 391.5 C 183 396, 179 402, 175 408 C 171 414, 167 420, 163.5 424.8" fill="none" stroke="#111" stroke-width="0.75" />
<ellipse cx="188.3" cy="386" rx="1.8" ry="6.2" fill="none" stroke="#111" stroke-width="0.75" transform="rotate(35 188.3 386)"/>
<path d="M171.8 368 C 174 362, 180 357.5, 188 357.5 C 196 357.5, 200.5 360, 200.5 364 C 200.5 370, 194 375, 186 375 C 180 375, 175 372, 171.8 368 Z" fill="none" stroke="#111" stroke-width="0.9" transform="translate(185.5 366) scale(1) translate(-185.5 -366)" />
<path d="M171.8 368 C 174 362, 180 357.5, 188 357.5 C 196 357.5, 200.5 360, 200.5 364 C 200.5 370, 194 375, 186 375 C 180 375, 175 372, 171.8 368 Z" fill="none" stroke="#111" stroke-width="1.12" transform="translate(185.5 366) scale(0.8) translate(-185.5 -366)" />
<path d="M171.8 368 C 174 362, 180 357.5, 188 357.5 C 196 357.5, 200.5 360, 200.5 364 C 200.5 370, 194 375, 186 375 C 180 375, 175 372, 171.8 368 Z" fill="none" stroke="#111" stroke-width="1.5" transform="translate(185.5 366) scale(0.6) translate(-185.5 -366)" />
<path d="M171.8 368 C 174 362, 180 357.5, 188 357.5 C 196 357.5, 200.5 360, 200.5 364 C 200.5 370, 194 375, 186 375 C 180 375, 175 372, 171.8 368 Z" fill="none" stroke="#111" stroke-width="2.25" transform="translate(185.5 366) scale(0.4) translate(-185.5 -366)" />
<ellipse cx="185.5" cy="365.8" rx="1.8" ry="1" fill="none" stroke="#111" stroke-width="0.7"/>
</g>
<g clip-path="url(#f2)">
<path d="M215 405 L220 406.5 L224 409 C 228 405.5, 236 402.5, 248 401.5 C 256 401, 263 400.5, 265.5 402.5 C 267.5 406, 266.5 414, 262 418.5 C 256 422.5, 246 424.3, 236 424.8 L215 424.8 Z" fill="none" stroke="#111" stroke-width="0.58" transform="translate(242 413) scale(1.03) translate(-242 -413)" />
<path d="M215 405 L220 406.5 L224 409 C 228 405.5, 236 402.5, 248 401.5 C 256 401, 263 400.5, 265.5 402.5 C 267.5 406, 266.5 414, 262 418.5 C 256 422.5, 246 424.3, 236 424.8 L215 424.8 Z" fill="#111" stroke="#111" stroke-width="0.6" />
<path d="M219 412 L226 413.5 L220 416" fill="none" stroke="#ddd" stroke-width="0.6" />
<ellipse cx="247" cy="413.5" rx="14" ry="6" fill="none" stroke="#555" stroke-width="0.5"/>
<ellipse cx="247" cy="413.5" rx="10" ry="4.2" fill="none" stroke="#555" stroke-width="0.5"/>
<ellipse cx="247" cy="413.5" rx="6" ry="2.4" fill="none" stroke="#555" stroke-width="0.5"/>
<line x1="242" y1="413.5" x2="255" y2="413" stroke="#ccc" stroke-width="0.8" stroke-dasharray="1.5 0.8"/>
<path d="M262 367 C 262 362, 266 360, 270 361.5 C 273 363, 275 364, 277 362 C 279 359, 284 358, 288 360 C 291 362, 291 367, 289 370 C 286 373, 282 374, 280 377 C 278 380, 273 381, 271 379 C 269 377, 270 374, 268 372 C 265 371, 262 370, 262 367 Z" fill="none" stroke="#111" stroke-width="0.8" transform="translate(277 369) scale(1) translate(-277 -369)" />
<path d="M262 367 C 262 362, 266 360, 270 361.5 C 273 363, 275 364, 277 362 C 279 359, 284 358, 288 360 C 291 362, 291 367, 289 370 C 286 373, 282 374, 280 377 C 278 380, 273 381, 271 379 C 269 377, 270 374, 268 372 C 265 371, 262 370, 262 367 Z" fill="none" stroke="#111" stroke-width="0.93" transform="translate(277 369) scale(0.86) translate(-277 -369)" />
<path d="M262 367 C 262 362, 266 360, 270 361.5 C 273 363, 275 364, 277 362 C 279 359, 284 358, 288 360 C 291 362, 291 367, 289 370 C 286 373, 282 374, 280 377 C 278 380, 273 381, 271 379 C 269 377, 270 374, 268 372 C 265 371, 262 370, 262 367 Z" fill="none" stroke="#111" stroke-width="1.11" transform="translate(277 369) scale(0.72) translate(-277 -369)" />
<circle cx="282.2" cy="365.4" r="3.6" fill="none" stroke="#111" stroke-width="0.85"/>
<circle cx="282.2" cy="365.4" r="1.5" fill="none" stroke="#111" stroke-width="0.85"/>
<circle cx="274.6" cy="375.3" r="2.1" fill="none" stroke="#111" stroke-width="0.85"/>
<ellipse cx="278.6" cy="390.8" rx="2.6" ry="7.4" fill="none" stroke="#111" stroke-width="0.85" transform="rotate(35 278.6 390.8)"/>
</g>
<g clip-path="url(#f3)">
<path d="M318 416 C 317.5 410, 320 405, 326 403 C 332 401, 340 400.5, 346 399 C 352 397, 357 392, 360 388.5 C 362 387, 366 387, 368.5 389.5 C 370 393, 369.5 398, 366 405 C 362 411, 355 417, 348 420.5 C 340 424, 330 424.8, 324 424 C 320 423, 318 420, 318 416 Z" fill="none" stroke="#111" stroke-width="0.57" transform="translate(343 410) scale(1.06) translate(-343 -410)" />
<path d="M318 416 C 317.5 410, 320 405, 326 403 C 332 401, 340 400.5, 346 399 C 352 397, 357 392, 360 388.5 C 362 387, 366 387, 368.5 389.5 C 370 393, 369.5 398, 366 405 C 362 411, 355 417, 348 420.5 C 340 424, 330 424.8, 324 424 C 320 423, 318 420, 318 416 Z" fill="none" stroke="#111" stroke-width="0.58" transform="translate(343 410) scale(1.03) translate(-343 -410)" />
<path d="M318 416 C 317.5 410, 320 405, 326 403 C 332 401, 340 400.5, 346 399 C 352 397, 357 392, 360 388.5 C 362 387, 366 387, 368.5 389.5 C 370 393, 369.5 398, 366 405 C 362 411, 355 417, 348 420.5 C 340 424, 330 424.8, 324 424 C 320 423, 318 420, 318 416 Z" fill="#111" stroke="#111" stroke-width="0.6" />
<path d="M326 415 C 334 414, 345 411, 352 406 C 357 402, 361 398, 364 393" fill="none" stroke="#bbb" stroke-width="0.7" stroke-dasharray="1.6 1"/>
<ellipse cx="335" cy="414.5" rx="3" ry="1.3" fill="#ddd"/>
<path d="M346 372 C 346 367, 350 365, 356 366 C 358 362, 364 361, 370 362 C 376 362, 384 363, 386 366 C 387 369, 383 371, 379 371 C 378 378, 376 386, 371 389 C 366 391, 361 388, 358 383 C 354 381, 348 379, 346 372 Z" fill="none" stroke="#111" stroke-width="0.7" transform="translate(366 373) scale(1) translate(-366 -373)" />
<path d="M346 372 C 346 367, 350 365, 356 366 C 358 362, 364 361, 370 362 C 376 362, 384 363, 386 366 C 387 369, 383 371, 379 371 C 378 378, 376 386, 371 389 C 366 391, 361 388, 358 383 C 354 381, 348 379, 346 372 Z" fill="none" stroke="#111" stroke-width="0.78" transform="translate(366 373) scale(0.9) translate(-366 -373)" />
<path d="M346 372 C 346 367, 350 365, 356 366 C 358 362, 364 361, 370 362 C 376 362, 384 363, 386 366 C 387 369, 383 371, 379 371 C 378 378, 376 386, 371 389 C 366 391, 361 388, 358 383 C 354 381, 348 379, 346 372 Z" fill="none" stroke="#111" stroke-width="0.87" transform="translate(366 373) scale(0.8) translate(-366 -373)" />
<ellipse cx="368" cy="375" rx="10" ry="14" fill="#111" transform="rotate(-25 368 375)"/>
<ellipse cx="367" cy="374.5" rx="4" ry="1.8" fill="none" stroke="#ccc" stroke-width="0.6" transform="rotate(35 367 374.5)"/>
<path d="M362 389 C 364 386, 368 386, 370 388 L368 393 L362 392 Z" fill="#111"/>
<path d="M304 402 L312 403 C 316 406, 318 412, 317 418 C 316 422, 313 424.8, 310 424.8 L307.7 424.8 L304 424.8 Z" fill="#111"/>
<path d="M304 400 L313 401 C 318 404, 320 411, 319 418 C 318.5 421, 317 424, 316 424.8" fill="none" stroke="#111" stroke-width="0.6" />
<circle cx="309" cy="367" r="2.6" fill="none" stroke="#111" stroke-width="0.8"/>
<circle cx="309" cy="367" r="1.2" fill="none" stroke="#111" stroke-width="0.7"/>
<circle cx="341" cy="383" r="0.0" fill="none"/>
</g>
<text x="405.5" y="318.5" font-size="12" text-anchor="start" font-weight="bold" fill="#111" >G</text>
<line x1="439.4" y1="337.5" x2="439.4" y2="427.3" stroke="#111" stroke-width="1.1" />
<line x1="437" y1="427.3" x2="508.5" y2="427.3" stroke="#111" stroke-width="1.1" />
<line x1="435.8" y1="427.3" x2="439.4" y2="427.3" stroke="#111" stroke-width="0.9" />
<text x="432.2" y="430.4" font-size="8.6" text-anchor="end" fill="#222" >0</text>
<line x1="435.8" y1="409.7" x2="439.4" y2="409.7" stroke="#111" stroke-width="0.9" />
<text x="432.2" y="412.8" font-size="8.6" text-anchor="end" fill="#222" >20</text>
<line x1="435.8" y1="392.1" x2="439.4" y2="392.1" stroke="#111" stroke-width="0.9" />
<text x="432.2" y="395.2" font-size="8.6" text-anchor="end" fill="#222" >40</text>
<line x1="435.8" y1="374.5" x2="439.4" y2="374.5" stroke="#111" stroke-width="0.9" />
<text x="432.2" y="377.6" font-size="8.6" text-anchor="end" fill="#222" >60</text>
<line x1="435.8" y1="356.9" x2="439.4" y2="356.9" stroke="#111" stroke-width="0.9" />
<text x="432.2" y="360" font-size="8.6" text-anchor="end" fill="#222" >80</text>
<line x1="435.8" y1="339.3" x2="439.4" y2="339.3" stroke="#111" stroke-width="0.9" />
<text x="432.2" y="342.4" font-size="8.6" text-anchor="end" fill="#222" >100</text>
<rect x="449.6" y="349" width="9.1" height="78.3" fill="#62a83c" />
<rect x="471.2" y="351" width="9.2" height="76.3" fill="#34548c" />
<rect x="492.8" y="367.3" width="9.4" height="60" fill="#b40a32" />
<line x1="452" y1="348.5" x2="456.4" y2="348.5" stroke="#111" stroke-width="0.9" />
<line x1="475.8" y1="348" x2="475.8" y2="351" stroke="#111" stroke-width="0.9" />
<line x1="473.6" y1="348" x2="478" y2="348" stroke="#111" stroke-width="0.9" />
<line x1="497.5" y1="360.6" x2="497.5" y2="368" stroke="#111" stroke-width="0.9" />
<line x1="495.3" y1="360.6" x2="499.7" y2="360.6" stroke="#111" stroke-width="0.9" />
<text x="497.8" y="358.3" font-size="8.5" text-anchor="middle" font-weight="bold" fill="#222" >*</text>
<line x1="454.2" y1="427.3" x2="454.2" y2="429.8" stroke="#111" stroke-width="0.9" />
<line x1="475.8" y1="427.3" x2="475.8" y2="429.8" stroke="#111" stroke-width="0.9" />
<line x1="497.5" y1="427.3" x2="497.5" y2="429.8" stroke="#111" stroke-width="0.9" />
<text x="458.5" y="436.8" font-size="8.8" text-anchor="end" fill="#222" textLength="33" lengthAdjust="spacingAndGlyphs" transform="rotate(-45 458.5 436.8)" >T cells(-)</text>
<text x="480.5" y="436.8" font-size="8.8" text-anchor="end" fill="#222" textLength="15" lengthAdjust="spacingAndGlyphs" transform="rotate(-45 480.5 436.8)" >Syn</text>
<text x="502.5" y="436.8" font-size="8.8" text-anchor="end" fill="#222" textLength="14.5" lengthAdjust="spacingAndGlyphs" transform="rotate(-45 502.5 436.8)" >Allo</text>
<text x="411" y="381" font-size="9.2" text-anchor="middle" fill="#222" transform="rotate(-90 411 381)" dy="3.3">Viability (AnnexinV<tspan font-size="5.5" dy="-3">-</tspan><tspan dy="3">PI</tspan><tspan font-size="5.5" dy="-3">-</tspan><tspan dy="3">) (%)</tspan></text>
<text x="8.8" y="484.5" font-size="12" text-anchor="start" font-weight="bold" fill="#111" >H</text>
<text x="64.8" y="495.8" font-size="10" text-anchor="middle" fill="#222" textLength="54.5" lengthAdjust="spacingAndGlyphs" >Color Range</text>
<rect x="23.8" y="500.8" width="83.2" height="8" fill="url(#cr)" />
<line x1="23.8" y1="510.6" x2="107" y2="510.6" stroke="#222" stroke-width="0.9" />
<line x1="24.2" y1="510.6" x2="24.2" y2="513.2" stroke="#222" stroke-width="0.9" />
<line x1="65.4" y1="510.6" x2="65.4" y2="513.2" stroke="#222" stroke-width="0.9" />
<line x1="106.6" y1="510.6" x2="106.6" y2="513.2" stroke="#222" stroke-width="0.9" />
<text x="22.3" y="523.6" font-size="8.6" text-anchor="middle" fill="#222" >-4</text>
<text x="65.4" y="523.6" font-size="8.6" text-anchor="middle" fill="#222" >0</text>
<text x="106.6" y="523.6" font-size="8.6" text-anchor="middle" fill="#222" >4</text>
<text x="47.6" y="540.3" font-size="8.1" text-anchor="start" fill="#222" >Allo_Ovary_CD8<tspan font-size="5.6" dy="-3.3">+</tspan></text>
<text x="47.6" y="557.3" font-size="8.1" text-anchor="start" fill="#222" >Allo_Spleen_CD8<tspan font-size="5.6" dy="-3.3">+</tspan></text>
<text x="47.6" y="574.7" font-size="8.1" text-anchor="start" fill="#222" >Allo_Ovary_CD4<tspan font-size="5.6" dy="-3.3">+</tspan></text>
<text x="47.6" y="591.5" font-size="8.1" text-anchor="start" fill="#222" >Allo_Spleen_CD4<tspan font-size="5.6" dy="-3.3">+</tspan></text>
<text x="47.6" y="608.7" font-size="8.1" text-anchor="start" fill="#222" >Syn_Spleen_CD4<tspan font-size="5.6" dy="-3.3">+</tspan></text>
<text x="47.6" y="625.7" font-size="8.1" text-anchor="start" fill="#222" >Syn_Spleen_CD8<tspan font-size="5.6" dy="-3.3">+</tspan></text>
<path d="M44 537.5 H30.8 V554.5 H44 M44 572.5 H30.8 V589.4 H44 M44 606.5 H30.8 V623.7 H44 M30.8 580.3 H14.7 V614.4 H30.8 M30.8 545.6 H12.5 V597.2 H14.7 " fill="none" stroke="#222" stroke-width="1" />
<g filter="url(#b0_5)">
<rect x="119.3" y="530.8" width="13" height="17.12" fill="#2f0606"/>
<rect x="119.3" y="547.62" width="13" height="17.12" fill="#270404"/>
<rect x="119.3" y="564.43" width="13" height="17.12" fill="#080e06"/>
<rect x="119.3" y="581.25" width="13" height="17.12" fill="#092709"/>
<rect x="119.3" y="598.07" width="13" height="17.12" fill="#1a9d1a"/>
<rect x="119.3" y="614.88" width="13" height="17.12" fill="#20b120"/>
<rect x="132" y="530.8" width="2.3" height="17.12" fill="#761313"/>
<rect x="132" y="547.62" width="2.3" height="17.12" fill="#681010"/>
<rect x="132" y="564.43" width="2.3" height="17.12" fill="#080804"/>
<rect x="132" y="581.25" width="2.3" height="17.12" fill="#0d0403"/>
<rect x="132" y="598.07" width="2.3" height="17.12" fill="#092f09"/>
<rect x="132" y="614.88" width="2.3" height="17.12" fill="#081a08"/>
<rect x="134" y="530.8" width="9.3" height="17.12" fill="#060904"/>
<rect x="134" y="547.62" width="9.3" height="17.12" fill="#081508"/>
<rect x="134" y="564.43" width="9.3" height="17.12" fill="#125612"/>
<rect x="134" y="581.25" width="9.3" height="17.12" fill="#220606"/>
<rect x="134" y="598.07" width="9.3" height="17.12" fill="#0d0404"/>
<rect x="134" y="614.88" width="9.3" height="17.12" fill="#220404"/>
<rect x="143" y="530.8" width="7.3" height="17.12" fill="#060804"/>
<rect x="143" y="547.62" width="7.3" height="17.12" fill="#092209"/>
<rect x="143" y="564.43" width="7.3" height="17.12" fill="#104b10"/>
<rect x="143" y="581.25" width="7.3" height="17.12" fill="#155615"/>
<rect x="143" y="598.07" width="7.3" height="17.12" fill="#2f0606"/>
<rect x="143" y="614.88" width="7.3" height="17.12" fill="#490909"/>
<rect x="150" y="530.8" width="10.3" height="17.12" fill="#080803"/>
<rect x="150" y="547.62" width="10.3" height="17.12" fill="#092209"/>
<rect x="150" y="564.43" width="10.3" height="17.12" fill="#092f09"/>
<rect x="150" y="581.25" width="10.3" height="17.12" fill="#092f09"/>
<rect x="150" y="598.07" width="10.3" height="17.12" fill="#270606"/>
<rect x="150" y="614.88" width="10.3" height="17.12" fill="#5b0d0d"/>
<rect x="160" y="530.8" width="5.3" height="17.12" fill="#060803"/>
<rect x="160" y="547.62" width="5.3" height="17.12" fill="#081b08"/>
<rect x="160" y="564.43" width="5.3" height="17.12" fill="#082708"/>
<rect x="160" y="581.25" width="5.3" height="17.12" fill="#092f09"/>
<rect x="160" y="598.07" width="5.3" height="17.12" fill="#270606"/>
<rect x="160" y="614.88" width="5.3" height="17.12" fill="#1a0303"/>
<rect x="165" y="530.8" width="5.3" height="17.12" fill="#040803"/>
<rect x="165" y="547.62" width="5.3" height="17.12" fill="#060904"/>
<rect x="165" y="564.43" width="5.3" height="17.12" fill="#080803"/>
<rect x="165" y="581.25" width="5.3" height="17.12" fill="#092f09"/>
<rect x="165" y="598.07" width="5.3" height="17.12" fill="#220404"/>
<rect x="165" y="614.88" width="5.3" height="17.12" fill="#220404"/>
<rect x="170" y="530.8" width="5.3" height="17.12" fill="#082208"/>
<rect x="170" y="547.62" width="5.3" height="17.12" fill="#279027"/>
<rect x="170" y="564.43" width="5.3" height="17.12" fill="#0d0303"/>
<rect x="170" y="581.25" width="5.3" height="17.12" fill="#092409"/>
<rect x="170" y="598.07" width="5.3" height="17.12" fill="#270606"/>
<rect x="170" y="614.88" width="5.3" height="17.12" fill="#080403"/>
<rect x="175" y="530.8" width="15.3" height="17.12" fill="#050604"/>
<rect x="175" y="547.62" width="15.3" height="17.12" fill="#060804"/>
<rect x="175" y="564.43" width="15.3" height="17.12" fill="#1a0303"/>
<rect x="175" y="581.25" width="15.3" height="17.12" fill="#080803"/>
<rect x="175" y="598.07" width="15.3" height="17.12" fill="#080803"/>
<rect x="175" y="614.88" width="15.3" height="17.12" fill="#080603"/>
<rect x="190" y="530.8" width="3.3" height="17.12" fill="#060804"/>
<rect x="190" y="547.62" width="3.3" height="17.12" fill="#082208"/>
<rect x="190" y="564.43" width="3.3" height="17.12" fill="#080803"/>
<rect x="190" y="581.25" width="3.3" height="17.12" fill="#56090d"/>
<rect x="190" y="598.07" width="3.3" height="17.12" fill="#154915"/>
<rect x="190" y="614.88" width="3.3" height="17.12" fill="#080603"/>
<rect x="193" y="530.8" width="7.3" height="17.12" fill="#060804"/>
<rect x="193" y="547.62" width="7.3" height="17.12" fill="#082208"/>
<rect x="193" y="564.43" width="7.3" height="17.12" fill="#080803"/>
<rect x="193" y="581.25" width="7.3" height="17.12" fill="#56090d"/>
<rect x="193" y="598.07" width="7.3" height="17.12" fill="#080803"/>
<rect x="193" y="614.88" width="7.3" height="17.12" fill="#080603"/>
<rect x="200" y="530.8" width="12.3" height="17.12" fill="#082008"/>
<rect x="200" y="547.62" width="12.3" height="17.12" fill="#0d3c0d"/>
<rect x="200" y="564.43" width="12.3" height="17.12" fill="#1a0303"/>
<rect x="200" y="581.25" width="12.3" height="17.12" fill="#220404"/>
<rect x="200" y="598.07" width="12.3" height="17.12" fill="#060603"/>
<rect x="200" y="614.88" width="12.3" height="17.12" fill="#1a0303"/>
<rect x="212" y="530.8" width="12.3" height="17.12" fill="#040803"/>
<rect x="212" y="547.62" width="12.3" height="17.12" fill="#092709"/>
<rect x="212" y="564.43" width="12.3" height="17.12" fill="#060803"/>
<rect x="212" y="581.25" width="12.3" height="17.12" fill="#130303"/>
<rect x="212" y="598.07" width="12.3" height="17.12" fill="#1a0303"/>
<rect x="212" y="614.88" width="12.3" height="17.12" fill="#2f0404"/>
<rect x="224" y="530.8" width="7.3" height="17.12" fill="#150303"/>
<rect x="224" y="547.62" width="7.3" height="17.12" fill="#1a0303"/>
<rect x="224" y="564.43" width="7.3" height="17.12" fill="#080803"/>
<rect x="224" y="581.25" width="7.3" height="17.12" fill="#27aa27"/>
<rect x="224" y="598.07" width="7.3" height="17.12" fill="#130303"/>
<rect x="224" y="614.88" width="7.3" height="17.12" fill="#080603"/>
<rect x="231" y="530.8" width="28.3" height="17.12" fill="#080803"/>
<rect x="231" y="547.62" width="28.3" height="17.12" fill="#150303"/>
<rect x="231" y="564.43" width="28.3" height="17.12" fill="#092209"/>
<rect x="231" y="581.25" width="28.3" height="17.12" fill="#092f09"/>
<rect x="231" y="598.07" width="28.3" height="17.12" fill="#081a08"/>
<rect x="231" y="614.88" width="28.3" height="17.12" fill="#080803"/>
<rect x="259" y="530.8" width="16.3" height="17.12" fill="#150303"/>
<rect x="259" y="547.62" width="16.3" height="17.12" fill="#200404"/>
<rect x="259" y="564.43" width="16.3" height="17.12" fill="#040803"/>
<rect x="259" y="581.25" width="16.3" height="17.12" fill="#080803"/>
<rect x="259" y="598.07" width="16.3" height="17.12" fill="#092709"/>
<rect x="259" y="614.88" width="16.3" height="17.12" fill="#081a08"/>
<rect x="275" y="530.8" width="15.3" height="17.12" fill="#270404"/>
<rect x="275" y="547.62" width="15.3" height="17.12" fill="#3c0606"/>
<rect x="275" y="564.43" width="15.3" height="17.12" fill="#081a08"/>
<rect x="275" y="581.25" width="15.3" height="17.12" fill="#092209"/>
<rect x="275" y="598.07" width="15.3" height="17.12" fill="#104110"/>
<rect x="275" y="614.88" width="15.3" height="17.12" fill="#0e3b0e"/>
<rect x="290" y="530.8" width="4.3" height="17.12" fill="#080803"/>
<rect x="290" y="547.62" width="4.3" height="17.12" fill="#270404"/>
<rect x="290" y="564.43" width="4.3" height="17.12" fill="#270404"/>
<rect x="290" y="581.25" width="4.3" height="17.12" fill="#092209"/>
<rect x="290" y="598.07" width="4.3" height="17.12" fill="#104110"/>
<rect x="290" y="614.88" width="4.3" height="17.12" fill="#0d340d"/>
<rect x="294" y="530.8" width="6.3" height="17.12" fill="#080803"/>
<rect x="294" y="547.62" width="6.3" height="17.12" fill="#270404"/>
<rect x="294" y="564.43" width="6.3" height="17.12" fill="#560909"/>
<rect x="294" y="581.25" width="6.3" height="17.12" fill="#680d0d"/>
<rect x="294" y="598.07" width="6.3" height="17.12" fill="#081a08"/>
<rect x="294" y="614.88" width="6.3" height="17.12" fill="#081508"/>
<rect x="300" y="530.8" width="4.8" height="17.12" fill="#080803"/>
<rect x="300" y="547.62" width="4.8" height="17.12" fill="#270404"/>
<rect x="300" y="564.43" width="4.8" height="17.12" fill="#340606"/>
<rect x="300" y="581.25" width="4.8" height="17.12" fill="#3c0606"/>
<rect x="300" y="598.07" width="4.8" height="17.12" fill="#104910"/>
<rect x="300" y="614.88" width="4.8" height="17.12" fill="#104110"/>
<rect x="304.5" y="530.8" width="4.8" height="17.12" fill="#093409"/>
<rect x="304.5" y="547.62" width="4.8" height="17.12" fill="#560909"/>
<rect x="304.5" y="564.43" width="4.8" height="17.12" fill="#410606"/>
<rect x="304.5" y="581.25" width="4.8" height="17.12" fill="#2f0404"/>
<rect x="304.5" y="598.07" width="4.8" height="17.12" fill="#080803"/>
<rect x="304.5" y="614.88" width="4.8" height="17.12" fill="#080803"/>
<rect x="309" y="530.8" width="3.3" height="17.12" fill="#0e4e0e"/>
<rect x="309" y="547.62" width="3.3" height="17.12" fill="#081d08"/>
<rect x="309" y="564.43" width="3.3" height="17.12" fill="#0d0303"/>
<rect x="309" y="581.25" width="3.3" height="17.12" fill="#3c0606"/>
<rect x="309" y="598.07" width="3.3" height="17.12" fill="#9d1313"/>
<rect x="309" y="614.88" width="3.3" height="17.12" fill="#901010"/>
<rect x="312" y="530.8" width="4.3" height="17.12" fill="#0e4e0e"/>
<rect x="312" y="547.62" width="4.3" height="17.12" fill="#081d08"/>
<rect x="312" y="564.43" width="4.3" height="17.12" fill="#0d0303"/>
<rect x="312" y="581.25" width="4.3" height="17.12" fill="#3c0606"/>
<rect x="312" y="598.07" width="4.3" height="17.12" fill="#831010"/>
<rect x="312" y="614.88" width="4.3" height="17.12" fill="#080403"/>
<rect x="316" y="530.8" width="9.3" height="17.12" fill="#082708"/>
<rect x="316" y="547.62" width="9.3" height="17.12" fill="#082008"/>
<rect x="316" y="564.43" width="9.3" height="17.12" fill="#4e0808"/>
<rect x="316" y="581.25" width="9.3" height="17.12" fill="#410606"/>
<rect x="316" y="598.07" width="9.3" height="17.12" fill="#761010"/>
<rect x="316" y="614.88" width="9.3" height="17.12" fill="#080403"/>
<rect x="325" y="530.8" width="6.3" height="17.12" fill="#227e22"/>
<rect x="325" y="547.62" width="6.3" height="17.12" fill="#080d06"/>
<rect x="325" y="564.43" width="6.3" height="17.12" fill="#081a08"/>
<rect x="325" y="581.25" width="6.3" height="17.12" fill="#0d0303"/>
<rect x="325" y="598.07" width="6.3" height="17.12" fill="#340606"/>
<rect x="325" y="614.88" width="6.3" height="17.12" fill="#080403"/>
<rect x="331" y="530.8" width="6.3" height="17.12" fill="#082008"/>
<rect x="331" y="547.62" width="6.3" height="17.12" fill="#092709"/>
<rect x="331" y="564.43" width="6.3" height="17.12" fill="#130303"/>
<rect x="331" y="581.25" width="6.3" height="17.12" fill="#270404"/>
<rect x="331" y="598.07" width="6.3" height="17.12" fill="#1a0303"/>
<rect x="331" y="614.88" width="6.3" height="17.12" fill="#270404"/>
<rect x="337" y="530.8" width="8.3" height="17.12" fill="#082008"/>
<rect x="337" y="547.62" width="8.3" height="17.12" fill="#092709"/>
<rect x="337" y="564.43" width="8.3" height="17.12" fill="#130303"/>
<rect x="337" y="581.25" width="8.3" height="17.12" fill="#270404"/>
<rect x="337" y="598.07" width="8.3" height="17.12" fill="#5b0909"/>
<rect x="337" y="614.88" width="8.3" height="17.12" fill="#270404"/>
<rect x="345" y="530.8" width="4.3" height="17.12" fill="#082008"/>
<rect x="345" y="547.62" width="4.3" height="17.12" fill="#092709"/>
<rect x="345" y="564.43" width="4.3" height="17.12" fill="#2f0404"/>
<rect x="345" y="581.25" width="4.3" height="17.12" fill="#340606"/>
<rect x="345" y="598.07" width="4.3" height="17.12" fill="#4e0808"/>
<rect x="345" y="614.88" width="4.3" height="17.12" fill="#1a0303"/>
<rect x="349" y="530.8" width="7.3" height="17.12" fill="#082008"/>
<rect x="349" y="547.62" width="7.3" height="17.12" fill="#092709"/>
<rect x="349" y="564.43" width="7.3" height="17.12" fill="#2f0404"/>
<rect x="349" y="581.25" width="7.3" height="17.12" fill="#340606"/>
<rect x="349" y="598.07" width="7.3" height="17.12" fill="#4e0808"/>
<rect x="349" y="614.88" width="7.3" height="17.12" fill="#680909"/>
<rect x="356" y="530.8" width="4.3" height="17.12" fill="#0d410d"/>
<rect x="356" y="547.62" width="4.3" height="17.12" fill="#082f08"/>
<rect x="356" y="564.43" width="4.3" height="17.12" fill="#aa1a1a"/>
<rect x="356" y="581.25" width="4.3" height="17.12" fill="#b72020"/>
<rect x="356" y="598.07" width="4.3" height="17.12" fill="#831010"/>
<rect x="356" y="614.88" width="4.3" height="17.12" fill="#080803"/>
<rect x="360" y="530.8" width="8.3" height="17.12" fill="#082708"/>
<rect x="360" y="547.62" width="8.3" height="17.12" fill="#082f08"/>
<rect x="360" y="564.43" width="8.3" height="17.12" fill="#560606"/>
<rect x="360" y="581.25" width="8.3" height="17.12" fill="#490404"/>
<rect x="360" y="598.07" width="8.3" height="17.12" fill="#080404"/>
<rect x="360" y="614.88" width="8.3" height="17.12" fill="#040403"/>
<rect x="368" y="530.8" width="7.3" height="17.12" fill="#082708"/>
<rect x="368" y="547.62" width="7.3" height="17.12" fill="#082f08"/>
<rect x="368" y="564.43" width="7.3" height="17.12" fill="#560606"/>
<rect x="368" y="581.25" width="7.3" height="17.12" fill="#490404"/>
<rect x="368" y="598.07" width="7.3" height="17.12" fill="#270404"/>
<rect x="368" y="614.88" width="7.3" height="17.12" fill="#040403"/>
<rect x="375" y="530.8" width="29.3" height="17.12" fill="#082708"/>
<rect x="375" y="547.62" width="29.3" height="17.12" fill="#082f08"/>
<rect x="375" y="564.43" width="29.3" height="17.12" fill="#560606"/>
<rect x="375" y="581.25" width="29.3" height="17.12" fill="#490404"/>
<rect x="375" y="598.07" width="29.3" height="17.12" fill="#040404"/>
<rect x="375" y="614.88" width="29.3" height="17.12" fill="#040403"/>
<rect x="404" y="530.8" width="6.3" height="17.12" fill="#082708"/>
<rect x="404" y="547.62" width="6.3" height="17.12" fill="#082708"/>
<rect x="404" y="564.43" width="6.3" height="17.12" fill="#5b0808"/>
<rect x="404" y="581.25" width="6.3" height="17.12" fill="#760909"/>
<rect x="404" y="598.07" width="6.3" height="17.12" fill="#081a08"/>
<rect x="404" y="614.88" width="6.3" height="17.12" fill="#1a0303"/>
<rect x="410" y="530.8" width="6.3" height="17.12" fill="#082708"/>
<rect x="410" y="547.62" width="6.3" height="17.12" fill="#082708"/>
<rect x="410" y="564.43" width="6.3" height="17.12" fill="#5b0808"/>
<rect x="410" y="581.25" width="6.3" height="17.12" fill="#5b0808"/>
<rect x="410" y="598.07" width="6.3" height="17.12" fill="#081a08"/>
<rect x="410" y="614.88" width="6.3" height="17.12" fill="#340404"/>
<rect x="416" y="530.8" width="9.3" height="17.12" fill="#082708"/>
<rect x="416" y="547.62" width="9.3" height="17.12" fill="#082708"/>
<rect x="416" y="564.43" width="9.3" height="17.12" fill="#5b0808"/>
<rect x="416" y="581.25" width="9.3" height="17.12" fill="#760d0d"/>
<rect x="416" y="598.07" width="9.3" height="17.12" fill="#081a08"/>
<rect x="416" y="614.88" width="9.3" height="17.12" fill="#1a0303"/>
<rect x="425" y="530.8" width="5.3" height="17.12" fill="#082708"/>
<rect x="425" y="547.62" width="5.3" height="17.12" fill="#082708"/>
<rect x="425" y="564.43" width="5.3" height="17.12" fill="#5b0808"/>
<rect x="425" y="581.25" width="5.3" height="17.12" fill="#270404"/>
<rect x="425" y="598.07" width="5.3" height="17.12" fill="#0d3c0d"/>
<rect x="425" y="614.88" width="5.3" height="17.12" fill="#1a0303"/>
<rect x="430" y="530.8" width="10.3" height="17.12" fill="#082708"/>
<rect x="430" y="547.62" width="10.3" height="17.12" fill="#155615"/>
<rect x="430" y="564.43" width="10.3" height="17.12" fill="#5b0808"/>
<rect x="430" y="581.25" width="10.3" height="17.12" fill="#5b0808"/>
<rect x="430" y="598.07" width="10.3" height="17.12" fill="#0d3c0d"/>
<rect x="430" y="614.88" width="10.3" height="17.12" fill="#270404"/>
<rect x="440" y="530.8" width="7.3" height="17.12" fill="#082708"/>
<rect x="440" y="547.62" width="7.3" height="17.12" fill="#082708"/>
<rect x="440" y="564.43" width="7.3" height="17.12" fill="#5b0808"/>
<rect x="440" y="581.25" width="7.3" height="17.12" fill="#5b0808"/>
<rect x="440" y="598.07" width="7.3" height="17.12" fill="#081a08"/>
<rect x="440" y="614.88" width="7.3" height="17.12" fill="#1a0303"/>
<rect x="447" y="530.8" width="11.3" height="17.12" fill="#082708"/>
<rect x="447" y="547.62" width="11.3" height="17.12" fill="#082708"/>
<rect x="447" y="564.43" width="11.3" height="17.12" fill="#5b0808"/>
<rect x="447" y="581.25" width="11.3" height="17.12" fill="#4e0606"/>
<rect x="447" y="598.07" width="11.3" height="17.12" fill="#080d06"/>
<rect x="447" y="614.88" width="11.3" height="17.12" fill="#1a0303"/>
<rect x="458" y="530.8" width="7.3" height="17.12" fill="#082708"/>
<rect x="458" y="547.62" width="7.3" height="17.12" fill="#082708"/>
<rect x="458" y="564.43" width="7.3" height="17.12" fill="#5b0808"/>
<rect x="458" y="581.25" width="7.3" height="17.12" fill="#1a0303"/>
<rect x="458" y="598.07" width="7.3" height="17.12" fill="#080d06"/>
<rect x="458" y="614.88" width="7.3" height="17.12" fill="#1a0303"/>
<rect x="465" y="530.8" width="5.3" height="17.12" fill="#0d490d"/>
<rect x="465" y="547.62" width="5.3" height="17.12" fill="#082708"/>
<rect x="465" y="564.43" width="5.3" height="17.12" fill="#5b0808"/>
<rect x="465" y="581.25" width="5.3" height="17.12" fill="#830d0d"/>
<rect x="465" y="598.07" width="5.3" height="17.12" fill="#091a09"/>
<rect x="465" y="614.88" width="5.3" height="17.12" fill="#0d0303"/>
<rect x="470" y="530.8" width="5.3" height="17.12" fill="#092f09"/>
<rect x="470" y="547.62" width="5.3" height="17.12" fill="#080803"/>
<rect x="470" y="564.43" width="5.3" height="17.12" fill="#5b0808"/>
<rect x="470" y="581.25" width="5.3" height="17.12" fill="#830d0d"/>
<rect x="470" y="598.07" width="5.3" height="17.12" fill="#080d06"/>
<rect x="470" y="614.88" width="5.3" height="17.12" fill="#0d0303"/>
<rect x="475" y="530.8" width="15.3" height="17.12" fill="#092f09"/>
<rect x="475" y="547.62" width="15.3" height="17.12" fill="#093109"/>
<rect x="475" y="564.43" width="15.3" height="17.12" fill="#4e0606"/>
<rect x="475" y="581.25" width="15.3" height="17.12" fill="#aa1313"/>
<rect x="475" y="598.07" width="15.3" height="17.12" fill="#080d06"/>
<rect x="475" y="614.88" width="15.3" height="17.12" fill="#080403"/>
<rect x="490" y="530.8" width="22.3" height="17.12" fill="#082708"/>
<rect x="490" y="547.62" width="22.3" height="17.12" fill="#082708"/>
<rect x="490" y="564.43" width="22.3" height="17.12" fill="#830d0d"/>
<rect x="490" y="581.25" width="22.3" height="17.12" fill="#760909"/>
<rect x="490" y="598.07" width="22.3" height="17.12" fill="#080803"/>
<rect x="490" y="614.88" width="22.3" height="17.12" fill="#060403"/>
<path d="M363.29 614.88h0.92v16.82h-0.92zM389.75 614.88h1.19v16.82h-1.19zM326.92 581.25h1.3v16.82h-1.3zM216.85 530.8h1.41v16.82h-1.41zM163.64 581.25h1.38v16.82h-1.38zM268.44 530.8h1.12v16.82h-1.12zM124.44 547.62h0.97v16.82h-0.97zM190.62 581.25h0.74v16.82h-0.74zM431.54 547.62h1.16v16.82h-1.16zM293.54 547.62h0.6v16.82h-0.6zM460.63 547.62h1.3v16.82h-1.3zM495.38 547.62h1.39v16.82h-1.39zM232.62 547.62h1.09v16.82h-1.09zM384.81 547.62h0.76v16.82h-0.76zM498.68 547.62h1.47v16.82h-1.47zM469.38 564.43h0.62v16.82h-0.62zM281.82 547.62h0.84v16.82h-0.84zM249.29 598.07h1.13v16.82h-1.13zM352.74 614.88h0.9v16.82h-0.9zM240.71 564.43h1.03v16.82h-1.03zM243 581.25h1.03v16.82h-1.03zM188.29 564.43h1.48v16.82h-1.48zM128.26 614.88h0.92v16.82h-0.92zM277.66 598.07h1.31v16.82h-1.31zM262.73 598.07h1.36v16.82h-1.36zM296.67 614.88h0.76v16.82h-0.76zM493.44 547.62h0.71v16.82h-0.71zM215.69 581.25h0.91v16.82h-0.91zM258.27 598.07h0.83v16.82h-0.83zM300.6 598.07h1.27v16.82h-1.27zM431.57 564.43h0.63v16.82h-0.63zM489.77 530.8h0.79v16.82h-0.79zM320.2 564.43h1.43v16.82h-1.43zM252.46 614.88h1.09v16.82h-1.09zM241.69 564.43h0.88v16.82h-0.88zM432.18 614.88h0.73v16.82h-0.73zM389.25 581.25h0.75v16.82h-0.75zM138.32 598.07h1.08v16.82h-1.08zM278.29 547.62h1.27v16.82h-1.27zM253.98 564.43h1.01v16.82h-1.01zM284.5 530.8h1.48v16.82h-1.48zM369.33 581.25h0.9v16.82h-0.9zM200.41 614.88h1.11v16.82h-1.11zM171.31 581.25h0.7v16.82h-0.7zM289.52 547.62h0.65v16.82h-0.65zM284.07 547.62h1.01v16.82h-1.01zM510.73 547.62h1.48v16.82h-1.48zM296.95 581.25h1.22v16.82h-1.22zM243.74 564.43h0.86v16.82h-0.86zM277.46 547.62h0.7v16.82h-0.7zM441.3 598.07h1.46v16.82h-1.46zM364.88 581.25h1.38v16.82h-1.38zM189.85 581.25h0.85v16.82h-0.85zM425.62 598.07h0.93v16.82h-0.93zM427.19 564.43h1.23v16.82h-1.23zM379.4 564.43h0.93v16.82h-0.93zM395.24 564.43h1.35v16.82h-1.35zM223.05 614.88h1.24v16.82h-1.24zM494.11 564.43h1.18v16.82h-1.18zM346.74 530.8h1.03v16.82h-1.03zM422.36 564.43h1.2v16.82h-1.2zM300.63 598.07h1.18v16.82h-1.18zM431.73 564.43h0.85v16.82h-0.85zM254.66 581.25h0.92v16.82h-0.92zM449.46 614.88h1v16.82h-1zM261.99 564.43h1.07v16.82h-1.07zM326.64 547.62h0.78v16.82h-0.78zM261.11 581.25h0.85v16.82h-0.85zM150.18 614.88h1.26v16.82h-1.26zM186.6 598.07h1.06v16.82h-1.06zM486.1 564.43h1.16v16.82h-1.16zM422.75 614.88h0.84v16.82h-0.84zM509.44 547.62h0.74v16.82h-0.74zM292.07 614.88h0.76v16.82h-0.76zM416.6 547.62h1.17v16.82h-1.17zM135.7 581.25h1.48v16.82h-1.48zM184.22 547.62h0.7v16.82h-0.7zM498.46 581.25h0.77v16.82h-0.77zM133.27 581.25h0.92v16.82h-0.92zM378.81 530.8h1.13v16.82h-1.13zM212.46 564.43h0.6v16.82h-0.6zM278.09 564.43h1.37v16.82h-1.37zM458.67 614.88h1.35v16.82h-1.35zM265.75 530.8h1.09v16.82h-1.09zM237.35 564.43h1.09v16.82h-1.09zM252.23 598.07h0.86v16.82h-0.86zM257.03 547.62h0.98v16.82h-0.98zM437.75 614.88h1.08v16.82h-1.08zM302.41 547.62h1.14v16.82h-1.14zM340.16 547.62h1.47v16.82h-1.47zM357.69 564.43h1.34v16.82h-1.34zM378.47 581.25h0.7v16.82h-0.7zM340.93 598.07h1.09v16.82h-1.09zM246.77 598.07h0.94v16.82h-0.94zM288.39 547.62h1.04v16.82h-1.04zM307.15 614.88h0.94v16.82h-0.94zM495.78 547.62h1.14v16.82h-1.14zM221.07 564.43h1.05v16.82h-1.05zM282.05 564.43h1.45v16.82h-1.45zM239.74 564.43h0.73v16.82h-0.73zM128.61 614.88h1.16v16.82h-1.16zM293.01 564.43h0.64v16.82h-0.64zM172.74 581.25h0.61v16.82h-0.61zM327.91 564.43h0.82v16.82h-0.82zM305.07 530.8h0.82v16.82h-0.82zM224.15 547.62h1.25v16.82h-1.25zM231.22 581.25h1.15v16.82h-1.15zM305.21 614.88h1.38v16.82h-1.38zM464.25 530.8h0.61v16.82h-0.61zM168.67 564.43h1.08v16.82h-1.08zM250.96 564.43h1.26v16.82h-1.26zM129.73 564.43h0.92v16.82h-0.92zM411.12 598.07h0.72v16.82h-0.72zM120.41 598.07h1.01v16.82h-1.01zM478.32 614.88h1.09v16.82h-1.09zM125 581.25h1.14v16.82h-1.14zM389.19 614.88h1.18v16.82h-1.18zM455.65 581.25h1.03v16.82h-1.03zM386.57 614.88h0.78v16.82h-0.78zM235.42 530.8h0.87v16.82h-0.87zM120.56 581.25h1.12v16.82h-1.12zM373.28 581.25h1.42v16.82h-1.42zM175.19 581.25h1.23v16.82h-1.23zM467.4 564.43h1.08v16.82h-1.08zM285.99 598.07h1.33v16.82h-1.33zM146.1 547.62h0.84v16.82h-0.84zM152.67 530.8h1.2v16.82h-1.2zM129.31 614.88h0.99v16.82h-0.99zM146.21 581.25h1.23v16.82h-1.23zM138.45 530.8h0.8v16.82h-0.8zM372.24 530.8h1.24v16.82h-1.24zM172.03 564.43h1.24v16.82h-1.24zM290.85 547.62h1.15v16.82h-1.15zM281.44 547.62h0.66v16.82h-0.66zM202.79 598.07h0.7v16.82h-0.7zM267.83 530.8h0.85v16.82h-0.85zM343 530.8h1.27v16.82h-1.27zM463.39 547.62h0.61v16.82h-0.61zM155.12 614.88h1.14v16.82h-1.14zM311.07 614.88h0.94v16.82h-0.94zM141.14 614.88h0.87v16.82h-0.87zM342.04 614.88h1.06v16.82h-1.06zM475.91 598.07h1.09v16.82h-1.09zM205.71 530.8h1.1v16.82h-1.1zM218.87 564.43h1.07v16.82h-1.07zM171.7 547.62h1.38v16.82h-1.38zM296.87 581.25h0.76v16.82h-0.76zM398.7 614.88h0.91v16.82h-0.91zM343.83 530.8h0.68v16.82h-0.68zM168.18 598.07h1.01v16.82h-1.01zM272.01 581.25h1.03v16.82h-1.03zM245.93 598.07h0.63v16.82h-0.63zM403.29 530.8h1.36v16.82h-1.36zM489.31 581.25h1.21v16.82h-1.21zM206.68 530.8h0.68v16.82h-0.68zM476.3 581.25h1.34v16.82h-1.34zM174.05 598.07h0.94v16.82h-0.94zM446.69 564.43h0.9v16.82h-0.9zM359.71 564.43h1.32v16.82h-1.32zM267.42 614.88h1.35v16.82h-1.35zM373.08 614.88h0.99v16.82h-0.99zM452.86 598.07h0.63v16.82h-0.63zM508.29 547.62h1.27v16.82h-1.27zM274.22 530.8h0.63v16.82h-0.63zM192.29 547.62h0.64v16.82h-0.64zM467.62 581.25h1.2v16.82h-1.2zM255.81 581.25h1.02v16.82h-1.02zM467.83 598.07h1.43v16.82h-1.43zM245.92 581.25h0.69v16.82h-0.69zM179.89 547.62h0.66v16.82h-0.66zM459.71 581.25h0.74v16.82h-0.74zM218.82 564.43h1.34v16.82h-1.34zM413.22 614.88h0.81v16.82h-0.81zM308.11 530.8h0.91v16.82h-0.91zM413.86 564.43h1.44v16.82h-1.44zM388.68 614.88h1.01v16.82h-1.01zM451.77 547.62h0.71v16.82h-0.71zM381.18 564.43h1.01v16.82h-1.01zM213.29 547.62h0.63v16.82h-0.63zM399.29 598.07h0.81v16.82h-0.81zM149.93 581.25h1.42v16.82h-1.42zM396.12 614.88h0.88v16.82h-0.88zM302.63 564.43h0.66v16.82h-0.66zM508.5 581.25h0.75v16.82h-0.75zM213.52 614.88h0.79v16.82h-0.79zM136.5 598.07h0.99v16.82h-0.99zM501.38 530.8h1.02v16.82h-1.02zM296.75 614.88h0.97v16.82h-0.97zM136.91 598.07h1.35v16.82h-1.35zM447.26 598.07h0.92v16.82h-0.92zM156.05 530.8h0.81v16.82h-0.81zM433.91 530.8h1.44v16.82h-1.44zM140.36 547.62h1.18v16.82h-1.18zM314.14 530.8h0.64v16.82h-0.64zM445.75 581.25h0.88v16.82h-0.88zM139.41 530.8h1.46v16.82h-1.46zM195.48 614.88h1.06v16.82h-1.06zM276.9 598.07h0.81v16.82h-0.81zM482.38 530.8h0.68v16.82h-0.68zM505.19 547.62h1.14v16.82h-1.14zM454.9 547.62h1.16v16.82h-1.16zM292.12 564.43h1.04v16.82h-1.04zM343.13 581.25h1.07v16.82h-1.07zM171.29 530.8h1.42v16.82h-1.42zM239.79 581.25h1.4v16.82h-1.4zM510.88 598.07h0.7v16.82h-0.7zM241.4 530.8h1.3v16.82h-1.3zM222.51 581.25h0.88v16.82h-0.88zM170.15 530.8h1.02v16.82h-1.02zM392.38 581.25h1.47v16.82h-1.47zM380.29 564.43h0.66v16.82h-0.66zM393.73 530.8h1.23v16.82h-1.23zM431.16 564.43h1.4v16.82h-1.4zM147.45 564.43h0.94v16.82h-0.94zM420.62 530.8h1.41v16.82h-1.41zM375.51 547.62h1.12v16.82h-1.12zM292.5 614.88h1.19v16.82h-1.19zM493.28 614.88h0.64v16.82h-0.64zM286.79 530.8h1.33v16.82h-1.33zM269.09 547.62h0.89v16.82h-0.89zM239.33 547.62h0.84v16.82h-0.84zM384.05 564.43h0.63v16.82h-0.63zM331.75 614.88h1.1v16.82h-1.1zM130.06 530.8h1.47v16.82h-1.47zM443.03 581.25h1.37v16.82h-1.37zM491.11 598.07h0.61v16.82h-0.61zM325.9 547.62h0.93v16.82h-0.93zM248.71 530.8h0.75v16.82h-0.75zM361.84 547.62h1.25v16.82h-1.25zM156.63 598.07h1.15v16.82h-1.15zM366.29 547.62h1v16.82h-1zM486.93 581.25h0.71v16.82h-0.71zM243.5 547.62h1.01v16.82h-1.01zM289.36 581.25h0.64v16.82h-0.64zM380.95 547.62h1.08v16.82h-1.08zM499.12 598.07h0.6v16.82h-0.6zM169 581.25h1.22v16.82h-1.22zM200.6 530.8h0.63v16.82h-0.63zM345.31 581.25h1.23v16.82h-1.23zM258.07 581.25h0.79v16.82h-0.79zM227.82 547.62h0.87v16.82h-0.87zM321.35 547.62h0.93v16.82h-0.93zM436.12 614.88h1.36v16.82h-1.36zM452.18 598.07h1.04v16.82h-1.04zM256.07 547.62h1.35v16.82h-1.35zM311.28 530.8h0.68v16.82h-0.68zM274.8 614.88h0.85v16.82h-0.85zM480.01 564.43h1.03v16.82h-1.03zM303.46 598.07h1.16v16.82h-1.16zM432.81 581.25h1.22v16.82h-1.22zM159.86 598.07h1.13v16.82h-1.13zM191.66 581.25h0.62v16.82h-0.62zM384.84 598.07h0.88v16.82h-0.88zM269.26 581.25h1.09v16.82h-1.09zM389.81 581.25h1.48v16.82h-1.48zM438.74 614.88h1.1v16.82h-1.1zM143.25 547.62h1.32v16.82h-1.32zM261.41 598.07h0.62v16.82h-0.62zM420.89 547.62h0.86v16.82h-0.86zM149.75 530.8h1.3v16.82h-1.3z" fill="#000" opacity="0.4"/>
<rect x="358.5" y="614.88" width="1.28" height="16.82" fill="#0c0c04" opacity="0.7"/>
<rect x="124.96" y="614.88" width="0.63" height="16.82" fill="#31ff31" opacity="0.7"/>
<rect x="153.9" y="564.43" width="1.08" height="16.82" fill="#105510" opacity="0.7"/>
<rect x="447.64" y="614.88" width="0.99" height="16.82" fill="#2b0505" opacity="0.7"/>
<rect x="308.53" y="530.8" width="0.77" height="16.82" fill="#105e10" opacity="0.7"/>
<rect x="501.08" y="598.07" width="1.28" height="16.82" fill="#0c0c04" opacity="0.7"/>
<rect x="382.19" y="581.25" width="1.06" height="16.82" fill="#6f0606" opacity="0.7"/>
<rect x="471.65" y="614.88" width="0.87" height="16.82" fill="#160505" opacity="0.7"/>
<rect x="161.96" y="614.88" width="1.08" height="16.82" fill="#2e0505" opacity="0.7"/>
<rect x="504.65" y="547.62" width="0.75" height="16.82" fill="#0e460e" opacity="0.7"/>
<rect x="239" y="564.43" width="0.65" height="16.82" fill="#0f3c0f" opacity="0.7"/>
<rect x="491.61" y="530.8" width="1.14" height="16.82" fill="#0d420d" opacity="0.7"/>
<rect x="207.29" y="530.8" width="1.04" height="16.82" fill="#0d350d" opacity="0.7"/>
<rect x="369.96" y="598.07" width="0.89" height="16.82" fill="#430606" opacity="0.7"/>
<rect x="285.93" y="598.07" width="0.77" height="16.82" fill="#1b6d1b" opacity="0.7"/>
<rect x="283.14" y="530.8" width="1.28" height="16.82" fill="#410606" opacity="0.7"/>
<rect x="192.64" y="530.8" width="0.81" height="16.82" fill="#090c06" opacity="0.7"/>
<rect x="336.7" y="598.07" width="0.73" height="16.82" fill="#270404" opacity="0.7"/>
<rect x="352.17" y="614.88" width="0.83" height="16.82" fill="#b70f0f" opacity="0.7"/>
<rect x="149.15" y="581.25" width="0.96" height="16.82" fill="#1f811f" opacity="0.7"/>
<rect x="147.81" y="547.62" width="1.05" height="16.82" fill="#103c10" opacity="0.7"/>
<rect x="482.29" y="547.62" width="1.03" height="16.82" fill="#105810" opacity="0.7"/>
<rect x="431.81" y="530.8" width="1.07" height="16.82" fill="#0b380b" opacity="0.7"/>
<rect x="163.01" y="564.43" width="1.03" height="16.82" fill="#0c3a0c" opacity="0.7"/>
<rect x="160.39" y="581.25" width="1.17" height="16.82" fill="#0f510f" opacity="0.7"/>
<rect x="434.11" y="614.88" width="0.98" height="16.82" fill="#460707" opacity="0.7"/>
<rect x="346.65" y="530.8" width="1.17" height="16.82" fill="#0c330c" opacity="0.7"/>
<rect x="195.88" y="564.43" width="0.92" height="16.82" fill="#0c0c04" opacity="0.7"/>
<rect x="385.85" y="614.88" width="0.77" height="16.82" fill="#070705" opacity="0.7"/>
<rect x="488.05" y="581.25" width="0.68" height="16.82" fill="#ff1e1e" opacity="0.7"/>
<rect x="353.18" y="564.43" width="0.6" height="16.82" fill="#460606" opacity="0.7"/>
<rect x="268.56" y="564.43" width="0.65" height="16.82" fill="#070e05" opacity="0.7"/>
<rect x="416.91" y="614.88" width="0.61" height="16.82" fill="#2d0505" opacity="0.7"/>
<rect x="436.4" y="564.43" width="0.74" height="16.82" fill="#9f0e0e" opacity="0.7"/>
<rect x="253.9" y="547.62" width="0.95" height="16.82" fill="#200404" opacity="0.7"/>
<rect x="392.26" y="530.8" width="0.81" height="16.82" fill="#0d410d" opacity="0.7"/>
<rect x="251.28" y="530.8" width="0.64" height="16.82" fill="#0d0d04" opacity="0.7"/>
<rect x="284.11" y="547.62" width="1.1" height="16.82" fill="#5d0909" opacity="0.7"/>
<rect x="176.42" y="530.8" width="0.9" height="16.82" fill="#080a06" opacity="0.7"/>
<rect x="189.77" y="581.25" width="0.77" height="16.82" fill="#0e0e05" opacity="0.7"/>
<rect x="296.53" y="547.62" width="0.6" height="16.82" fill="#450707" opacity="0.7"/>
<rect x="419.31" y="564.43" width="0.61" height="16.82" fill="#a10e0e" opacity="0.7"/>
<rect x="339.56" y="581.25" width="0.65" height="16.82" fill="#460707" opacity="0.7"/>
<rect x="499.84" y="547.62" width="0.91" height="16.82" fill="#0e470e" opacity="0.7"/>
<rect x="304.14" y="530.8" width="1.02" height="16.82" fill="#0e0e05" opacity="0.7"/>
<rect x="448.01" y="581.25" width="0.64" height="16.82" fill="#800909" opacity="0.7"/>
<rect x="273.13" y="598.07" width="1.02" height="16.82" fill="#0e3f0e" opacity="0.7"/>
<rect x="472.75" y="614.88" width="1.01" height="16.82" fill="#160505" opacity="0.7"/>
<rect x="203.75" y="581.25" width="0.89" height="16.82" fill="#3b0707" opacity="0.7"/>
<rect x="461.73" y="581.25" width="0.86" height="16.82" fill="#2f0505" opacity="0.7"/>
<rect x="510.63" y="547.62" width="0.7" height="16.82" fill="#0e460e" opacity="0.7"/>
<rect x="425.19" y="581.25" width="0.65" height="16.82" fill="#450707" opacity="0.7"/>
<rect x="264.03" y="581.25" width="0.79" height="16.82" fill="#0c0c04" opacity="0.7"/>
<rect x="303.34" y="564.43" width="1.04" height="16.82" fill="#4b0808" opacity="0.7"/>
<rect x="420.62" y="581.25" width="1.08" height="16.82" fill="#ae1313" opacity="0.7"/>
<rect x="133.37" y="581.25" width="0.74" height="16.82" fill="#170705" opacity="0.7"/>
<rect x="126.54" y="581.25" width="1.02" height="16.82" fill="#104710" opacity="0.7"/>
<rect x="172.7" y="547.62" width="0.86" height="16.82" fill="#39d539" opacity="0.7"/>
<rect x="361.74" y="530.8" width="0.9" height="16.82" fill="#0c3b0c" opacity="0.7"/>
<rect x="223.77" y="614.88" width="1.14" height="16.82" fill="#4b0606" opacity="0.7"/>
<rect x="178.83" y="598.07" width="1.22" height="16.82" fill="#0e0e05" opacity="0.7"/>
<rect x="337.7" y="564.43" width="1.05" height="16.82" fill="#1c0404" opacity="0.7"/>
<rect x="266.18" y="564.43" width="0.98" height="16.82" fill="#070e05" opacity="0.7"/>
<rect x="292.97" y="547.62" width="0.7" height="16.82" fill="#470707" opacity="0.7"/>
<rect x="126.16" y="530.8" width="0.69" height="16.82" fill="#510a0a" opacity="0.7"/>
<rect x="307.77" y="614.88" width="0.61" height="16.82" fill="#0b0b04" opacity="0.7"/>
<rect x="202.07" y="547.62" width="1.03" height="16.82" fill="#156315" opacity="0.7"/>
<rect x="429.88" y="530.8" width="0.77" height="16.82" fill="#0e450e" opacity="0.7"/>
<rect x="390.45" y="564.43" width="0.99" height="16.82" fill="#970a0a" opacity="0.7"/>
<rect x="291.48" y="530.8" width="1.25" height="16.82" fill="#0d0d05" opacity="0.7"/>
<rect x="264.41" y="598.07" width="1.01" height="16.82" fill="#0e3c0e" opacity="0.7"/>
<rect x="352.06" y="581.25" width="0.81" height="16.82" fill="#5f0b0b" opacity="0.7"/>
<rect x="184.57" y="614.88" width="0.91" height="16.82" fill="#0b0804" opacity="0.7"/>
<rect x="407.67" y="598.07" width="0.67" height="16.82" fill="#0d2c0d" opacity="0.7"/>
<rect x="320.4" y="598.07" width="0.89" height="16.82" fill="#bc1919" opacity="0.7"/>
<rect x="297.99" y="530.8" width="1" height="16.82" fill="#0d0d04" opacity="0.7"/>
<rect x="200.52" y="581.25" width="1.12" height="16.82" fill="#310505" opacity="0.7"/>
<rect x="165.08" y="547.62" width="0.84" height="16.82" fill="#090e06" opacity="0.7"/>
<rect x="438.59" y="581.25" width="1.12" height="16.82" fill="#a00e0e" opacity="0.7"/>
<rect x="221.97" y="530.8" width="0.87" height="16.82" fill="#060d05" opacity="0.7"/>
<rect x="365.61" y="547.62" width="1.01" height="16.82" fill="#0d510d" opacity="0.7"/>
<rect x="462.13" y="547.62" width="1" height="16.82" fill="#0d410d" opacity="0.7"/>
<rect x="472.49" y="564.43" width="0.61" height="16.82" fill="#980d0d" opacity="0.7"/>
<rect x="136.26" y="598.07" width="1.21" height="16.82" fill="#150606" opacity="0.7"/>
<rect x="134.88" y="598.07" width="0.89" height="16.82" fill="#140606" opacity="0.7"/>
<rect x="327.38" y="581.25" width="0.76" height="16.82" fill="#160505" opacity="0.7"/>
<rect x="491.03" y="530.8" width="1.1" height="16.82" fill="#0d430d" opacity="0.7"/>
<rect x="351.07" y="530.8" width="0.92" height="16.82" fill="#0b2f0b" opacity="0.7"/>
<rect x="373.46" y="598.07" width="0.65" height="16.82" fill="#430606" opacity="0.7"/>
<rect x="371.21" y="564.43" width="1.13" height="16.82" fill="#800808" opacity="0.7"/>
<rect x="220.61" y="564.43" width="1.22" height="16.82" fill="#090c04" opacity="0.7"/>
<rect x="245.74" y="614.88" width="0.93" height="16.82" fill="#0e0e05" opacity="0.7"/>
<rect x="180.18" y="547.62" width="0.82" height="16.82" fill="#0a0e07" opacity="0.7"/>
<rect x="358.91" y="581.25" width="0.85" height="16.82" fill="#ff2f2f" opacity="0.7"/>
<rect x="150.29" y="581.25" width="0.96" height="16.82" fill="#0e4c0e" opacity="0.7"/>
<rect x="273.9" y="547.62" width="0.94" height="16.82" fill="#300606" opacity="0.7"/>
<rect x="388.47" y="581.25" width="0.84" height="16.82" fill="#850707" opacity="0.7"/>
<rect x="125.98" y="581.25" width="0.95" height="16.82" fill="#0e3c0e" opacity="0.7"/>
<rect x="329.3" y="547.62" width="1.06" height="16.82" fill="#0d150a" opacity="0.7"/>
<rect x="283.66" y="564.43" width="0.81" height="16.82" fill="#0e2e0e" opacity="0.7"/>
<rect x="161.54" y="564.43" width="1.19" height="16.82" fill="#0c3f0c" opacity="0.7"/>
<rect x="321.52" y="581.25" width="1.05" height="16.82" fill="#6e0a0a" opacity="0.7"/>
<rect x="493.85" y="530.8" width="0.68" height="16.82" fill="#0d430d" opacity="0.7"/>
<rect x="156.88" y="614.88" width="1.13" height="16.82" fill="#8e1414" opacity="0.7"/>
<rect x="189.35" y="598.07" width="1.05" height="16.82" fill="#0c0c04" opacity="0.7"/>
<rect x="402.89" y="564.43" width="1.2" height="16.82" fill="#800808" opacity="0.7"/>
<rect x="464.97" y="564.43" width="1.1" height="16.82" fill="#860b0b" opacity="0.7"/>
<rect x="280.11" y="581.25" width="0.81" height="16.82" fill="#0d320d" opacity="0.7"/>
<rect x="189.86" y="530.8" width="1.23" height="16.82" fill="#080a07" opacity="0.7"/>
<rect x="317.65" y="530.8" width="0.65" height="16.82" fill="#0d3f0d" opacity="0.7"/>
<rect x="284.49" y="598.07" width="1.06" height="16.82" fill="#1a6c1a" opacity="0.7"/>
<rect x="386.3" y="564.43" width="1.26" height="16.82" fill="#9c0a0a" opacity="0.7"/>
<rect x="301.88" y="530.8" width="0.77" height="16.82" fill="#0c0c04" opacity="0.7"/>
<rect x="360.21" y="530.8" width="1.29" height="16.82" fill="#0b390b" opacity="0.7"/>
<rect x="331.89" y="581.25" width="0.81" height="16.82" fill="#3a0505" opacity="0.7"/>
<rect x="297.09" y="581.25" width="1.22" height="16.82" fill="#981313" opacity="0.7"/>
<rect x="503.71" y="547.62" width="1.04" height="16.82" fill="#0c3e0c" opacity="0.7"/>
<rect x="479.17" y="564.43" width="1.1" height="16.82" fill="#8c0a0a" opacity="0.7"/>
<rect x="147.18" y="564.43" width="1.26" height="16.82" fill="#176e17" opacity="0.7"/>
<rect x="301.83" y="581.25" width="1.16" height="16.82" fill="#640a0a" opacity="0.7"/>
<rect x="368.24" y="564.43" width="1.12" height="16.82" fill="#860909" opacity="0.7"/>
<rect x="219.67" y="581.25" width="1.1" height="16.82" fill="#1e0404" opacity="0.7"/>
<rect x="157.82" y="598.07" width="1.09" height="16.82" fill="#3b0909" opacity="0.7"/>
<rect x="404.86" y="530.8" width="0.76" height="16.82" fill="#0d3f0d" opacity="0.7"/>
<rect x="217.12" y="614.88" width="0.91" height="16.82" fill="#450505" opacity="0.7"/>
<rect x="362.01" y="614.88" width="1.09" height="16.82" fill="#060604" opacity="0.7"/>
<rect x="160.52" y="598.07" width="1.04" height="16.82" fill="#460a0a" opacity="0.7"/>
<rect x="392.6" y="598.07" width="0.69" height="16.82" fill="#060606" opacity="0.7"/>
<rect x="418.62" y="564.43" width="0.94" height="16.82" fill="#980d0d" opacity="0.7"/>
<rect x="449.27" y="598.07" width="0.8" height="16.82" fill="#0e170a" opacity="0.7"/>
<rect x="250.05" y="564.43" width="0.89" height="16.82" fill="#0d330d" opacity="0.7"/>
<rect x="281.72" y="547.62" width="0.74" height="16.82" fill="#5d0909" opacity="0.7"/>
<rect x="492.02" y="530.8" width="1.26" height="16.82" fill="#0b380b" opacity="0.7"/>
<rect x="241.68" y="581.25" width="0.89" height="16.82" fill="#0f500f" opacity="0.7"/>
<rect x="447.42" y="614.88" width="1.24" height="16.82" fill="#2a0404" opacity="0.7"/>
<rect x="324.64" y="564.43" width="1.03" height="16.82" fill="#870d0d" opacity="0.7"/>
<rect x="431.1" y="547.62" width="1.06" height="16.82" fill="#239023" opacity="0.7"/>
<rect x="330.44" y="581.25" width="1.19" height="16.82" fill="#160505" opacity="0.7"/>
<rect x="136.21" y="598.07" width="1.28" height="16.82" fill="#120505" opacity="0.7"/>
<rect x="407.94" y="547.62" width="1.2" height="16.82" fill="#0e470e" opacity="0.7"/>
<rect x="212.59" y="581.25" width="0.87" height="16.82" fill="#200505" opacity="0.7"/>
<rect x="371.84" y="547.62" width="1.24" height="16.82" fill="#0d500d" opacity="0.7"/>
<rect x="199.61" y="547.62" width="1.12" height="16.82" fill="#0d390d" opacity="0.7"/>
<rect x="316.63" y="581.25" width="0.76" height="16.82" fill="#6d0a0a" opacity="0.7"/>
<rect x="156.04" y="598.07" width="1.13" height="16.82" fill="#410a0a" opacity="0.7"/>
<rect x="293.42" y="614.88" width="1.22" height="16.82" fill="#165a16" opacity="0.7"/>
<rect x="327.15" y="530.8" width="0.64" height="16.82" fill="#33be33" opacity="0.7"/>
<rect x="124.97" y="547.62" width="0.92" height="16.82" fill="#3a0505" opacity="0.7"/>
<rect x="291.03" y="581.25" width="0.97" height="16.82" fill="#0e370e" opacity="0.7"/>
<rect x="129.01" y="614.88" width="1.04" height="16.82" fill="#38ff38" opacity="0.7"/>
<rect x="446.3" y="598.07" width="1.24" height="16.82" fill="#0d2b0d" opacity="0.7"/>
<rect x="452.85" y="547.62" width="1.22" height="16.82" fill="#0b380b" opacity="0.7"/>
<rect x="506.9" y="547.62" width="1.09" height="16.82" fill="#0e470e" opacity="0.7"/>
<rect x="198.02" y="598.07" width="0.66" height="16.82" fill="#0c0c04" opacity="0.7"/>
<rect x="205.55" y="530.8" width="0.64" height="16.82" fill="#0b2e0b" opacity="0.7"/>
<rect x="192.75" y="581.25" width="1.14" height="16.82" fill="#8a0e14" opacity="0.7"/>
<rect x="164.13" y="581.25" width="0.75" height="16.82" fill="#0f510f" opacity="0.7"/>
<rect x="277.01" y="581.25" width="1.27" height="16.82" fill="#0d330d" opacity="0.7"/>
<rect x="226.59" y="598.07" width="1.09" height="16.82" fill="#210505" opacity="0.7"/>
<rect x="456.27" y="614.88" width="0.66" height="16.82" fill="#280404" opacity="0.7"/>
<rect x="210.44" y="581.25" width="0.89" height="16.82" fill="#3c0707" opacity="0.7"/>
<rect x="377.73" y="614.88" width="1.18" height="16.82" fill="#060605" opacity="0.7"/>
<rect x="407.24" y="614.88" width="0.83" height="16.82" fill="#270404" opacity="0.7"/>
<rect x="217.36" y="614.88" width="0.63" height="16.82" fill="#540707" opacity="0.7"/>
<rect x="440.95" y="547.62" width="0.67" height="16.82" fill="#0c3e0c" opacity="0.7"/>
<rect x="356.51" y="564.43" width="1.04" height="16.82" fill="#ff2e2e" opacity="0.7"/>
<rect x="190.64" y="598.07" width="0.9" height="16.82" fill="#1f6e1f" opacity="0.7"/>
<rect x="160.4" y="530.8" width="0.93" height="16.82" fill="#0a0d05" opacity="0.7"/>
<rect x="443.89" y="564.43" width="1.22" height="16.82" fill="#9e0d0d" opacity="0.7"/>
<rect x="310.36" y="564.43" width="0.64" height="16.82" fill="#120404" opacity="0.7"/>
<rect x="355.03" y="581.25" width="1" height="16.82" fill="#500909" opacity="0.7"/>
<rect x="466.38" y="564.43" width="0.98" height="16.82" fill="#9a0d0d" opacity="0.7"/>
<rect x="186.16" y="581.25" width="1.28" height="16.82" fill="#0d0d05" opacity="0.7"/>
<rect x="125.77" y="581.25" width="1.17" height="16.82" fill="#0e3d0e" opacity="0.7"/>
<rect x="147.07" y="598.07" width="0.66" height="16.82" fill="#4d0909" opacity="0.7"/>
<rect x="375.84" y="564.43" width="1.11" height="16.82" fill="#7f0808" opacity="0.7"/>
<rect x="278.84" y="564.43" width="1.14" height="16.82" fill="#0c290c" opacity="0.7"/>
<rect x="135.63" y="614.88" width="0.69" height="16.82" fill="#3a0606" opacity="0.7"/>
<rect x="322.55" y="530.8" width="1.21" height="16.82" fill="#0e440e" opacity="0.7"/>
<rect x="386.26" y="530.8" width="0.96" height="16.82" fill="#0b390b" opacity="0.7"/>
<rect x="303.21" y="581.25" width="0.9" height="16.82" fill="#5e0909" opacity="0.7"/>
<rect x="360.61" y="598.07" width="1.07" height="16.82" fill="#0b0505" opacity="0.7"/>
<rect x="214.7" y="564.43" width="1.01" height="16.82" fill="#0a0e05" opacity="0.7"/>
<rect x="147.82" y="581.25" width="0.67" height="16.82" fill="#208620" opacity="0.7"/>
<rect x="254.74" y="581.25" width="0.84" height="16.82" fill="#0d450d" opacity="0.7"/>
<rect x="201.17" y="614.88" width="0.83" height="16.82" fill="#260404" opacity="0.7"/>
<rect x="444.49" y="581.25" width="1.08" height="16.82" fill="#8f0c0c" opacity="0.7"/>
<rect x="296.67" y="530.8" width="1.22" height="16.82" fill="#0d0d05" opacity="0.7"/>
<rect x="240.53" y="581.25" width="0.95" height="16.82" fill="#105310" opacity="0.7"/>
<rect x="255.12" y="598.07" width="0.96" height="16.82" fill="#0b260b" opacity="0.7"/>
<rect x="465.06" y="581.25" width="1.03" height="16.82" fill="#e01616" opacity="0.7"/>
<rect x="278.13" y="581.25" width="0.64" height="16.82" fill="#0d320d" opacity="0.7"/>
<rect x="245.73" y="530.8" width="0.86" height="16.82" fill="#0c0c04" opacity="0.7"/>
<rect x="355.61" y="598.07" width="0.61" height="16.82" fill="#740b0b" opacity="0.7"/>
<rect x="175.37" y="564.43" width="0.68" height="16.82" fill="#260404" opacity="0.7"/>
<rect x="415.19" y="530.8" width="0.66" height="16.82" fill="#0b390b" opacity="0.7"/>
<rect x="364.73" y="564.43" width="0.76" height="16.82" fill="#8b0909" opacity="0.7"/>
<rect x="289.1" y="564.43" width="0.83" height="16.82" fill="#0c270c" opacity="0.7"/>
<rect x="390.96" y="598.07" width="0.88" height="16.82" fill="#060606" opacity="0.7"/>
<rect x="301.93" y="581.25" width="0.72" height="16.82" fill="#6b0a0a" opacity="0.7"/>
<rect x="305.16" y="564.43" width="0.66" height="16.82" fill="#740a0a" opacity="0.7"/>
<rect x="290.74" y="564.43" width="1.15" height="16.82" fill="#3e0606" opacity="0.7"/>
<rect x="488.6" y="530.8" width="1.2" height="16.82" fill="#0e4b0e" opacity="0.7"/>
<rect x="509.82" y="547.62" width="1.16" height="16.82" fill="#0c3a0c" opacity="0.7"/>
<rect x="331.71" y="564.43" width="0.72" height="16.82" fill="#1d0404" opacity="0.7"/>
<rect x="280.55" y="614.88" width="0.78" height="16.82" fill="#165f16" opacity="0.7"/>
<rect x="361.93" y="581.25" width="0.96" height="16.82" fill="#840707" opacity="0.7"/>
<rect x="165.67" y="581.25" width="1.17" height="16.82" fill="#0d440d" opacity="0.7"/>
<rect x="377.43" y="547.62" width="1.21" height="16.82" fill="#0d510d" opacity="0.7"/>
<rect x="380.89" y="530.8" width="1.15" height="16.82" fill="#0e460e" opacity="0.7"/>
<rect x="239.33" y="564.43" width="0.84" height="16.82" fill="#0e350e" opacity="0.7"/>
<rect x="451.07" y="530.8" width="0.95" height="16.82" fill="#0b390b" opacity="0.7"/>
<rect x="226.37" y="598.07" width="1.24" height="16.82" fill="#1d0404" opacity="0.7"/>
<rect x="508.08" y="564.43" width="0.75" height="16.82" fill="#e71616" opacity="0.7"/>
<rect x="297.93" y="530.8" width="1.13" height="16.82" fill="#0d0d05" opacity="0.7"/>
<rect x="161.86" y="614.88" width="0.77" height="16.82" fill="#280404" opacity="0.7"/>
<rect x="144.88" y="530.8" width="1.23" height="16.82" fill="#0a0e07" opacity="0.7"/>
<rect x="348.24" y="564.43" width="0.78" height="16.82" fill="#520707" opacity="0.7"/>
<rect x="185.54" y="564.43" width="0.87" height="16.82" fill="#280404" opacity="0.7"/>
<rect x="213.71" y="581.25" width="1.14" height="16.82" fill="#210505" opacity="0.7"/>
<path d="M303.34 547.62h0.8v16.82h-0.8zM452.62 614.88h0.8v16.82h-0.8zM411.76 598.07h0.8v16.82h-0.8zM204.81 614.88h0.8v16.82h-0.8zM343.82 564.43h0.8v16.82h-0.8zM309.06 614.88h0.8v16.82h-0.8zM221.13 581.25h0.8v16.82h-0.8zM177.02 614.88h0.8v16.82h-0.8zM150.87 547.62h0.8v16.82h-0.8zM244.55 547.62h0.8v16.82h-0.8zM494.19 581.25h0.8v16.82h-0.8zM121.89 614.88h0.8v16.82h-0.8zM410.87 598.07h0.8v16.82h-0.8zM489.99 598.07h0.8v16.82h-0.8zM273.11 564.43h0.8v16.82h-0.8zM224.2 547.62h0.8v16.82h-0.8zM454.22 598.07h0.8v16.82h-0.8zM234.95 547.62h0.8v16.82h-0.8zM387.88 598.07h0.8v16.82h-0.8zM348.26 547.62h0.8v16.82h-0.8zM475.77 598.07h0.8v16.82h-0.8zM237.61 547.62h0.8v16.82h-0.8zM212.12 581.25h0.8v16.82h-0.8zM379.54 598.07h0.8v16.82h-0.8zM204.58 614.88h0.8v16.82h-0.8zM173.61 547.62h0.8v16.82h-0.8zM165.86 598.07h0.8v16.82h-0.8zM360.23 614.88h0.8v16.82h-0.8zM352.83 547.62h0.8v16.82h-0.8zM460.68 614.88h0.8v16.82h-0.8zM239.17 564.43h0.8v16.82h-0.8zM150.27 547.62h0.8v16.82h-0.8zM350.33 598.07h0.8v16.82h-0.8zM373.92 614.88h0.8v16.82h-0.8zM409.82 564.43h0.8v16.82h-0.8zM341.64 598.07h0.8v16.82h-0.8zM507.71 530.8h0.8v16.82h-0.8zM237.64 598.07h0.8v16.82h-0.8zM184.02 547.62h0.8v16.82h-0.8zM376.02 564.43h0.8v16.82h-0.8z" fill="#2a6a2a" opacity="0.25"/>
<path d="M267.73 581.25h0.8v16.82h-0.8zM453.01 598.07h0.8v16.82h-0.8zM371.82 547.62h0.8v16.82h-0.8zM195.28 598.07h0.8v16.82h-0.8zM338.76 547.62h0.8v16.82h-0.8zM409.74 598.07h0.8v16.82h-0.8zM483.17 530.8h0.8v16.82h-0.8zM477.08 547.62h0.8v16.82h-0.8zM234.72 530.8h0.8v16.82h-0.8zM197.05 614.88h0.8v16.82h-0.8zM182.53 581.25h0.8v16.82h-0.8zM443.16 564.43h0.8v16.82h-0.8zM150.4 564.43h0.8v16.82h-0.8zM241.39 530.8h0.8v16.82h-0.8zM364.08 530.8h0.8v16.82h-0.8zM355.76 564.43h0.8v16.82h-0.8zM435.06 581.25h0.8v16.82h-0.8zM292.47 564.43h0.8v16.82h-0.8zM145.65 581.25h0.8v16.82h-0.8zM309.33 547.62h0.8v16.82h-0.8zM278.35 614.88h0.8v16.82h-0.8zM505.68 598.07h0.8v16.82h-0.8zM143.5 581.25h0.8v16.82h-0.8zM359.34 530.8h0.8v16.82h-0.8zM198.13 614.88h0.8v16.82h-0.8zM220.44 598.07h0.8v16.82h-0.8zM387.33 564.43h0.8v16.82h-0.8zM288.28 598.07h0.8v16.82h-0.8zM384.39 547.62h0.8v16.82h-0.8zM481.8 614.88h0.8v16.82h-0.8zM442.8 614.88h0.8v16.82h-0.8zM481.19 598.07h0.8v16.82h-0.8zM359.85 598.07h0.8v16.82h-0.8zM377.89 564.43h0.8v16.82h-0.8zM414.76 547.62h0.8v16.82h-0.8zM282.64 581.25h0.8v16.82h-0.8zM324.46 614.88h0.8v16.82h-0.8zM188.27 581.25h0.8v16.82h-0.8zM307.78 581.25h0.8v16.82h-0.8zM292.82 598.07h0.8v16.82h-0.8z" fill="#901818" opacity="0.25"/>
</g>
<clipPath id="dclip"><rect x="119" y="482" width="393" height="45"/></clipPath>
<g clip-path="url(#dclip)"><path d="M120.47 496.21V512M121.83 497.36V512M120.47 496.21V494.58H121.83V497.36M123.18 497.9V512M124.46 499.98V512M125.59 501.42V512M124.46 499.98V498.64H125.59V501.42M123.18 497.9V496.69H125.02V498.64M126.45 498.35V512M127.4 497.96V512M126.45 498.35V496.68H127.4V497.96M124.1 496.69V494.47H126.93V496.68M121.15 494.58V492H125.51V494.47M128.41 503.61V512M129.12 508.03V512M129.91 506.88V512M129.12 508.03V505.26H129.91V506.88M128.41 503.61V502.33H129.51V505.26M130.91 507.97V512M131.71 508.26V512M130.91 507.97V505.6H131.71V508.26M132.29 505.33V512M131.31 505.6V502.62H132.29V505.33M128.96 502.33V500.45H131.8V502.62M133.13 504.7V512M134.14 506.56V512M135.16 506.73V512M134.14 506.56V504.63H135.16V506.73M133.13 504.7V501.65H134.65V504.63M136.12 506.93V512M137.37 510.37V512M138.5 510.36V512M137.37 510.37V508.18H138.5V510.36M136.12 506.93V505.54H137.94V508.18M139.35 509.33V512M140.37 509.47V512M139.35 509.33V507.02H140.37V509.47M141.13 507.51V512M142.05 507.87V512M141.13 507.51V505.97H142.05V507.87M139.86 507.02V504.32H141.59V505.97M137.03 505.54V502.35H140.73V504.32M133.89 501.65V499.5H138.88V502.35M130.38 500.45V497.39H136.38V499.5M143.44 509.34V512M144.5 510.5V512M143.44 509.34V507.32H144.5V510.5M145.53 507.77V512M143.97 507.32V504.77H145.53V507.77M146.96 506.35V512M147.9 506.93V512M146.96 506.35V503.97H147.9V506.93M144.75 504.77V502.02H147.43V503.97M148.76 509.47V512M149.66 509.88V512M148.76 509.47V508.16H149.66V509.88M150.45 507.58V512M149.21 508.16V505.42H150.45V507.58M151.55 505.23V512M149.83 505.42V503.89H151.55V505.23M152.41 507.55V512M153.22 508.67V512M152.41 507.55V505.67H153.22V508.67M154.15 510.99V512M155.07 510.12V512M154.15 510.99V507.87H155.07V510.12M155.97 507.33V512M154.61 507.87V505.18H155.97V507.33M152.82 505.67V503.64H155.29V505.18M150.69 503.89V501.94H154.05V503.64M146.09 502.02V500.61H152.37V501.94M156.91 507.21V512M158.03 507.52V512M156.91 507.21V505.16H158.03V507.52M159.09 505.33V512M157.47 505.16V502.37H159.09V505.33M160.36 504.55V512M161.41 505V512M160.36 504.55V502.74H161.41V505M158.28 502.37V501.11H160.89V502.74M149.23 500.61V498.72H159.58V501.11M133.38 497.39V495.88H154.41V498.72M162.6 510.61V512M163.76 509.07V512M162.6 510.61V507.6H163.76V509.07M164.36 509.29V512M165.34 509.15V512M164.36 509.29V507.9H165.34V509.15M163.18 507.6V505.89H164.85V507.9M166.51 509.24V512M167.34 510.06V512M166.51 509.24V507.78H167.34V510.06M168.63 509.24V512M166.92 507.78V506.3H168.63V509.24M164.01 505.89V503.4H167.78V506.3M169.93 505.29V512M171.03 505.68V512M169.93 505.29V503.73H171.03V505.68M172.34 508.42V512M173.3 508.23V512M172.34 508.42V505.48H173.3V508.23M174.3 504.47V512M172.82 505.48V503.18H174.3V504.47M170.48 503.73V501.54H173.56V503.18M165.89 503.4V500.29H172.02V501.54M175.38 505.71V512M176.53 506.4V512M175.38 505.71V504.42H176.53V506.4M177.95 505.31V512M175.96 504.42V502.72H177.95V505.31M178.99 509.24V512M179.96 509.06V512M178.99 509.24V506.84H179.96V509.06M181.25 510.77V512M182.22 509.46V512M181.25 510.77V507.64H182.22V509.46M179.47 506.84V504.54H181.73V507.64M183.07 508.41V512M184.08 510.57V512M185.32 511.92V512M184.08 510.57V508.74H185.32V511.92M183.07 508.41V505.58H184.7V508.74M186.37 507V512M187.25 509.72V512M188.04 509.09V512M187.25 509.72V507H188.04V509.09M186.37 507V505.65H187.64V507M183.89 505.58V503.33H187.01V505.65M180.6 504.54V501.54H185.45V503.33M176.95 502.72V499.99H183.03V501.54M188.76 506.03V512M189.73 505.67V512M188.76 506.03V504.38H189.73V505.67M190.77 505.81V512M191.86 506.73V512M190.77 505.81V504.12H191.86V506.73M189.24 504.38V502.14H191.32V504.12M192.84 508.01V512M193.9 508.21V512M192.84 508.01V506.04H193.9V508.21M195.13 505.5V512M193.37 506.04V503.39H195.13V505.5M190.28 502.14V500.9H194.25V503.39M179.99 499.99V498.77H192.26V500.9M168.96 500.29V497.55H186.13V498.77M143.9 495.88V494.45H177.54V497.55M197.06 510.57V512M199.01 511.02V512M197.06 510.57V508.59H199.01V511.02M200.44 510.85V512M201.74 510.9V512M200.44 510.85V507.72H201.74V510.9M198.04 508.59V506.03H201.09V507.72M202.67 508.24V512M203.79 509.72V512M205.22 510.54V512M203.79 509.72V508.23H205.22V510.54M202.67 508.24V506.41H204.51V508.23M199.56 506.03V503.49H203.59V506.41M206.67 504.99V512M208.05 511.01V512M209.05 510.01V512M208.05 511.01V508.4H209.05V510.01M209.94 507.69V512M208.55 508.4V506.27H209.94V507.69M206.67 504.99V503.19H209.25V506.27M201.58 503.49V500.73H207.96V503.19M211.01 509.66V512M211.92 509.88V512M212.69 510.67V512M211.92 509.88V508.28H212.69V510.67M211.01 509.66V506.77H212.31V508.28M213.38 509.54V512M214.16 509.9V512M213.38 509.54V507.47H214.16V509.9M215.04 510.14V512M216.26 510.56V512M215.04 510.14V508.59H216.26V510.56M213.77 507.47V505.51H215.65V508.59M211.66 506.77V503.67H214.71V505.51M217.48 508.14V512M218.71 509.63V512M219.98 510.6V512M218.71 509.63V508.39H219.98V510.6M217.48 508.14V505.32H219.35V508.39M221.24 509.28V512M224 509.47V512M221.24 509.28V506.87H224V509.47M218.41 505.32V503.75H222.62V506.87M213.18 503.67V501.18H220.52V503.75M204.77 500.73V498.55H216.85V501.18M226.6 504.61V512M227.49 504.03V512M226.6 504.61V501.77H227.49V504.03M228.2 501.3V512M227.05 501.77V499.83H228.2V501.3M229.02 503.34V512M229.85 504.5V512M229.02 503.34V501.69H229.85V504.5M230.63 507.54V512M231.78 509.23V512M232.87 509.25V512M231.78 509.23V506.53H232.87V509.25M230.63 507.54V505.17H232.32V506.53M233.92 505.09V512M231.48 505.17V502.12H233.92V505.09M229.44 501.69V500.12H232.7V502.12M227.62 499.83V498.01H231.07V500.12M235.03 506.51V512M235.94 507.17V512M235.03 506.51V504.72H235.94V507.17M236.94 504.58V512M235.48 504.72V502.84H236.94V504.58M237.83 506.44V512M238.61 505.47V512M237.83 506.44V503.89H238.61V505.47M239.34 503.88V512M238.22 503.89V502.54H239.34V503.88M236.21 502.84V500.4H238.78V502.54M239.99 507.2V512M240.91 508.85V512M239.99 507.2V505.79H240.91V508.85M242.01 507.75V512M242.94 508.32V512M242.01 507.75V505.74H242.94V508.32M240.45 505.79V503.23H242.48V505.74M243.9 509.33V512M245.11 509.52V512M243.9 509.33V507.06H245.11V509.52M246.41 506.72V512M244.5 507.06V505.44H246.41V506.72M247.4 507.16V512M248.04 509.63V512M248.8 509.55V512M248.04 509.63V506.73H248.8V509.55M247.4 507.16V504.54H248.42V506.73M245.46 505.44V503.19H247.91V504.54M241.46 503.23V501.91H246.68V503.19M237.5 500.4V499.08H244.07V501.91M229.35 498.01V496.79H240.79V499.08M210.81 498.55V495.42H235.07V496.79M160.72 494.45V492.14H222.94V495.42M249.96 510.86V512M251.15 510.65V512M249.96 510.86V508.15H251.15V510.65M252.82 511.74V512M256.27 510.95V512M252.82 511.74V508.68H256.27V510.95M250.55 508.15V506.25H254.54V508.68M259.24 510.33V512M260.48 510.26V512M259.24 510.33V507.58H260.48V510.26M261.62 509.16V512M259.86 507.58V505.96H261.62V509.16M252.55 506.25V503.18H260.74V505.96M262.73 507.42V512M263.58 506.96V512M262.73 507.42V505.5H263.58V506.96M264.14 508.27V512M264.61 511.11V512M265.36 510.2V512M264.61 511.11V508.58H265.36V510.2M264.14 508.27V506.22H264.98V508.58M263.16 505.5V503.94H264.56V506.22M266.17 506.44V512M267 505.63V512M266.17 506.44V503.38H267V505.63M263.86 503.94V502.02H266.59V503.38M256.64 503.18V500.04H265.22V502.02M267.9 508.34V512M268.75 508.23V512M267.9 508.34V506.28H268.75V508.23M269.77 506.07V512M268.33 506.28V503.57H269.77V506.07M270.79 507.01V512M271.91 508.58V512M270.79 507.01V505.74H271.91V508.58M273.12 509.09V512M274.27 508.95V512M273.12 509.09V506.28H274.27V508.95M271.35 505.74V504.01H273.7V506.28M269.05 503.57V501.52H272.52V504.01M275.22 505.14V512M276.19 506.46V512M275.22 505.14V503.93H276.19V506.46M277.32 502.7V512M275.7 503.93V500.74H277.32V502.7M270.79 501.52V499.3H276.51V500.74M260.93 500.04V497.03H273.65V499.3M278.67 501.68V512M279.81 500.82V512M278.67 501.68V499.51H279.81V500.82M280.64 505.36V512M281.57 505.84V512M280.64 505.36V503.38H281.57V505.84M282.71 505.31V512M283.91 505.66V512M282.71 505.31V502.73H283.91V505.66M281.1 503.38V500.53H283.31V502.73M279.24 499.51V497.86H282.21V500.53M284.84 506.33V512M285.95 506.42V512M284.84 506.33V503.44H285.95V506.42M287.3 503.71V512M285.4 503.44V500.65H287.3V503.71M288.22 502.22V512M289.26 502.87V512M288.22 502.22V500.4H289.26V502.87M286.35 500.65V498.7H288.74V500.4M280.72 497.86V495.5H287.55V498.7M267.29 497.03V492.59H284.13V495.5M191.83 492.14V487.5H275.71V492.59M290.49 503.14V512M291.47 505.86V512M292.52 507.38V512M291.47 505.86V504.42H292.52V507.38M290.49 503.14V501.82H291.99V504.42M293.74 502.72V512M294.89 504.12V512M293.74 502.72V501.47H294.89V504.12M291.24 501.82V499.89H294.31V501.47M296.05 507.62V512M297.14 507.26V512M296.05 507.62V505.15H297.14V507.26M297.97 506.76V512M298.8 507.89V512M297.97 506.76V505.11H298.8V507.89M296.6 505.15V503.22H298.38V505.11M299.91 503.74V512M297.49 503.22V501.27H299.91V503.74M301.18 503.87V512M302.32 505.87V512M303.2 508.04V512M304.23 507.39V512M303.2 508.04V505.86H304.23V507.39M302.32 505.87V503.5H303.72V505.86M301.18 503.87V501.39H303.02V503.5M298.7 501.27V499.18H302.1V501.39M292.78 499.89V497.31H300.4V499.18M305.33 504.77V512M306.36 505.61V512M305.33 504.77V503.34H306.36V505.61M307.68 505.8V512M308.87 509.11V512M309.67 510.47V512M310.63 511.19V512M309.67 510.47V508.79H310.63V511.19M308.87 509.11V506.51H310.15V508.79M307.68 505.8V503.79H309.51V506.51M305.85 503.34V500.9H308.6V503.79M311.59 506.83V512M312.47 508.77V512M313.31 509.63V512M312.47 508.77V506.86H313.31V509.63M311.59 506.83V505.02H312.89V506.86M314.13 505.31V512M312.24 505.02V502.78H314.13V505.31M315.39 508.08V512M316.46 507.29V512M315.39 508.08V505.72H316.46V507.29M318.19 510.51V512M320.28 510.13V512M318.19 510.51V507.87H320.28V510.13M321.88 509.64V512M319.23 507.87V506.51H321.88V509.64M315.93 505.72V503.53H320.56V506.51M313.19 502.78V501.17H318.24V503.53M307.22 500.9V499.6H315.71V501.17M322.97 505.24V512M323.89 504.84V512M322.97 505.24V503.46H323.89V504.84M325.23 504.29V512M323.43 503.46V501.48H325.23V504.29M326.33 506.73V512M327.28 508.42V512M328.17 508V512M327.28 508.42V506.34H328.17V508M326.33 506.73V504.92H327.72V506.34M329.03 510.22V512M329.86 509.91V512M329.03 510.22V507.77H329.86V509.91M330.75 508.81V512M331.81 508.48V512M330.75 508.81V506.89H331.81V508.48M329.44 507.77V504.84H331.28V506.89M327.03 504.92V502.13H330.36V504.84M324.33 501.48V499.6H328.69V502.13M311.47 499.6V497.75H326.51V499.6M296.59 497.31V495.12H318.99V497.75M332.9 502.84V512M333.78 503.5V512M332.9 502.84V500.96H333.78V503.5M334.65 503.83V512M335.88 505.68V512M336.91 505.38V512M335.88 505.68V503.43H336.91V505.38M334.65 503.83V501.33H336.39V503.43M333.34 500.96V499.7H335.52V501.33M337.75 508.91V512M338.53 508.72V512M337.75 508.91V506.16H338.53V508.72M339.18 504.76V512M338.14 506.16V503.27H339.18V504.76M340.07 505.93V512M340.82 504.66V512M340.07 505.93V502.97H340.82V504.66M338.66 503.27V501.11H340.45V502.97M341.61 509.15V512M342.52 509.41V512M341.61 509.15V506.72H342.52V509.41M343.54 506.71V512M342.06 506.72V504.98H343.54V506.71M344.82 505.43V512M342.8 504.98V503.44H344.82V505.43M346.12 503.55V512M343.81 503.44V501.59H346.12V503.55M339.55 501.11V498.72H344.96V501.59M334.43 499.7V496.67H342.26V498.72M347.29 508.57V512M348.37 509.09V512M347.29 508.57V507.11H348.37V509.09M349.28 508.79V512M350.08 508.97V512M349.28 508.79V507.58H350.08V508.97M347.83 507.11V505.05H349.68V507.58M351.22 508.69V512M352.47 507.26V512M351.22 508.69V505.96H352.47V507.26M348.76 505.05V502.82H351.85V505.96M353.49 505.38V512M354.41 505.91V512M353.49 505.38V503.29H354.41V505.91M355.65 504.09V512M353.95 503.29V501.87H355.65V504.09M350.3 502.82V499.67H354.8V501.87M356.71 503.59V512M357.63 507.46V512M358.45 506.01V512M357.63 507.46V504.3H358.45V506.01M356.71 503.59V501.69H358.04V504.3M359.26 505.66V512M360.06 506.08V512M359.26 505.66V504.19H360.06V506.08M360.94 504.97V512M359.66 504.19V502.37H360.94V504.97M357.37 501.69V499.71H360.3V502.37M352.55 499.67V496.72H358.84V499.71M338.34 496.67V494.86H355.69V496.72M307.79 495.12V491.94H347.02V494.86M362.29 504.69V512M363.59 505.87V512M362.29 504.69V503.15H363.59V505.87M364.51 506.2V512M365.16 506.59V512M365.98 506.95V512M365.16 506.59V504.96H365.98V506.95M364.51 506.2V503.14H365.57V504.96M362.94 503.15V500.25H365.04V503.14M367.01 505.65V512M367.86 505.8V512M367.01 505.65V503.96H367.86V505.8M368.66 503.74V512M367.44 503.96V501.05H368.66V503.74M363.99 500.25V498.7H368.05V501.05M369.83 505.46V512M370.93 506.31V512M369.83 505.46V503.88H370.93V506.31M371.77 504.35V512M370.38 503.88V501.76H371.77V504.35M372.75 503.52V512M371.08 501.76V500.39H372.75V503.52M373.94 506.86V512M374.96 510.75V512M376.1 510.59V512M374.96 510.75V507.94H376.1V510.59M377.36 508.71V512M375.53 507.94V506.41H377.36V508.71M373.94 506.86V504.24H376.45V506.41M378.05 506.12V512M378.85 505.78V512M378.05 506.12V504.3H378.85V505.78M375.19 504.24V501.27H378.45V504.3M371.91 500.39V498.33H376.82V501.27M366.02 498.7V497.08H374.37V498.33M379.77 509.46V512M380.67 511.15V512M379.77 509.46V508.12H380.67V511.15M382.98 509.05V512M380.22 508.12V506.33H382.98V509.05M385.12 510.87V512M386.19 511.24V512M385.12 510.87V508.97H386.19V511.24M387.52 511.04V512M389.68 510.07V512M387.52 511.04V508.77H389.68V510.07M385.65 508.97V506.94H388.6V508.77M381.6 506.33V504.25H387.13V506.94M391.8 508.12V512M393.27 509.21V512M391.8 508.12V506.34H393.27V509.21M395.35 510.39V512M397.43 510.99V512M395.35 510.39V508.56H397.43V510.99M399.8 509.15V512M396.39 508.56V506.41H399.8V509.15M392.53 506.34V504.73H398.09V506.41M384.36 504.25V502.32H395.31V504.73M402.17 509.75V512M403.63 508.85V512M402.17 509.75V506.59H403.63V508.85M404.53 509.36V512M405.32 508.7V512M404.53 509.36V506.66H405.32V508.7M406.13 507.91V512M404.92 506.66V505.27H406.13V507.91M402.9 506.59V503.54H405.53V505.27M407.02 508.16V512M407.83 508.13V512M407.02 508.16V505.67H407.83V508.13M408.31 507.47V512M409.07 508.82V512M408.31 507.47V505.69H409.07V508.82M407.42 505.67V503.97H408.69V505.69M404.21 503.54V501.27H408.06V503.97M389.84 502.32V499.19H406.13V501.27M410.19 506.88V512M411.5 506.86V512M410.19 506.88V504.31H411.5V506.86M412.93 504.7V512M410.84 504.31V502.64H412.93V504.7M413.86 507.84V512M414.62 508.01V512M413.86 507.84V506.05H414.62V508.01M415.62 508.07V512M416.63 511.18V512M417.43 511.63V512M416.63 511.18V508.72H417.43V511.63M415.62 508.07V505.53H417.03V508.72M414.24 506.05V503.47H416.32V505.53M411.89 502.64V500.33H415.28V503.47M418.1 507V512M419.13 506.26V512M418.1 507V504.94H419.13V506.26M420.26 509.95V512M421.83 510.87V512M420.26 509.95V508.08H421.83V510.87M423.26 509.38V512M424.35 508.18V512M423.26 509.38V506.64H424.35V508.18M421.05 508.08V504.97H423.8V506.64M418.61 504.94V503.02H422.42V504.97M425.64 509.39V512M427.7 509.17V512M425.64 509.39V506.28H427.7V509.17M429.98 509.1V512M431.11 510.58V512M431.97 511.43V512M431.11 510.58V508.58H431.97V511.43M429.98 509.1V506.18H431.54V508.58M426.67 506.28V503.63H430.76V506.18M420.52 503.02V500.65H428.71V503.63M413.59 500.33V498.05H424.62V500.65M397.99 499.19V496.73H419.1V498.05M370.19 497.08V495.19H408.54V496.73M433.15 504.41V512M434.18 505.04V512M435.01 504.9V512M434.18 505.04V503.48H435.01V504.9M433.15 504.41V501.87H434.6V503.48M436.09 504.42V512M437.29 507.25V512M438.22 507.74V512M437.29 507.25V504.95H438.22V507.74M436.09 504.42V502.99H437.76V504.95M433.87 501.87V499.86H436.92V502.99M439.27 505.75V512M440.55 505.96V512M439.27 505.75V504.05H440.55V505.96M441.52 508.84V512M442.3 509.16V512M441.52 508.84V506.33H442.3V509.16M443.22 508.87V512M444 508.7V512M443.22 508.87V505.9H444V508.7M441.91 506.33V504.49H443.61V505.9M439.91 504.05V501.34H442.76V504.49M444.71 509.48V512M445.59 510.52V512M444.71 509.48V507.73H445.59V510.52M446.52 506.85V512M445.15 507.73V505.12H446.52V506.85M447.74 506.7V512M449.05 508.95V512M449.91 508.87V512M449.05 508.95V506.99H449.91V508.87M447.74 506.7V503.94H449.48V506.99M445.83 505.12V502.63H448.61V503.94M441.33 501.34V499.98H447.22V502.63M435.4 499.86V497.49H444.28V499.98M450.57 507.36V512M451.49 511.24V512M452.3 510.28V512M451.49 511.24V508.14H452.3V510.28M450.57 507.36V505.61H451.89V508.14M453.71 509.79V512M455.51 508.5V512M453.71 509.79V506.64H455.51V508.5M451.23 505.61V503.52H454.61V506.64M456.6 507.47V512M457.4 510.69V512M458.37 510.5V512M457.4 510.69V508.24H458.37V510.5M456.6 507.47V505.18H457.88V508.24M460.27 511.15V512M462.1 509.94V512M460.27 511.15V508.45H462.1V509.94M463.3 508.4V512M461.19 508.45V506.22H463.3V508.4M457.24 505.18V503.46H462.24V506.22M452.92 503.52V500.74H459.74V503.46M464.42 505.25V512M465.15 507.77V512M465.95 506.41V512M465.15 507.77V505.11H465.95V506.41M464.42 505.25V503.5H465.55V505.11M466.94 503.35V512M464.99 503.5V501.31H466.94V503.35M467.91 504.85V512M468.82 505.12V512M467.91 504.85V502.45H468.82V505.12M465.96 501.31V499.31H468.36V502.45M456.33 500.74V497.74H467.16V499.31M439.84 497.49V496.2H461.75V497.74M389.37 495.19V493.44H450.79V496.2M469.97 506.4V512M471.15 508.97V512M472.08 507.71V512M471.15 508.97V506.46H472.08V507.71M469.97 506.4V504.51H471.62V506.46M472.99 506.45V512M473.81 508.13V512M472.99 506.45V504.99H473.81V508.13M470.79 504.51V502.82H473.4V504.99M474.66 504.73V512M475.52 504.18V512M474.66 504.73V502.35H475.52V504.18M472.1 502.82V499.78H475.09V502.35M476.64 506.2V512M477.73 508.06V512M478.62 510.49V512M479.38 510.76V512M478.62 510.49V508.52H479.38V510.76M477.73 508.06V506.79H479V508.52M480.36 507.72V512M478.37 506.79V505.33H480.36V507.72M476.64 506.2V503.51H479.36V505.33M481.94 510.15V512M483.36 510.17V512M481.94 510.15V507.39H483.36V510.17M484.26 508.1V512M485.04 508.72V512M484.26 508.1V505.95H485.04V508.72M482.65 507.39V504.23H484.65V505.95M478 503.51V501.77H483.65V504.23M485.78 507.55V512M486.58 508.19V512M485.78 507.55V506.03H486.58V508.19M487.47 506.88V512M486.18 506.03V504.34H487.47V506.88M488.23 509.38V512M489.36 509.28V512M488.23 509.38V507.12H489.36V509.28M490.43 510.77V512M491.27 509.22V512M490.43 510.77V507.74H491.27V509.22M488.8 507.12V504.64H490.85V507.74M486.83 504.34V502.17H489.82V504.64M480.83 501.77V499.15H488.33V502.17M473.59 499.78V497.41H484.58V499.15M492.06 504.38V512M492.89 504.52V512M492.06 504.38V502.48H492.89V504.52M493.86 503.58V512M492.47 502.48V500.65H493.86V503.58M494.94 503.93V512M495.88 504.11V512M494.94 503.93V502.13H495.88V504.11M493.16 500.65V499.05H495.41V502.13M496.69 503.29V512M497.93 503.9V512M498.95 504.31V512M497.93 503.9V502.01H498.95V504.31M496.69 503.29V500.45H498.44V502.01M494.28 499.05V497.4H497.57V500.45M499.64 506.94V512M500.65 508.39V512M501.67 509.42V512M500.65 508.39V506.88H501.67V509.42M499.64 506.94V504.53H501.16V506.88M502.51 506.46V512M503.53 507.07V512M502.51 506.46V504.21H503.53V507.07M500.4 504.53V502.7H503.02V504.21M504.36 507.37V512M505.29 506.66V512M504.36 507.37V504.43H505.29V506.66M506.15 507.01V512M507.04 507.94V512M506.15 507.01V504.85H507.04V507.94M504.82 504.43V502.36H506.6V504.85M501.71 502.7V500.34H505.71V502.36M508.07 506.83V512M509.08 507.24V512M508.07 506.83V504.69H509.08V507.24M510.11 504.16V512M508.58 504.69V502.92H510.11V504.16M511 502.6V512M509.34 502.92V500.87H511V502.6M503.71 500.34V498.61H510.17V500.87M495.93 497.4V496.12H506.94V498.61M479.08 497.41V494.36H501.43V496.12M420.08 493.44V490.07H490.26V494.36M327.4 491.94V487H455.17V490.07M233.77 487.5V486.6H391.29 V487M123.33 492V484.6H312.53 V486.6" fill="none" stroke="#111" stroke-width="0.8"/></g>
<path d="M119.3 526.6 L119.3 510 L119.3 503.88 L120.47 510.51 L121.65 505.09 L123.35 507.74 L125.02 508.21 L126.86 508.48 L128.92 511.3 L130.63 508.27 L132.19 507.15 L132.99 511.96 L134.82 510.88 L136.73 508.85 L138.82 508.1 L140.89 504.04 L142.12 509.04 L143.97 508.56 L145.77 507.12 L147.42 511.15 L148.96 503.31 L150.58 503 L151.7 504.42 L153.47 505.01 L155.18 503.94 L156.17 510.21 L158.16 503.93 L159.72 507.36 L161.29 504 L162.02 504.01 L163.97 508.27 L165.52 504.63 L167.18 512.11 L168.16 511 L170.05 512.93 L171.54 509.74 L172.72 511 L173.86 509.54 L175.44 512.9 L177.24 504.21 L178.19 506.96 L179.44 510.41 L180.5 508.92 L181.84 506.44 L183.44 507.72 L185.51 504.59 L187.47 509.67 L188.81 504.01 L190.41 511.21 L191.6 510.37 L193.05 504.15 L194.95 506.5 L196.32 510.83 L198.25 511.67 L199.46 511.61 L200.38 508.85 L201.68 511.79 L203.4 509.87 L205.23 506.86 L206.55 504.29 L207.74 505.34 L209.47 504.59 L211.45 509.32 L212.77 504.48 L214.1 508.97 L215 512.79 L216.2 507.72 L217.3 507.12 L218.39 511.68 L219.19 507.03 L220.73 508.16 L221.88 508.21 L222.67 506.46 L223.98 510.87 L225.28 507.53 L226.9 506.15 L228.37 505.29 L229.93 508.73 L231.55 511.87 L233.36 512.9 L234.39 512.58 L235.71 507.05 L237.05 512.29 L239.08 511.23 L240.2 504.47 L241.19 509.99 L242.87 503.86 L243.58 512.96 L244.75 503.57 L246.1 504.23 L247.94 508.64 L249.5 512.34 L250.37 505.51 L252.18 509.38 L253.49 506.95 L255.06 512.5 L257.09 512.25 L259.16 504.61 L259.89 511.45 L260.94 508.57 L262.3 512.76 L263.62 504.65 L264.6 512.13 L266.44 504.7 L268.49 507.1 L270.21 508.98 L272.11 508.26 L272.85 508.91 L274.75 507.49 L276.6 507.84 L277.81 506.98 L278.83 508.37 L280.87 509.23 L282.64 505.13 L283.86 509.13 L285.1 503.14 L287.01 504.58 L288.64 512.83 L289.74 506.07 L290.9 508.76 L292.98 504.76 L294.02 512.06 L295.11 509.95 L296.82 503.01 L297.56 510.8 L299.54 510.2 L300.9 504.27 L302.33 504.37 L303.49 503.49 L304.91 508.04 L306.01 505.57 L306.8 503.4 L307.68 512.84 L308.42 510.41 L309.76 509.2 L310.89 512.83 L312.72 507.43 L314.02 512.26 L314.94 511.86 L316.51 509 L317.96 509.23 L318.78 505.86 L319.98 505.57 L320.8 510.37 L322.09 510.64 L323.34 512.47 L324.38 508.48 L325.67 511.1 L326.55 508.8 L327.89 509.55 L328.91 508.77 L330.99 504.29 L333.05 512.7 L334.38 504.04 L335.78 512.67 L336.48 510.74 L338.27 504.43 L339.81 504.8 L340.65 508.56 L341.77 509.87 L343.21 505.66 L345.2 503.1 L347.02 506.2 L348.98 509.38 L350.32 505.52 L352.22 511.71 L354.26 509.22 L356.26 512.05 L357.89 506.77 L359.44 506.82 L361.28 508.87 L363.19 512.02 L364.95 505.38 L366.11 504.09 L367.28 504.89 L368.4 511.12 L369.27 512.26 L371.26 510.92 L372.29 506.29 L373.64 509.49 L375.63 503.3 L376.45 511.38 L377.18 512.04 L378.14 512.79 L379.5 509.37 L381.36 511.39 L382.64 507.97 L384.44 505.94 L385.57 511.83 L387.5 511.43 L388.69 506.82 L389.53 511.48 L390.3 505.17 L391.03 507.95 L393.13 503.92 L394.18 506.06 L395.86 506.95 L396.81 510.18 L398.77 504.98 L399.55 507.46 L401.56 503.79 L402.46 509.74 L404.22 507.89 L404.99 508.85 L405.82 503.96 L406.6 512.43 L407.45 508.12 L409.3 505.36 L410.54 511.12 L412.03 505.29 L413.49 512.95 L415.33 512.66 L416.06 503.77 L417.47 503.2 L419.52 506.3 L420.99 511.89 L422.28 510.86 L423.2 507.83 L424.91 508.05 L425.87 511.72 L427.07 512.21 L428.21 511.43 L429.09 510.02 L431.12 509.58 L432.4 512.83 L434.45 511.39 L435.46 504.14 L437.02 504.64 L437.81 508.89 L439.83 506.09 L441.68 512.65 L443.7 504.05 L444.59 512.6 L446.64 505.05 L447.59 510.37 L448.43 504.3 L449.35 509.11 L450.57 511.57 L451.48 512.07 L453.29 507.13 L454.83 510.04 L455.7 512.39 L457.02 508.5 L458.91 503.31 L459.99 503.44 L461.72 505.54 L463.42 510.42 L465.52 505.14 L466.8 511.07 L468.12 505.09 L469.76 511.13 L471.09 507.2 L471.97 507.44 L473.85 506.93 L475.89 506.96 L477.25 510.99 L479.23 511.59 L480.52 507.89 L481.4 508.73 L483.25 505.25 L484.39 503.86 L485.73 508.17 L487.81 509.97 L489.8 505.35 L491.11 510.27 L491.91 509.04 L493.49 503.39 L494.47 511.03 L495.4 509.67 L496.69 507.28 L498.62 507.35 L500.55 511.37 L502.02 504.28 L503.19 512.59 L504.26 509.22 L505.24 510.56 L506.9 512 L508.44 504.38 L510.25 509.09 L512 510 L512 526.6 Z" fill="#0a0a0a" stroke="none" stroke-width="1" />
<rect x="0" y="0" width="520" height="1.35" fill="#000"/>
<rect x="0" y="0" width="1.2" height="641" fill="#000"/>
<rect x="518.5" y="0" width="1.5" height="641" fill="#000"/>
<rect x="0" y="639" width="520" height="2" fill="#000"/>
</svg></body></html>
